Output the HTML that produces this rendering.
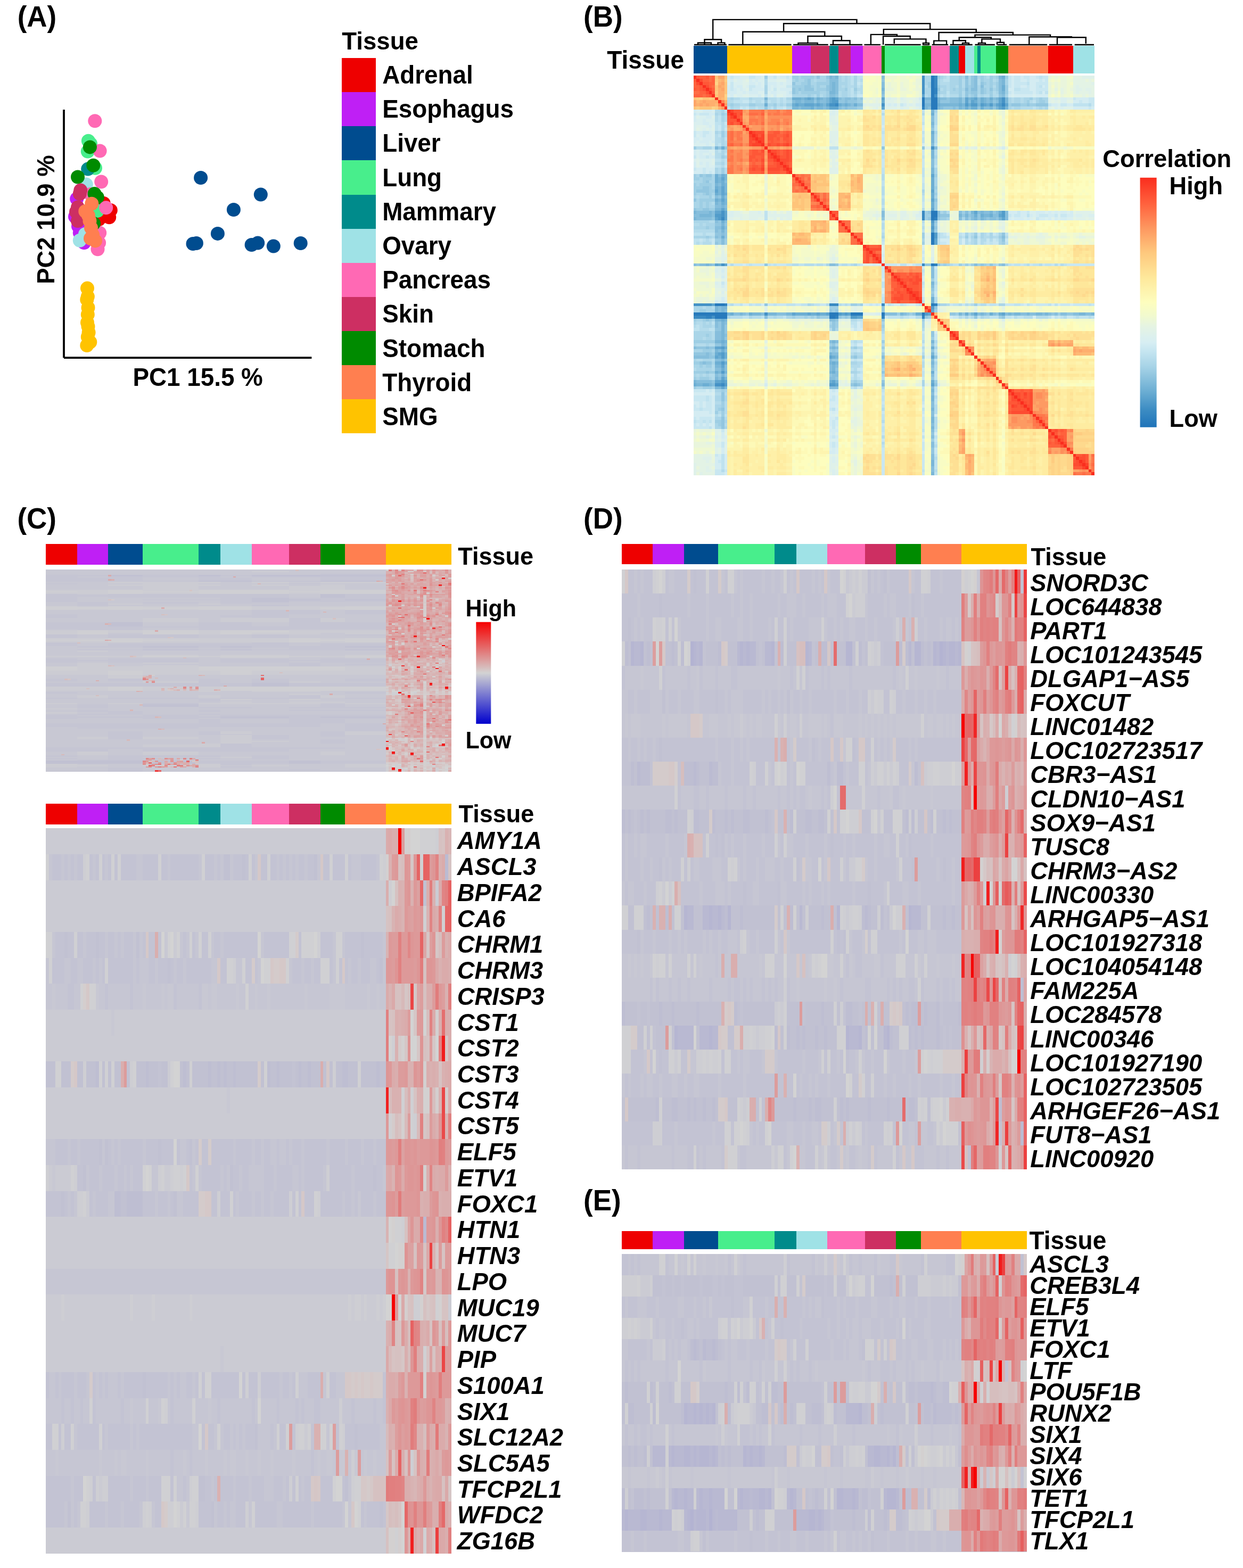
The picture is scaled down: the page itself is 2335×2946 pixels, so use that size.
<!DOCTYPE html>
<html lang="en"><head><meta charset="utf-8"><title>Figure</title>
<style>html,body{margin:0;padding:0;background:#fff}body{width:2335px;height:2946px;overflow:hidden}svg{display:block}text{font-family:'Liberation Sans',sans-serif;font-weight:bold;fill:#000}</style>
</head><body>
<svg width="2335" height="2946" viewBox="0 0 2335 2946">
<rect width="2335" height="2946" fill="#fff"/>
<text transform="translate(32.7 49.8) scale(1 1.03)" font-size="53">(A)</text>
<path d="M120 206V672.2M120 672.2H585.4" fill="none" stroke="#000" stroke-width="3.8"/>
<text transform="translate(371.6 725.0) scale(1 1.03)" font-size="45.8" text-anchor="middle">PC1 15.5 %</text>
<text transform="translate(102,412.6) rotate(-90) scale(1 1.03)" font-size="45.4" text-anchor="middle">PC2 10.9 %</text>
<circle cx="144.2" cy="373.4" r="13.0" fill="#bf1ff5"/>
<circle cx="149.8" cy="437.5" r="13.0" fill="#bf1ff5"/>
<circle cx="158" cy="456" r="13.0" fill="#bf1ff5"/>
<circle cx="141" cy="407" r="13.0" fill="#bf1ff5"/>
<circle cx="147" cy="425" r="13.0" fill="#bf1ff5"/>
<circle cx="161.8" cy="346.4" r="13.0" fill="#9fe2e6"/>
<circle cx="149.8" cy="451.7" r="13.0" fill="#9fe2e6"/>
<circle cx="157" cy="360" r="13.0" fill="#9fe2e6"/>
<circle cx="160" cy="440" r="13.0" fill="#9fe2e6"/>
<circle cx="165.9" cy="264.8" r="13.0" fill="#48ee8c"/>
<circle cx="164.8" cy="284.6" r="13.0" fill="#48ee8c"/>
<circle cx="179" cy="315.7" r="13.0" fill="#48ee8c"/>
<circle cx="170" cy="270" r="13.0" fill="#48ee8c"/>
<circle cx="165.2" cy="317.6" r="13.0" fill="#008b8b"/>
<circle cx="178.3" cy="227.3" r="13.0" fill="#ff69b4"/>
<circle cx="187.6" cy="283.5" r="13.0" fill="#ff69b4"/>
<circle cx="190.2" cy="341.5" r="13.0" fill="#ff69b4"/>
<circle cx="187.2" cy="437.5" r="13.0" fill="#ff69b4"/>
<circle cx="186.1" cy="456.2" r="13.0" fill="#ff69b4"/>
<circle cx="183.5" cy="468.2" r="13.0" fill="#ff69b4"/>
<circle cx="170" cy="365" r="13.0" fill="#ff69b4"/>
<circle cx="194.7" cy="382" r="13.0" fill="#ee0000"/>
<circle cx="207.8" cy="395" r="13.0" fill="#ee0000"/>
<circle cx="205.2" cy="408.2" r="13.0" fill="#ee0000"/>
<circle cx="190" cy="395" r="13.0" fill="#ee0000"/>
<circle cx="186" cy="412" r="13.0" fill="#ee0000"/>
<circle cx="183" cy="396" r="13.0" fill="#48ee8c"/>
<circle cx="168.9" cy="276.4" r="13.0" fill="#008b00"/>
<circle cx="175.3" cy="310.8" r="13.0" fill="#008b00"/>
<circle cx="146" cy="332.5" r="13.0" fill="#008b00"/>
<circle cx="177.5" cy="364" r="13.0" fill="#008b00"/>
<circle cx="182.8" cy="370.8" r="13.0" fill="#008b00"/>
<circle cx="176" cy="420" r="13.0" fill="#008b00"/>
<circle cx="199.2" cy="390.2" r="13.0" fill="#ff69b4"/>
<circle cx="151.3" cy="357.6" r="13.0" fill="#cd2f62"/>
<circle cx="149.8" cy="364" r="13.0" fill="#cd2f62"/>
<circle cx="146" cy="389.5" r="13.0" fill="#cd2f62"/>
<circle cx="143" cy="398" r="13.0" fill="#cd2f62"/>
<circle cx="146" cy="415" r="13.0" fill="#cd2f62"/>
<circle cx="150" cy="405" r="13.0" fill="#cd2f62"/>
<circle cx="172.3" cy="382.7" r="13.0" fill="#ff7f50"/>
<circle cx="160.3" cy="397" r="13.0" fill="#ff7f50"/>
<circle cx="168.5" cy="415" r="13.0" fill="#ff7f50"/>
<circle cx="166" cy="405" r="13.0" fill="#ff7f50"/>
<circle cx="171" cy="428" r="13.0" fill="#ff7f50"/>
<circle cx="174.1" cy="441.2" r="13.0" fill="#ff7f50"/>
<circle cx="179" cy="452.4" r="13.0" fill="#ff7f50"/>
<circle cx="170" cy="448" r="13.0" fill="#ff7f50"/>
<circle cx="377.1" cy="334" r="13.0" fill="#004c8f"/>
<circle cx="489.8" cy="365.5" r="13.0" fill="#004c8f"/>
<circle cx="438.9" cy="394" r="13.0" fill="#004c8f"/>
<circle cx="408.9" cy="438.9" r="13.0" fill="#004c8f"/>
<circle cx="362.5" cy="458" r="13.0" fill="#004c8f"/>
<circle cx="368.9" cy="457" r="13.0" fill="#004c8f"/>
<circle cx="472.6" cy="460" r="13.0" fill="#004c8f"/>
<circle cx="484.2" cy="456.5" r="13.0" fill="#004c8f"/>
<circle cx="513.8" cy="462.5" r="13.0" fill="#004c8f"/>
<circle cx="564.7" cy="457" r="13.0" fill="#004c8f"/>
<circle cx="164" cy="541.6" r="13.0" fill="#ffc300"/>
<circle cx="164.8" cy="557.3" r="13.0" fill="#ffc300"/>
<circle cx="163.3" cy="562.9" r="13.0" fill="#ffc300"/>
<circle cx="165.5" cy="577.9" r="13.0" fill="#ffc300"/>
<circle cx="164.8" cy="591" r="13.0" fill="#ffc300"/>
<circle cx="164" cy="606" r="13.0" fill="#ffc300"/>
<circle cx="165.5" cy="613.5" r="13.0" fill="#ffc300"/>
<circle cx="166.6" cy="624.7" r="13.0" fill="#ffc300"/>
<circle cx="164.8" cy="633" r="13.0" fill="#ffc300"/>
<circle cx="169.3" cy="642.7" r="13.0" fill="#ffc300"/>
<circle cx="163.3" cy="649" r="13.0" fill="#ffc300"/>
<text transform="translate(642.3 93.3) scale(1 1.03)" font-size="45.6">Tissue</text>
<g shape-rendering="crispEdges">
<rect x="641.8" y="109.3" width="64.1" height="64.1" fill="#ee0000"/>
<rect x="641.8" y="173.35" width="64.1" height="64.1" fill="#bf1ff5"/>
<rect x="641.8" y="237.4" width="64.1" height="64.1" fill="#004c8f"/>
<rect x="641.8" y="301.45" width="64.1" height="64.1" fill="#48ee8c"/>
<rect x="641.8" y="365.5" width="64.1" height="64.1" fill="#008b8b"/>
<rect x="641.8" y="429.55" width="64.1" height="64.1" fill="#9fe2e6"/>
<rect x="641.8" y="493.6" width="64.1" height="64.1" fill="#ff69b4"/>
<rect x="641.8" y="557.65" width="64.1" height="64.1" fill="#cd2f62"/>
<rect x="641.8" y="621.7" width="64.1" height="64.1" fill="#008b00"/>
<rect x="641.8" y="685.75" width="64.1" height="64.1" fill="#ff7f50"/>
<rect x="641.8" y="749.8" width="64.1" height="64.1" fill="#ffc300"/>
</g>
<text transform="translate(718.2 157.1) scale(1 1.03)" font-size="45.8">Adrenal</text>
<text transform="translate(718.2 221.3) scale(1 1.03)" font-size="45.8">Esophagus</text>
<text transform="translate(718.2 285.4) scale(1 1.03)" font-size="45.8">Liver</text>
<text transform="translate(718.2 349.6) scale(1 1.03)" font-size="45.8">Lung</text>
<text transform="translate(718.2 413.8) scale(1 1.03)" font-size="45.8">Mammary</text>
<text transform="translate(718.2 478.0) scale(1 1.03)" font-size="45.8">Ovary</text>
<text transform="translate(718.2 542.1) scale(1 1.03)" font-size="45.8">Pancreas</text>
<text transform="translate(718.2 606.3) scale(1 1.03)" font-size="45.8">Skin</text>
<text transform="translate(718.2 670.5) scale(1 1.03)" font-size="45.8">Stomach</text>
<text transform="translate(718.2 734.6) scale(1 1.03)" font-size="45.8">Thyroid</text>
<text transform="translate(718.2 798.8) scale(1 1.03)" font-size="45.8">SMG</text>
<text transform="translate(1096.0 50.2) scale(1 1.03)" font-size="53">(B)</text>
<text transform="translate(1285.0 129.4) scale(1 1.03)" font-size="46" text-anchor="end">Tissue</text>
<g shape-rendering="crispEdges">
<rect x="1302.6" y="86" width="63.77" height="52.3" fill="#004c8f"/>
<rect x="1366.37" y="86" width="121.74" height="52.3" fill="#ffc300"/>
<rect x="1488.1" y="86" width="34.78" height="52.3" fill="#bf1ff5"/>
<rect x="1522.88" y="86" width="34.78" height="52.3" fill="#cd2f62"/>
<rect x="1557.66" y="86" width="17.39" height="52.3" fill="#008b8b"/>
<rect x="1575.06" y="86" width="23.19" height="52.3" fill="#cd2f62"/>
<rect x="1598.24" y="86" width="23.19" height="52.3" fill="#bf1ff5"/>
<rect x="1621.43" y="86" width="34.78" height="52.3" fill="#ff69b4"/>
<rect x="1656.21" y="86" width="5.8" height="52.3" fill="#008b00"/>
<rect x="1662.01" y="86" width="69.56" height="52.3" fill="#48ee8c"/>
<rect x="1731.57" y="86" width="17.39" height="52.3" fill="#008b00"/>
<rect x="1748.96" y="86" width="34.78" height="52.3" fill="#ff69b4"/>
<rect x="1783.74" y="86" width="17.39" height="52.3" fill="#008b8b"/>
<rect x="1801.14" y="86" width="11.59" height="52.3" fill="#ee0000"/>
<rect x="1812.73" y="86" width="17.39" height="52.3" fill="#9fe2e6"/>
<rect x="1830.12" y="86" width="5.8" height="52.3" fill="#48ee8c"/>
<rect x="1835.92" y="86" width="5.8" height="52.3" fill="#008b8b"/>
<rect x="1841.71" y="86" width="28.98" height="52.3" fill="#48ee8c"/>
<rect x="1870.7" y="86" width="23.19" height="52.3" fill="#008b00"/>
<rect x="1893.89" y="86" width="75.36" height="52.3" fill="#ff7f50"/>
<rect x="1969.25" y="86" width="46.38" height="52.3" fill="#ee0000"/>
<rect x="2015.62" y="86" width="40.58" height="52.3" fill="#9fe2e6"/>
</g>
<g shape-rendering="crispEdges">
<rect x="1302.6" y="142.2" width="753.6" height="750.9" fill="#feeca1"/>
<g transform="translate(1302.6 145.0881) scale(5.7969 5.7762)" fill="none" stroke-width="1">
<path stroke="#277abc" d="M77 0h1M77 1h1M77 2h1M77 3h1M77 4h1M77 5h1M77 6h1M74 7h1m2 0h2M74 8h1m2 0h2M74 9h1m2 0h2m-2 1h2M77 44h2m-2 1h2m-2 1h1m-1 5h1m-1 1h1m-1 1h1m-1 1h1m-1 7h1M7 74h3m67 0h1M0 77h11m33 0h3m4 0h4m6 0h1m12 0h1M7 78h4m33 0h2"/>
<path stroke="#3082bf" d="M78 4h1M78 5h1m-5 5h1m3 36h1M78 61h1M10 74h1m67 0h1M4 78h2m40 0h1m14 0h1m12 0h1"/>
<path stroke="#3989c2" d="M78 0h1M78 1h1M78 2h1M78 3h1M46 9h1m53 0h1M74 44h1m-1 1h1M9 46h1m64 0h1M74 61h1M44 74h3m14 0h1M0 78h4m5 22h1"/>
<path stroke="#4592c6" d="M74 0h1M74 1h1M74 2h1M74 3h1M74 4h1M74 5h1m3 1h1m21 1h1m-1 1h1M44 9h2M61 9h1M77 23h1M9 44h1M9 45h1M9 61h1M0 74h6m17 3h1M6 78h1m0 22h2"/>
<path stroke="#529cca" d="M45 7h1M45 8h2M88 9h1m1 0h2m1 0h1m2 0h1m2 0h1m0 1h1m-1 34h1M7 45h2m91 0h1M8 46h1m68 1h1m-1 2h1m0 2h1m-1 1h1M77 75h1M47 77h1m1 0h1m25 0h1M51 78h2M9 88h1M9 90h1M9 91h1M9 93h1M9 96h1M9 99h1m0 1h1m33 0h2"/>
<path stroke="#5fa5cf" d="M74 6h1M37 7h1m6 0h1m1 0h1M61 7h1M88 7h1m2 0h1m7 0h1M44 8h1M88 8h1m1 0h1m8 0h1M33 9h1m2 0h3m1 0h1m2 0h1M94 9h1m3 0h1m2 0h1M44 10h3m14 0h1m37 0h1M77 32h1M9 33h1M9 36h1M7 37h1m1 0h1m67 0h1M9 38h1M9 40h1m67 0h1M9 43h1m67 0h1M7 44h2m1 0h1m80 0h1M10 45h1m88 0h1M7 46h1m2 0h1m89 0h1M77 48h1m-1 2h1m0 3h1m-1 1h1M7 61h1m2 0h1M6 74h1m70 2h1M32 77h1m4 0h1m2 0h1m2 0h1m4 0h1m1 0h1m25 0h1m14 0h1m8 0h1M53 78h2M7 88h2M8 90h1M7 91h1m36 0h1m32 0h1M9 94h1M9 98h1M7 99h2m1 0h1m34 0h1m0 1h1m30 0h1M9 101h1"/>
<path stroke="#6caed3" d="M100 0h1m-1 3h1m-1 1h1M32 7h3m1 0h1m1 0h1m1 0h1M90 7h1m2 0h1m2 0h1M61 8h1M91 8h1m1 0h1M23 9h1m8 0h1m1 0h2m3 0h1m1 0h1m5 0h1m1 0h1m2 0h1M79 9h1m6 0h1m2 0h1m5 0h1M38 10h1m49 0h1m1 0h2m1 0h1M77 12h1m-1 6h1M9 23h1M7 32h1m1 0h1M7 33h1m69 0h1M7 34h1m1 0h1m67 0h1M9 35h1m67 0h1M7 36h1m69 0h1M7 38h1m2 0h1m66 0h1M9 39h1m67 0h1M7 40h1m1 1h1m67 0h1m-1 1h1m21 2h1m-9 1h1m1 0h1m2 0h1M9 47h1M9 49h1M9 52h1M8 61h1M77 72h1m-1 1h1M12 77h1m5 0h1m14 0h4m1 0h2m1 0h2m29 0h2m14 0h1m7 0h1m2 0h1M9 79h1M9 86h1m0 2h1m66 0h1M9 89h1M7 90h1m2 0h1M8 91h1m1 0h1m34 0h1M7 93h2m1 0h1m34 0h1M9 95h1M7 96h1m37 0h1m31 0h1M44 99h1m32 0h1M0 100h1m2 0h2"/>
<path stroke="#79b6d7" d="M44 0h1m1 0h1M99 0h1m0 1h1M45 2h1m54 0h1M45 3h1M45 4h1M61 4h1M44 5h2m54 0h1M23 7h1M35 7h1m5 0h1m1 0h1M75 7h2m2 0h1m6 0h1m2 0h1m4 0h1m3 0h1m2 0h1M33 8h2m1 0h3m1 0h1m2 0h1M79 8h1m6 0h1m7 0h1m1 0h1m4 0h1M42 9h1m5 0h1m1 0h1M75 9h2m3 0h6m1 0h1m4 0h1m4 0h1M32 10h2m1 0h3m2 0h2m1 0h1m31 0h1m3 0h1m6 0h1m9 0h1m1 0h1m2 0h1M77 11h1m-1 4h1m-1 4h1m-1 1h1m-1 1h1M7 23h1m69 1h1m-1 1h1m-1 1h1m-1 4h1m-1 1h1M10 32h1M8 33h1m1 0h1M8 34h1M7 35h1m2 0h1M8 36h1m1 0h1M8 37h1m1 0h1M8 38h1M8 40h1m1 0h1M7 41h1m2 0h1M9 42h1M7 43h2m1 0h1M0 44h1m4 0h1m84 0h1m2 0h1m2 0h1M2 45h4m80 0h1m1 0h1m5 0h2M0 46h1m90 0h1m1 0h1m5 0h1M9 48h1M9 50h1M4 61h1m72 6h1M7 75h1m1 0h2M7 76h1m1 0h1m1 1h1m3 0h1m3 0h3m2 0h3m3 0h2m35 0h1m18 0h1m3 0h1m2 0h1m8 0h1m1 0h2m2 0h1m2 0h2m1 0h1m10 0h2m2 0h1M7 79h2m1 0h1M9 80h1M9 81h1M9 82h1M9 83h1M9 84h1M9 85h1M7 86h2m1 0h1m34 0h1m31 0h1M9 87h1m35 1h1M7 89h1m36 1h1m32 0h1M46 91h1M9 92h1m34 1h1m1 0h1m30 0h1M7 94h2m36 0h1m-1 1h1M8 96h1m1 0h1m33 0h1M9 97h1M7 98h1m2 0h1M0 99h1m45 0h1M1 100h2m2 0h1m1 1h2m1 0h1m66 1h1m-1 2h1m-1 1h1m-1 3h1m-1 3h1m-1 1h1m-1 2h1m-1 11h1m-1 1h1m-1 3h1"/>
<path stroke="#86bedc" d="M45 0h1M61 0h1M88 0h1m2 0h1M44 1h3M91 1h1m7 0h1M44 2h1m1 0h1M61 2h1M91 2h1m7 0h1M44 3h1m1 0h1M61 3h1M91 3h1m1 0h1m5 0h1M44 4h1m1 0h1M88 4h1m1 0h2m7 0h1M46 5h1M61 5h1M99 5h1M44 6h2m54 0h1M39 7h1m2 0h1m4 0h1m1 0h2m1 0h1M80 7h2m1 0h3m6 0h1m2 0h1m1 0h1M32 8h1m2 0h1m5 0h2m6 0h1M75 8h2m6 0h3m3 0h1m2 0h1m2 0h1m2 0h1M51 9h1m1 0h2M34 10h1m4 0h1m2 0h1m4 0h1m1 0h1m26 0h1m3 0h1m3 0h1m2 0h1m1 0h1m4 0h2M77 13h1m-1 1h1m-1 2h1m-1 6h1m0 1h1m-2 4h1m-1 1h1m-1 1h1M8 32h1m1 2h1M8 35h1M7 39h1m2 0h1M8 41h1M7 42h2m1 0h1M1 44h4m1 0h1m54 0h1m17 0h1m6 0h1m1 0h1m3 0h1m1 0h2m2 0h1m2 0h1M0 45h2m4 0h1m54 0h1m17 0h1m10 0h1m6 0h2m2 0h1M1 46h5m80 0h1m1 0h1m1 0h1m3 0h1m1 0h2m3 0h1M7 47h1m2 0h1M7 49h2m1 0h1M7 50h1m1 1h1M7 52h1m92 0h1M9 53h1M9 54h1M0 61h1m1 0h2m1 0h1m38 0h2m45 0h1m8 0h1M77 62h1m-1 1h1m-1 1h1m-1 1h1m-1 3h1M8 75h1M8 76h1m1 0h1m2 1h2m1 0h1m5 0h1m4 0h3m32 0h4m2 0h1m23 0h1m1 0h1m2 0h1m3 0h1m1 0h1m2 0h2m1 0h2m2 0h1m1 0h1m1 0h1m1 0h2m2 0h2m2 0h2M23 78h1m20 1h2M7 80h1m2 0h1M7 81h1M7 83h2M7 84h2m1 0h1M7 85h2m35 1h1m1 0h1M10 87h1M0 88h1m3 0h1m39 0h1m1 0h1M8 89h1m1 0h1M4 90h1m40 0h2M0 91h5m56 0h1M7 92h2m35 0h1m32 0h1M3 93h1m6 1h1m33 0h1m1 0h1m30 0h1M7 95h2m1 0h1m33 0h1m1 1h1M7 97h1m37 0h2m30 0h1M8 98h1m35 0h2M1 99h5m0 1h1m45 0h1m8 0h1m-18 1h3m30 0h1m-1 2h1m-1 3h1m-1 1h1m-1 2h1m-1 1h1m-1 3h1m-1 2h1m-1 2h1m-1 2h1m-1 1h1m-1 3h1m-1 1h1m-1 3h1m-1 1h1"/>
<path stroke="#92c6e0" d="M40 0h1m2 0h1M90 0h1M37 1h1M61 1h1M88 1h1m1 0h1M32 2h1m4 0h1M88 2h1m1 0h1m2 0h1M36 3h2m5 0h1M88 3h1m1 0h1M32 4h1m1 0h1m1 0h3m4 0h1M79 4h1M93 4h1m2 0h1M32 5h1M88 5h1m1 0h2m1 0h1M46 6h1M61 6h1M88 6h1m2 0h1m7 0h1M48 7h1m2 0h1m2 0h1M82 7h1m4 0h1M23 8h1M39 8h1m7 0h2m1 0h3M80 8h3m4 0h1m9 0h1m5 1h3m2 0h1m2 0h4M23 10h1m24 0h1m1 0h3m28 0h3m1 0h1m6 0h1m4 0h1M77 17h1M8 23h1m1 0h1m50 0h1m12 0h1M2 32h1m1 0h2M4 34h1M3 36h2M1 37h4M4 38h1m3 1h1M0 40h1m77 0h1M0 43h1m2 0h2m71 1h1m20 0h1M80 45h3m4 0h1m1 0h1m2 0h1M6 46h1m54 0h1m14 0h1m2 0h1m12 0h1m2 0h1m2 0h1M8 47h1m69 0h1M7 48h2m1 0h1m67 1h1M8 50h1m1 0h1M7 51h2m1 0h1m89 0h1M8 52h1m1 0h1m80 0h1m8 1h1M7 54h1M1 61h1m4 0h1m16 0h1m22 0h1m28 0h2m2 0h1m13 0h1m2 0h1m2 0h1M77 69h1m-1 2h1M23 74h1m37 1h1m16 0h1M44 76h1m1 0h1m14 0h1M17 77h1m51 0h1m1 0h1m11 0h2m2 0h1m1 0h1m5 0h1m2 0h1m17 0h1m4 0h2M40 78h1m6 0h1m1 0h1m25 0h1m15 0h1m8 0h1M4 79h1m41 0h1m14 0h1M8 80h1m36 0h1M8 81h1m1 0h1m34 0h1M7 82h2m1 0h1m34 0h1M10 83h1m66 0h1m-1 1h1M10 85h1M7 87h2m36 0h1m31 0h1M1 88h3m1 0h2m38 1h1m31 0h1M0 90h4m1 0h1M5 91h2m45 0h1m25 0h1M10 92h1m34 0h2M2 93h1m1 0h2m55 0h1M46 95h1m30 0h1M4 96h1m56 0h1M8 97h1m1 0h1m33 0h1m1 1h1m30 0h1M6 99h1m54 0h1m-11 1h1m1 0h1m24 0h1M9 103h1m-1 1h1m-1 1h1m-1 3h1m-1 3h1m-1 1h1m-1 1h1m-1 1h1m67 2h1m-1 5h1m-1 1h1"/>
<path stroke="#9ecee4" d="M23 0h1m8 0h2m1 0h4M79 0h1m6 0h1m6 0h1m2 0h1m1 0h1m2 0h1M33 1h1m2 0h1m6 0h1M86 1h1m6 0h1m2 0h1M35 2h2m3 0h4M76 2h1m9 0h1m7 0h1m1 0h1m1 0h1M32 3h4m2 0h1m1 0h1M76 3h1m2 0h1m6 0h1m2 0h1m6 0h1m1 0h1m2 0h1M33 4h1m1 0h1m4 0h3m6 0h1m2 0h1M84 4h1m1 0h1m2 0h1m4 0h1m3 0h1m2 0h1M33 5h1m1 0h6m2 0h1M79 5h1m6 0h1m2 0h1m4 0h1m1 0h1m4 0h1M37 6h1m2 0h1m2 0h1M86 6h1m3 0h1m5 0h1M53 7h1m55 0h1m2 0h1M53 8h2m53 0h1m3 0h2M12 9h1m5 0h2m6 0h1m3 0h2m70 0h1m3 0h2m1 0h2M53 10h2M9 12h1M9 18h1M9 19h1M0 23h1m8 3h1M9 30h1M9 31h1M0 32h1m2 0h1m74 0h1M0 33h2m1 0h3M3 34h1M0 35h1m1 0h4M0 36h3m2 0h1m72 0h1M0 37h1m4 0h2M0 38h1m2 0h1m1 0h1m72 0h1M5 39h1M2 40h5M2 41h1m1 0h1m73 0h1M2 42h1m1 0h1m73 0h1M1 43h2m2 0h2m71 0h1m-4 1h1m5 0h1m5 0h1m1 0h1M75 45h2m-2 1h1m4 0h2m7 0h1M78 48h1M4 49h1m73 1h1m-5 1h1m16 0h1M4 52h1m69 0h1m13 0h1m10 0h1M7 53h2m1 0h1M8 54h1m1 0h1m63 0h1m25 0h1M81 61h1m4 0h1m1 0h1m1 0h1m1 0h1m1 0h1M77 66h1m-1 4h1M51 74h2m1 0h1m24 0h1m11 0h1M44 75h3M2 76h2m41 0h1m32 0h1M66 77h1m3 0h1m14 0h1m32 0h1M32 78h1m3 0h1m1 0h1m2 0h3m4 0h1m1 0h1m25 0h1m22 0h1M0 79h1m2 0h1m1 0h1m68 0h1M46 80h1m-3 1h1m1 0h1m14 0h1M4 84h1m72 1h1M0 86h7m54 0h1M44 87h1m7 1h1m8 0h1M3 89h3m38 0h1m1 0h1M6 90h1m54 0h1M51 91h1m22 0h1M61 92h1M0 93h2m0 1h1m1 0h2m55 0h1M0 96h4m1 0h2M0 98h1m1 0h3m47 1h1m25 0h1m-25 1h1M0 101h1m2 0h3m3 1h1m-1 4h1m-1 1h1m-2 1h1m-2 1h1m1 0h1m-1 1h1m-3 2h2m-1 1h1m68 5h1"/>
<path stroke="#aad5e8" d="M34 0h1m4 0h1m1 0h2m4 0h1m1 0h1m2 0h1M75 0h2m3 0h1m2 0h3m1 0h1m1 0h1m2 0h1m1 0h1m2 0h1M32 1h1m1 0h2m2 0h1m1 0h3m4 0h1m1 0h1m2 0h1M75 1h2m2 0h1m3 0h3m3 0h1m4 0h2m2 0h1m2 0h1M33 2h2m3 0h2m7 0h3m2 0h1M75 2h1m3 0h1m3 0h3m3 0h1m5 0h1m1 0h1m3 0h1M23 3h1M39 3h1m1 0h2m4 0h1m1 0h1m2 0h1M80 3h2m1 0h2m7 0h1m1 0h2M23 4h1M39 4h1m7 0h2M75 4h2m4 0h1m1 0h1m1 0h1m1 0h1m4 0h1m2 0h1m1 0h1M23 5h1M34 5h1m6 0h2m5 0h2m2 0h1M75 5h2m3 0h2m1 0h3m6 0h1m2 0h1m2 0h1M32 6h5m1 0h1m3 0h1m5 0h2M76 6h1m2 0h1m9 0h1m3 0h1m7 0h1M12 7h1m5 0h1M30 7h2m70 0h1m1 0h2m1 0h2m2 0h1m1 0h2M102 8h1m1 0h2m1 0h1m3 0h1m2 0h1M11 9h1m1 0h2m5 0h3m1 0h2m2 0h1M12 10h1m13 0h1m75 0h1m1 0h2m6 0h1m1 0h1M9 11h1m68 0h1M7 12h1m2 0h1M9 13h1M9 14h1M7 18h1m70 0h1M9 20h1M9 21h1M9 22h1M3 23h3m3 1h1M9 25h1m0 1h1m67 0h1M9 28h1M7 30h1m70 0h1M7 31h1m70 0h1M1 32h1m4 0h1M2 33h1m3 0h1m71 0h1M0 34h3m2 0h2m71 0h1M1 35h1m4 0h1m71 0h1M6 36h1m67 1h1m3 0h1M1 38h2m3 0h1M0 39h1m1 0h3m73 0h1M1 40h1M0 41h2m1 0h1m1 0h1M0 42h2m1 0h1m1 0h2m54 1h1m18 1h1m1 2h1m4 0h1M0 47h5M2 48h1m1 0h3M0 49h4m1 0h2m81 2h1m4 0h1m2 0h1m2 0h1M0 52h4m1 0h1m55 0h1m28 0h1m2 0h1m2 0h1M74 53h1m16 0h1m7 0h1m-9 1h1m7 0h1M43 61h1m8 0h1m27 0h1m1 0h1m12 0h1m1 0h1m3 0h1M37 74h1m15 0h1m26 0h2m17 0h2M0 75h3m1 0h2M0 76h2m2 0h3m4 2h1m6 0h1m7 0h1m3 0h2m1 0h3m1 0h1m1 0h1m48 0h1m4 0h1M1 79h2m3 0h1M0 80h1m2 0h1m1 0h1m38 0h1m16 0h1m12 0h1M3 81h3m68 0h1M46 82h1m14 0h1M0 83h6M0 84h4m1 0h1M0 85h3m1 0h2M0 87h1m3 0h1m41 0h1m4 1h1m26 0h1M0 89h3m3 0h1m45 1h1m0 1h2M0 92h1m2 0h3m0 1h1m44 0h2m25 0h1M0 94h2m1 0h1M1 95h5m55 0h1M51 96h2M0 97h1m1 0h1m1 0h1m56 0h1M1 98h1m3 0h1m45 1h1m1 0h2m19 0h1m-1 1h1M1 101h2m3 0h1m54 0h1M7 102h2m1 0h1m-4 2h2m1 0h1m-4 1h2m1 0h1m-4 2h2m-2 1h1m-1 3h2m1 1h1m-4 1h1m-1 1h2m1 0h1"/>
<path stroke="#b4dbeb" d="M48 0h1m1 0h1M81 0h1M95 0h1M23 1h1M39 1h1m8 0h1m1 0h1m3 0h1M80 1h1m6 0h1m4 0h1m4 0h1M23 2h1M50 2h1M80 2h3m4 0h1m4 0h1M48 3h1m1 0h2m2 0h1M75 3h1m6 0h1m2 0h1m1 0h1m9 0h1M50 4h1m2 0h2M80 4h1m1 0h1M47 5h1m2 0h1m3 0h1M87 5h1m9 0h1M39 6h1m1 0h1m5 0h1m2 0h1m1 0h1M75 6h1m5 0h1m1 0h3m1 0h1m4 0h1m1 0h2m1 0h2M11 7h1m1 0h2m4 0h4m1 0h3m1 0h1m74 0h1m2 0h1m3 0h1M11 8h2m5 0h1m1 0h2m3 0h2m1 0h1m1 0h2m71 0h1m2 0h1m2 0h1M15 9h3m9 0h1m1 0h1m98 0h1M13 10h2m3 0h2m1 0h2m1 0h1m5 0h2m71 0h1m2 0h4m1 0h1m1 0h1M7 11h2M8 12h1m52 0h1m12 0h1m3 0h1M7 13h1m2 0h1m67 0h1M7 14h1m2 0h1m67 0h1M9 15h1m68 0h1M9 16h1M9 17h1M8 18h1m1 0h1M7 19h1m2 0h1m67 0h1M7 20h2m69 0h1M7 21h2m1 0h1m67 0h1M7 22h1m2 0h1M1 23h2m4 1h1m2 0h1m67 0h1M7 25h2m69 0h1M7 26h2m0 1h1m68 0h1M7 28h2m69 0h1M9 29h1M8 30h1m1 0h1M8 31h1m1 0h1m50 1h1m-1 1h1m-1 3h1m-1 1h1m-1 1h1m12 0h1M1 39h1m4 0h1m54 1h1M6 41h1m54 0h1m12 2h1m7 1h1M5 47h2m67 0h1M0 48h2m1 0h1m57 0h1m-1 1h1m12 0h1M0 50h7M3 51h1m57 0h1m17 0h1m10 0h1m3 0h1M6 52h1m72 0h1m6 0h1m7 0h2m1 0h2m2 0h1M4 53h1m83 0h1m1 0h1m2 0h2m1 0h1M1 54h1m1 0h3m82 0h1m1 0h1m2 0h1M12 61h1m19 0h2m2 0h3m1 0h2m6 0h2m1 0h1m31 0h1m3 0h1m1 0h1m8 0h1m9 0h1m3 0h1m4 0h1m1 0h1M78 67h1m-1 5h1m-1 1h1M12 74h1m25 0h1m4 0h1m3 0h1m1 0h1m32 0h1m3 0h1m1 0h1m1 0h1m2 0h2M3 75h1m2 0h1m5 3h4m3 0h3m2 0h2m1 0h2m38 0h1m4 0h2m12 0h1m3 0h1m3 0h2m8 0h1m2 0h3m1 0h4m5 0h1m3 0h1m3 0h1M51 79h2M1 80h2m1 0h1M0 81h1m1 0h1m3 0h1M2 82h3m39 0h1m29 0h1M6 83h1m54 0h1M6 84h1M3 85h1m2 0h1m45 1h1m21 0h1m3 0h1M1 87h3m1 0h2m54 0h1m-9 1h2m19 0h1M61 89h1M51 90h1m1 0h2m19 0h1m3 0h1M1 92h2m3 0h1m46 1h2m19 0h1M6 94h1m44 0h3m20 0h1m3 0h1M0 95h1m5 0h1m45 0h1m25 0h1M53 96h1M1 97h1m1 0h1m1 0h2m45 0h1M6 98h1m45 0h1m8 0h1m-10 3h1M7 103h2m1 0h1m67 1h1M7 106h2m1 0h1m-1 1h1m67 0h1m-69 1h1m50 0h1m16 0h1M8 109h1m1 0h1m67 0h1M7 110h1m2 1h1m67 0h1m-18 1h1m16 0h1m-69 1h1m67 0h1m-1 1h1m-18 3h1m-1 2h1m16 1h1m-1 4h1M9 128h1m68 0h1"/>
<path stroke="#bfe2ef" d="M51 0h1m1 0h2M82 0h1m29 0h1M51 1h1m1 0h1M81 1h2M51 2h1m2 0h1m53 0h1M53 3h1m58 0h1M51 4h1m52 0h2M51 5h1m1 0h1M82 5h1m29 0h1m1 0h1M23 6h1M51 6h1M80 6h1m1 0h1M15 7h3m9 0h1m1 0h1M13 8h3m3 0h1m2 0h1m1 0h1m2 0h1m1 0h1m80 0h1m12 1h5M11 10h1m4 0h1m3 0h1m4 0h1m1 0h2m81 0h1M10 11h1m63 0h1M8 13h1M8 14h1M7 15h2m65 0h1M7 16h1m2 0h1m67 0h1M7 17h1m70 0h1M61 18h1m12 0h1M8 19h1m1 1h1m63 0h1m-1 1h1M8 22h1m69 0h1M6 23h1m37 0h3M8 24h1m52 0h1M10 25h1m50 1h1m12 0h1M7 27h2m1 0h1m-1 1h1M7 29h2m69 0h1M61 30h1m12 0h1M61 31h1m12 0h1m-1 1h1M61 34h1m-1 1h1m12 0h1m-1 1h1M61 39h1m12 0h1m-1 1h1M61 42h1M23 44h1m-1 1h1m84 0h1M23 46h1m37 1h1m12 1h1M61 50h1m12 0h1M0 51h3m1 0h3m73 0h1m5 0h1m2 0h1m5 0h1m2 0h1m2 0h1M80 52h2m5 0h1m1 0h1m2 0h1M0 53h2m1 0h1m1 0h1m55 0h1m17 0h1m6 0h1m11 0h1M0 54h1m1 0h1m76 0h1m6 0h1m2 0h1m4 0h1m1 0h1m4 0h1M18 61h1m5 0h1m1 0h1m3 0h2m2 0h2m3 0h1m2 0h1m4 0h1m2 0h1m2 0h1m13 0h2m3 0h2m10 0h2m16 0h1m1 0h2m1 0h1m2 0h2m2 0h2m4 0h1M74 63h1m3 0h1m-1 1h1m-1 1h1m-1 1h1M61 67h1m12 0h1M61 68h1m16 0h1m-1 1h1M61 72h1m-1 1h1m12 0h1M11 74h1m3 0h1m2 0h1m1 0h2m4 0h1m3 0h3m2 0h2m2 0h2m7 0h1m1 0h1m12 0h1m3 0h1m5 0h1m10 0h2m3 0h1m2 0h1m3 0h2m6 0h2m2 0h1m6 0h1m1 0h1m10 0h1M16 78h2m4 0h1m6 0h1m33 0h4m1 0h2m17 0h1m1 0h1m2 0h1m3 0h3m2 0h2m2 0h2m8 0h1m1 0h1m1 0h1m3 0h1m1 0h3m1 0h1M53 79h2M6 80h1m44 0h2M1 81h1m50 0h1M0 82h2m3 0h2m54 2h1m12 0h1M61 85h1m12 0h1M51 86h1m1 0h2m-3 1h1m25 0h1M51 89h2m1 0h1m19 0h1m3 0h1M52 92h1m21 0h1m3 0h1M54 94h1m-4 1h1m2 1h1m19 0h1m3 0h1m-5 1h1m3 0h1M51 98h1m1 0h1m24 0h1m-28 3h1m2 0h1m23 0h1m-18 1h1m16 0h1M4 104h1m56 0h1m12 0h1M4 105h1m56 0h1m12 0h1m3 0h1m-1 1h1m-18 1h1M2 108h1m42 0h1m28 0h1M8 110h1m1 0h1m50 0h1m-1 1h1M0 112h1m2 0h1m1 0h1m-1 2h1m55 0h1m-1 1h1m12 0h1m3 0h1m-5 2h1m3 0h1m-1 2h1m-18 1h1M9 123h1m68 0h1M9 124h1m-1 1h1m68 0h1M9 126h1m68 0h1M9 127h1m68 0h1m-5 1h1m3 1h1"/>
<path stroke="#c9e7f1" d="M12 0h1m5 0h2m6 0h1m3 0h1m71 0h1m1 0h2m1 0h2m2 0h1m1 0h2M102 1h1m1 0h2m2 0h1m3 0h1m1 0h1M12 2h1M53 2h1m48 0h1m1 0h4m3 0h4M12 3h1m5 0h2M30 3h2m70 0h1m1 0h2m2 0h1m2 0h1m2 0h1M12 4h1m5 0h1m7 0h1m79 0h3m2 0h4M31 5h1m70 0h1m1 0h6m1 0h1M53 6h2m68 1h1m4 0h2M16 8h2M125 8h1m2 0h2M67 9h1m47 0h1m3 0h2m8 0h1M15 10h1m1 0h1m11 0h1m98 0h1M61 11h1M0 12h1m1 0h3m56 1h1m12 0h1M61 14h1m12 0h1M10 15h1m50 0h1M8 16h1M8 17h1m1 0h1m50 0h1M0 18h1m2 0h2M0 19h1m2 0h1m57 0h1m12 0h1M61 20h1m-1 1h1m-1 1h1m12 2h1M61 25h1m12 0h1M0 26h1m3 0h1m56 1h1m12 0h1M61 28h1m12 0h1M10 29h1m50 0h1m12 0h1M0 30h1m2 0h1M3 31h1m1 0h1m68 2h1m-1 1h1m-1 7h1m-1 1h1m30 2h1m2 0h1m-7 1h1m1 0h2m6 0h3m2 0h1m1 0h2m-10 1h1M81 51h1m5 0h1m4 0h1m4 0h1M82 52h1M2 53h1m3 0h1m82 0h1m2 0h1m2 0h1m1 0h1m3 0h1M6 54h1m54 0h1m18 0h2m10 0h1m2 0h1m1 0h2M74 57h1m-1 2h1M11 61h1m1 0h3m1 0h1m1 0h4m2 0h1m1 0h3m24 0h1m7 0h4m5 0h1m31 0h1m2 0h1m2 0h1m3 0h1m2 0h1m1 0h1m2 0h9M61 62h1m16 0h1M61 63h1m-1 1h1m12 0h1M61 65h1M9 67h1m64 1h1m3 2h1M61 71h1m16 0h1m-5 1h1M13 74h2m4 0h1m4 0h2m1 0h3m3 0h2m6 0h2m14 0h1m1 0h1m4 0h1m3 0h1m3 0h1m10 0h1m3 0h1m7 0h1m2 0h1m2 0h3m2 0h1m2 0h1m1 0h4m4 0h3m1 0h5m1 0h1M62 78h1m7 0h2m12 0h2m17 0h1m14 0h1m2 0h2M54 80h1m-4 1h1m2 0h1m-3 1h1m21 1h1m3 1h1m-1 1h1M51 87h1m22 0h1M53 89h1m-3 3h1m1 0h2m-2 3h2m19 0h1M51 97h1m1 0h2m-1 1h1m19 0h1m-22 3h1m20 0h1M0 102h4m1 0h1m39 0h1m28 0h1m-14 1h1m12 0h1m3 0h1M0 104h4m1 0h1m39 0h1M0 105h4m1 0h1m38 0h2M2 106h1m1 0h2m55 0h1m12 0h1M0 107h1m1 0h1m1 0h2m-6 1h2m1 0h3m38 0h1M5 109h1m55 0h1m12 0h1M0 111h1m1 0h4m40 0h1m27 0h1M1 112h2m1 0h1m40 0h1m28 0h1M0 113h1m1 0h1m1 0h1m40 0h1m15 0h1m12 0h1M0 114h5m40 0h1m28 0h1M9 115h1m51 1h1m-17 1h1m15 1h1m16 0h1M9 119h1m35 0h1m28 0h1M9 120h1m35 0h1m28 0h1m-14 1h1m12 0h1m3 0h1m-18 1h1m16 0h1M7 123h1m53 0h1m12 0h1m-14 1h1m12 0h1M8 125h1m52 0h1m12 0h1m-14 1h1m12 0h1m-14 1h1m12 0h1M7 128h2m1 0h1m50 0h1M7 129h3m51 0h1m12 0h1"/>
<path stroke="#d4ecf2" d="M11 0h1m1 0h2m5 0h2m2 0h2m2 0h2m1 0h1m71 0h1m2 0h1m2 0h2M12 1h1m5 0h1m1 0h1m9 0h2m71 0h1m2 0h2m1 0h3m1 0h1M18 2h2m1 0h1m2 0h3m1 0h1m1 0h2m71 0h1m5 0h2M11 3h1m2 0h2m4 0h2m2 0h1m1 0h1m76 0h1m2 0h2m1 0h2m2 0h1M11 4h1m1 0h1m1 0h1m3 0h4m1 0h1m3 0h4m70 0h2m5 0h2M11 5h3m2 0h1m1 0h3m4 0h2m3 0h1m72 0h1m6 0h1m2 0h1M12 6h1m8 0h1m4 0h1m3 0h2m70 0h1m1 0h6m1 0h4M73 7h1m50 0h4m-5 1h2m1 0h2M63 9h1m1 0h1m2 0h1m3 0h2m42 0h2m3 0h2m0 1h5m1 0h1M0 11h1m2 0h3M1 12h1m3 0h2M0 13h1m3 0h2M0 14h1m2 0h1M3 15h2m0 1h1m55 0h1m12 0h1m-1 1h1M1 18h2m2 0h1M2 19h1m1 0h2M0 20h2m1 0h3M0 21h1m1 0h3m1 0h1M4 22h1m69 0h1m25 1h1M0 24h1m1 0h3M0 25h1m1 0h1m2 0h1M2 26h2m1 0h2M0 28h1m1 0h1m1 0h1M0 29h1m3 0h1M1 30h2m1 0h3M0 31h3m1 0h1m1 0h1m95 13h3m1 0h2m3 0h3m1 0h1m1 0h1m1 0h2m1 0h1m-20 1h1m2 0h2m1 0h1m1 0h1m3 0h2m4 0h2m-21 1h1m1 0h3m1 0h1m3 0h2m1 0h1m1 0h1m1 0h2M80 53h3m4 0h1m-6 1h1m4 0h1M74 56h1M61 58h1m12 0h1m-1 2h1M16 61h1m41 0h1m7 0h1m2 0h1m4 1h1M9 63h1M9 65h1m64 0h1M61 66h1m12 0h1M9 68h1m51 1h1m12 0h1M9 72h1M7 73h1m1 0h1m6 1h2m4 0h1m33 0h1m1 0h1m1 0h1m1 0h1m2 0h2m2 0h1m37 0h1m2 0h1m5 0h1m1 0h1m3 0h1M83 78h1m26 0h1m5 0h1M53 80h1m-1 1h1m-1 1h2m23 1h1M53 87h2M23 100h1M4 102h1m1 0h1m37 0h1m1 0h1M0 103h6m38 0h2M6 104h1m37 0h1m1 0h1M6 105h1m39 0h1M0 106h2m1 0h1m2 0h1m37 0h3M1 107h1m1 0h1m2 0h1m37 0h2m28 0h1M6 108h1m39 0h1M0 109h5m1 0h1m38 0h1M0 110h6m68 0h1m3 0h1M1 111h1m4 0h1m37 0h2M6 112h1m37 0h1m1 0h1M1 113h1m1 0h1m1 0h2m37 0h1m1 0h1M6 114h1m37 1h3M9 116h1m35 0h1m28 0h1m3 0h1M9 117h1m34 0h1m1 0h1m27 1h1m-31 1h1m1 0h1m-3 1h1m1 0h1M9 121h1m35 0h1M9 122h1m34 0h2m28 0h1M8 123h1m1 0h1m-4 1h2m1 0h1m-4 1h1m2 0h1m-4 1h2m1 0h1m-4 1h2m1 0h1m-1 2h1"/>
<path stroke="#daefef" d="M15 0h3m4 0h1m4 0h1M11 1h1m2 0h2m3 0h1m1 0h2m1 0h3M11 2h1m1 0h3m4 0h1m1 0h1m4 0h1m1 0h1M13 3h1m3 0h1m4 0h1m2 0h1m1 0h3M14 4h1m1 0h1m8 0h1m1 0h1M14 5h2m1 0h1m3 0h2m1 0h1m2 0h3M11 6h1m2 0h2m2 0h3m3 0h1m4 0h1m73 0h1m6 0h1M63 7h1m3 0h1m49 0h1m1 0h2M73 8h1m45 0h2M62 9h1m1 0h1m5 0h1m47 0h1M67 10h1m5 0h1m43 0h1m1 0h1M1 11h2m3 0h1m38 0h1m-2 1h2M2 13h2M1 14h2m1 0h3M0 15h3m2 0h2M0 16h1m3 0h1M0 17h1m2 0h1m1 0h1m0 1h1M1 19h1m4 0h1M2 20h1m3 0h1M1 21h1m3 0h1m38 0h1M0 22h4m1 0h1m73 1h1M1 24h1m3 0h2M1 25h1m1 0h2M1 26h1M0 27h1m1 0h4M3 28h1m1 0h1M2 29h2m1 0h2m5 15h1m8 0h1m51 0h1m35 0h2m3 0h1m1 0h1m1 0h1m2 0h1M11 45h2m59 0h2m36 0h1m7 0h1m5 0h2m2 0h2m-27 1h1m3 0h1m1 0h1m4 0h1m3 0h1m2 0h2M82 51h1m-9 4h1M61 57h1m-1 2h1m15 0h1M61 60h1m15 0h1M57 61h1m1 0h2m9 0h1M9 62h1M7 63h1m1 1h1M7 67h1m2 0h1M9 70h1m51 0h1m12 0h1m-1 1h1M45 72h1M8 73h1m1 0h1m33 0h2m9 1h1m14 0h2m7 2h1M59 77h2M23 79h1m52 0h1m23 0h1M51 82h1m27 18h1M6 103h1m39 0h1m-1 4h1m-3 2h1m1 0h1M6 110h1m37 0h2m-2 4h1m1 0h1m-3 2h1M7 117h1m2 0h1m-2 1h1m34 0h3M7 119h2m1 0h1m-4 1h2m35 1h1m1 0h1m-1 1h1m-2 2h1m-1 1h1m-1 3h1m-1 1h1"/>
<path stroke="#dff1ea" d="M126 0h4M13 1h1m2 0h1M27 1h3M16 2h2M129 2h1M16 3h1M124 3h1M17 4h1M124 4h2m1 0h2m-5 1h1m3 0h1M13 6h1m2 0h2m4 0h1m2 0h1m1 0h2M62 7h1m1 0h2m2 0h1m3 0h1m42 0h2m1 0h1m2 0h2M62 8h3m2 0h2m3 0h1m42 0h1m1 0h1M55 9h1m1 0h4m5 0h1m2 0h1m1 0h1M59 10h1m2 0h4m2 0h2m2 0h1m42 0h1m2 0h1m1 0h3M44 11h1m1 0h1m-1 1h1M1 13h1m4 0h1m37 0h2m-2 1h2m-1 1h2M1 16h3m2 0h1M2 17h1m1 0h1m1 0h1m37 1h3m-3 1h3m-3 1h3m-2 1h1M6 22h1m38 0h1m29 1h2m11 0h1m2 0h1m7 0h1M44 24h2M6 25h1m38 0h1m-2 1h3M1 27h1m4 0h1m38 0h1M1 28h1m4 0h1m38 0h2M1 29h1m43 0h1m-2 1h3m-3 1h3M11 44h1m1 0h2m3 0h3m3 0h1m1 0h1m3 0h2m35 0h2m55 0h5M13 45h3m2 0h5m1 0h8m27 0h1m3 0h3m1 0h2m54 0h1m2 0h2M11 46h2m2 0h1m2 0h3m5 0h1m1 0h1m1 0h2m35 0h1m4 0h2m36 0h1m5 0h1m7 0h3m1 0h2M79 47h1m-1 2h1m20 0h1M75 52h2M9 55h1m51 0h1m15 0h1M61 56h1m15 0h1M9 57h1m67 0h1M9 58h1m67 0h1M9 59h2m34 0h1M9 60h1m45 1h2M7 62h2m1 0h1M8 63h1m1 0h1m34 0h1M7 64h2m1 0h1m34 0h1M7 65h1m2 0h1m34 0h1M9 66h1M8 67h1m35 0h3M7 68h2m1 0h1m33 0h2M9 69h2M9 71h1M7 72h2m1 0h1m35 0h1m-1 1h1M23 75h1m28 0h1m26 0h1M23 76h1m28 0h1m38 0h1M55 77h4M47 79h1m1 0h1m25 0h1M23 88h1m-1 3h1m52 0h1M23 99h1m25 1h1m-4 10h1M7 115h2m1 0h1m-4 1h1m38 0h1M8 117h1m-2 1h1m2 0h1m-1 2h1m-4 1h1m2 0h1m-4 1h1m2 0h1m34 1h1M3 124h3m38 0h1m1 0h1M4 125h1m39 0h1m1 0h1M0 126h1m43 0h3M0 127h1m3 0h1m39 0h2M0 128h1m3 0h2m38 0h1m1 0h1M0 129h1m1 0h1m43 0h1"/>
<path stroke="#e3f3e5" d="M123 0h3M17 1h1M123 1h4m1 0h1m-6 1h6m-6 1h1m1 0h5M117 4h1m1 0h1m3 0h1m2 0h1m2 0h1M119 5h1m3 0h1m1 0h3m1 0h1m-4 1h1m1 0h2M55 7h1m1 0h1m1 0h2m8 0h3M59 8h1m5 0h1m3 0h1m1 0h1m44 0h1m1 0h1m2 0h2M56 9h1m1 1h1m7 0h1m4 0h1m44 0h1M46 13h1m-1 1h1m-3 1h1m0 1h2M1 17h1m43 0h2m-1 4h1m-3 1h1m1 0h1m33 1h2m4 0h1m3 0h1m2 0h1M46 24h1m-3 1h1m1 0h1m53 1h1M44 28h1m1 1h1m32 4h1m-1 5h1m-1 2h1m-1 1h1M15 44h1m6 0h1m2 0h1m2 0h1m30 0h1m2 0h4m5 0h2m50 0h1m5 0h1M16 45h2m40 0h1m1 0h1m1 0h1m6 0h1m1 0h1M13 46h2m1 0h2m3 0h2m1 0h2m3 0h1m29 0h1m2 0h4m2 0h2m53 0h1m3 0h1M99 47h2M79 48h1m20 0h1M91 49h1m7 0h1M79 50h1m20 0h1M75 51h2m35 0h1m-11 1h3m3 0h1m2 0h3m11 0h2M75 53h2m-2 1h2M7 55h1m1 1h1M7 57h1m2 1h1m34 0h1M7 59h2m35 0h1m1 0h1M7 60h1m37 0h1m-2 2h3m-3 1h1m1 0h1m-3 1h1m1 0h1M8 65h1m35 0h1m1 0h1M10 66h1m89 1h1M46 68h1M7 69h2m36 0h2M7 70h1M7 71h2m1 0h1m33 0h2m-2 1h1m55 0h1m-1 1h1M51 75h1m1 0h2m36 0h1m8 0h1M51 76h1m1 0h2m25 0h1M33 79h1m4 0h1m1 0h2m6 0h1m1 0h1m40 0h1M23 80h1m52 0h1M23 81h1m-1 5h1m-1 4h1m25 1h1m25 0h1m3 0h1M23 93h1m23 6h1m1 0h1m-24 1h1m20 0h2m1 0h1m16 0h1m4 0h2m1 0h1m-24 2h1m-1 1h1m-1 1h1m-1 4h1m-1 3h1m-2 1h2m-1 1h1M8 116h1m1 0h1m-7 1h1m3 1h1m-5 1h2m2 2h1m-1 1h1m-9 1h6m38 0h1m1 0h1M0 124h3m-3 1h4m1 0h1m46 0h1M1 126h6m45 0h1M2 127h2m1 0h1m40 0h1M1 128h3m2 0h1m-4 1h4m37 0h1"/>
<path stroke="#e9f5dc" d="M115 0h1m1 0h1m1 0h2M72 1h2m45 0h2m6 0h1m1 0h1M63 2h1m3 0h1m4 0h2m41 0h1m1 0h1m1 0h2M63 3h1m3 0h1m4 0h1m42 0h1m1 0h1m1 0h2M62 4h3m2 0h2m3 0h2m41 0h1m4 0h1m1 0h1M73 5h1m41 0h1m1 0h1m2 0h1M73 6h1m45 0h1m3 0h3m1 0h1M56 7h1m1 0h1m7 0h1M56 8h1m1 0h1m1 0h1m5 0h1m3 0h1M55 10h1m1 0h1m2 0h1m9 0h1m29 1h1m-1 1h1m-1 1h1m-1 2h1M44 16h1m-1 1h1m55 1h1m-1 1h1m-1 2h1m-1 1h1M32 23h2m1 0h4m13 0h1m29 0h1m6 0h1m4 0h1m1 0h1m1 0h1m2 0h1m-2 2h1M44 27h1m1 0h1m-3 2h1m55 0h1m-1 1h1M79 31h1m20 0h1M23 32h1m55 0h1M23 33h1m55 1h1M23 35h1m55 0h1M23 36h1m55 0h2M23 37h1m55 0h1M23 38h1m76 0h1M79 39h1M59 40h1m16 0h1m23 0h1M79 42h1m-4 1h1m2 0h1m20 0h1M16 44h2m9 0h1m1 0h1m26 0h3m1 0h1m5 0h1m2 0h2m13 0h2M55 45h3m8 0h1m3 0h1m12 0h3M27 46h1m29 0h1m8 0h1m3 0h2m12 0h2M76 47h1m3 0h2m9 0h1m1 0h1M81 48h1m9 0h1m7 0h1M76 49h1m3 0h2m6 0h1m1 0h1m2 0h1M80 50h2m9 0h1m10 1h1m1 0h2m1 0h2m2 0h1m1 0h2m10 0h1M23 52h1m81 0h3m1 0h2m3 0h2m1 0h1m1 0h2m3 0h1m2 0h3m-26 1h1m2 0h2m2 0h3m-9 1h1m1 0h2m3 0h2M10 55h1m34 0h1M7 56h2m35 0h2M10 57h1m33 0h3M7 58h2m35 0h1m-5 1h1m59 0h1M8 60h1m1 0h1m33 0h1M4 62h1M2 63h3m95 0h1M4 64h1m95 0h1m-1 1h1M7 66h2m35 0h3M2 67h3M4 68h1m85 0h1m9 0h1M44 69h1M8 70h1m1 0h1m33 0h3m-1 1h1M1 72h4M1 73h2m1 0h3m81 0h1m1 0h1m8 0h1M80 75h2m6 0h1M40 76h1m2 0h1m3 0h1m1 0h1m31 0h1m6 0h1m1 0h1m2 0h1m6 0h1M31 79h2m1 0h4m1 0h1m2 0h2m44 0h1m1 0h1m8 0h1m12 0h1M36 80h1m10 0h1m1 0h2m24 0h1m24 0h1M47 81h4m24 0h2m14 0h1m8 0h1M23 82h1m21 1h1m-2 1h3m-3 1h3m2 3h1m23 0h1m1 0h2m2 0h1M23 89h1m25 1h1m18 0h1m4 0h1m2 0h1m2 0h1M47 91h2m1 0h1m30 0h1M47 93h1m1 0h1m26 0h1M23 94h1m-1 2h1m-1 2h1m24 1h1m24 0h1m5 0h1m-69 1h3m1 0h1m2 0h2m1 0h2m2 0h1m3 0h3m6 0h1m1 0h1m2 0h1m15 0h1m3 0h3m2 0h1m7 0h1m3 0h2m-59 1h1m27 1h1m-1 2h1m1 0h1m-3 1h2m1 0h1m-3 1h1m-2 1h4m-4 1h1m1 0h2m-3 1h1m-1 1h1m-2 1h1m1 0h1m-1 1h2m24 0h1m-29 1h1m1 0h2m-4 1h2M0 115h1m1 0h4m46 0h1M0 117h1m1 0h2m1 0h1m46 0h1M0 119h4m2 0h1m45 0h1M0 120h6m46 0h1M4 122h1m1 1h1m-1 1h1m45 0h1M6 125h1m44 0h1M1 127h1m4 0h1m45 0h1m-1 1h1M1 129h1m50 0h1"/>
<path stroke="#eef8d3" d="M62 0h4m1 0h2m1 0h1m1 0h2m42 0h1m1 0h1m2 0h1M64 1h1m2 0h3m45 0h1m1 0h1m3 0h2M62 2h1m1 0h2m2 0h2m1 0h1m44 0h1m1 0h1m2 0h1M62 3h1m1 0h2m2 0h2m3 0h1m44 0h1m2 0h2M59 4h1m5 0h1m3 0h1m1 0h1m44 0h1m1 0h1m2 0h1M59 5h1m2 0h4m1 0h4m1 0h1m43 0h1m4 0h2M63 6h1m3 0h2m3 0h1m42 0h1m1 0h1m2 0h2M55 8h1m1 0h1m-2 2h1m18 1h1m3 0h1m19 0h1M76 12h1m2 0h2m10 0h1m7 0h1M79 13h1m-1 1h1m20 0h1M79 15h1m20 1h1m-1 1h1M79 18h1m19 0h1M79 19h1m19 0h1m-1 1h2M79 21h1m19 0h1M75 22h1M34 23h1m5 0h1m2 0h1m3 0h1m3 0h1m1 0h2m32 0h1m7 0h1m1 0h1m17 0h1m4 0h1M79 24h1m20 0h1M76 25h1m2 0h1m-1 1h1m19 0h1m0 1h1m-1 1h1M79 29h1m-5 1h2m2 0h1m19 0h1M76 31h1m22 0h1M59 32h1m15 0h2m3 0h2m9 0h1m8 0h1M44 33h1m14 0h1m20 0h2m9 0h1m8 0h1M23 34h1m56 0h1m-6 1h1m15 0h1M59 36h1m15 0h2m4 0h1m18 0h1M45 37h1m9 0h1m3 0h1m15 0h2m3 0h2m9 0h1m8 0h1M76 38h1m3 0h2m18 1h1M23 40h1m21 0h1m29 0h1m5 0h1m9 0h1m7 0h1M59 41h1m20 0h2m18 0h1M45 42h1m54 0h1M23 43h1m21 0h1m11 0h3m15 0h1m4 0h2m17 0h1M33 44h1m21 0h1m27 0h1M37 45h1m2 0h1m1 0h2m11 1h2m1 0h1m1 0h1m22 0h1M23 47h1m58 0h1m3 0h1m1 0h1m1 0h1m3 0h1m1 0h1M80 48h1m1 0h1m5 0h1m1 0h1m2 0h2m1 0h1m4 0h1M75 49h1m6 0h1m3 0h1m9 0h1m1 0h1M76 50h1m5 0h1m5 0h1m1 0h1m5 0h1m2 0h1M23 51h1m79 0h1m2 0h1m2 0h2m6 0h1m1 0h2m2 0h2m1 0h4m-12 1h1m2 0h1m1 0h1M23 53h1m78 0h2m1 0h2m2 0h2m3 0h1m2 0h1m7 0h4M23 54h1m78 0h3m1 0h1m2 0h3m2 0h2m3 0h2m3 0h1m1 0h1m1 0h2M8 55h1m28 0h1m6 0h1m1 0h1M10 56h1m35 0h1M8 57h1m34 0h1m-1 1h1m2 0h1M4 59h2m26 0h2m2 0h2m3 0h1m1 0h1m47 0h1M46 60h1m53 0h1M0 62h1m1 0h2m1 0h1m84 0h1m9 0h1M0 63h1m4 0h2m81 0h1m1 0h1m8 0h1M0 64h4m1 0h1M0 65h1m1 0h4M0 67h2m3 0h2m72 0h1m8 0h1m1 0h1m8 0h1M0 68h4m1 0h2m92 0h1M1 69h5m82 0h1m1 0h1m9 0h1M0 70h1m4 0h1M2 71h1m1 0h1m95 0h1M0 72h1m4 0h2m72 0h1m8 0h1m1 0h1m8 0h1M0 73h1m2 0h1m7 2h1m10 0h1m7 0h1m1 0h1m2 0h3m2 0h1m2 0h1m5 0h1m32 0h5m3 0h1m2 0h1m2 0h1m2 0h1m12 0h1M12 76h1m12 0h1m4 0h3m3 0h3m11 0h1m31 0h1m3 0h2m1 0h1m4 0h1m1 0h1m2 0h1M11 79h5m2 0h2m1 0h1m2 0h3m2 0h2m36 0h1m4 0h1m13 0h1m6 0h1m2 0h1m5 0h1m1 0h2m2 0h1m5 0h1m14 0h1M12 80h1m19 0h3m2 0h2m2 0h1m1 0h1m4 0h1m39 0h1m2 0h1m7 0h1M32 81h2m2 0h3m1 0h2m1 0h1m55 0h1M47 82h4m24 0h2m23 0h1M44 83h1m1 0h1m28 0h1m-1 1h1m-1 1h1M47 86h1m1 0h1m25 0h2m2 0h1M23 87h1m52 0h1M47 88h2m1 0h1m12 0h1m3 0h1m1 0h1m2 0h1m7 0h1m-5 1h1M47 90h2m1 0h1m11 0h2m3 0h1m1 0h1m2 0h1m2 0h1M12 91h1m19 0h2m1 0h1m1 0h1m2 0h1m18 0h1m20 0h1M48 93h1m26 0h1m3 0h1M47 94h2m27 0h1M23 95h1m23 1h4m24 0h2m2 0h1M23 97h1m25 1h1M11 99h2m5 0h4m4 0h1m3 0h2m8 0h1m2 0h1m6 0h1m12 0h1m3 0h2m3 0h1m2 0h2m3 0h2m-68 1h1m1 0h2m2 0h1m3 0h1m2 0h2m3 0h2m2 0h2m1 0h1m1 0h2m17 0h1m1 0h1m6 0h1m1 0h1m10 0h1m-35 1h1m4 1h2m24 0h1m-29 1h1m1 0h2m-1 1h1m24 0h1m-27 1h1m25 0h1m-29 1h1m1 0h2m24 2h1m-29 1h1m1 0h2m-4 1h1m1 0h2m-1 1h1m20 1h1m-23 2h2m24 0h1M1 115h1m4 0h1m16 0h1m30 0h1M0 116h1m1 0h1m1 0h2m-5 1h1m4 0h1m44 0h1m1 0h1M0 118h1m1 0h3m47 0h1m-2 1h1m2 0h1M6 120h1m16 0h1m27 0h1m2 0h1M0 121h7m45 0h1M1 122h1m1 0h1m1 0h1m45 1h2m-2 1h1m2 0h1m-2 1h1m-3 1h1m1 0h2m-4 1h1m1 0h1m-3 1h1m1 0h2m-4 1h1m2 0h1m24 0h1"/>
<path stroke="#f4faca" d="M59 0h1m6 0h1m2 0h1m1 0h1m50 0h1M59 1h1m2 0h2m1 0h2m4 0h1m44 0h1m1 0h1M58 2h2m6 0h1m3 0h1m51 0h1M57 3h3m6 0h1m3 0h2m44 0h1M57 4h2m7 0h1m3 0h1M58 5h1m7 0h1m4 0h1m46 0h1M58 6h2m2 0h1m1 0h2m5 0h1m46 0h1m3 0h1M76 11h1m14 0h1M52 12h1m22 0h1m5 0h1m4 0h1m1 0h1m1 0h1m5 0h1m-6 1h1M76 14h1m14 0h1m7 0h1m-9 1h1m7 0h1M79 16h1m-1 1h1m-5 1h2m3 0h1m9 0h2m6 0h1M75 19h2m4 0h1m9 0h1M75 20h2m2 0h2m10 0h1M75 21h2m11 0h1m2 0h1M76 22h1m2 0h1m8 0h1m2 0h1m7 0h1M41 23h2m5 0h3m41 0h1m24 0h3m1 0h2M76 24h1m4 0h1m6 0h1m1 0h2m7 0h1m-9 1h1m7 0h1M75 26h2m3 0h1m5 0h1m3 0h2M79 27h1m11 0h1M75 28h2m2 0h1m19 0h1M76 29h1m14 0h1m7 0h1M88 30h1m2 0h1M75 31h1m4 0h1m7 0h1m1 0h2m1 0h1M44 32h2m9 0h4m1 0h1m12 0h1m8 0h1M45 33h1m12 0h1m1 0h1m14 0h2m5 0h1m5 0h1m1 0h1m8 0h1M59 34h1m15 0h2m4 0h1m9 0h1m8 0h1M56 35h4m16 0h1m3 0h3m5 0h1m10 0h2M44 36h2m10 0h3m1 0h1m11 0h1m9 0h1m5 0h1m2 0h1M44 37h1m1 0h1m9 0h3m1 0h1m11 0h2m8 0h1m3 0h1m1 0h1m4 0h1m5 0h1M44 38h2m11 0h3m2 0h1m12 0h1m6 0h1m8 0h1m1 0h1m5 0h1M59 39h1m16 0h1m3 0h3M44 40h1m1 0h1m8 0h1m1 0h2m1 0h1m6 0h1m4 0h2m6 0h1m1 0h1m10 0h1M23 41h1m20 0h2m12 0h1m1 0h1m12 0h1m1 0h2m14 0h1m7 0h1M23 42h1m20 0h1m1 0h1m11 0h2m15 0h2m3 0h3m16 0h1M44 43h1m1 0h1m8 0h1m4 0h1m1 0h1m1 0h1m2 0h2m4 0h1m8 0h1m8 0h1m1 0h1M32 44h1m3 0h3m1 0h4m5 0h1M32 45h2m2 0h1m1 0h1m2 0h1m7 0h1M37 46h1m2 0h1m1 0h2m3 0h1m-2 1h1m28 0h1m11 0h1m1 0h1m8 0h1m2 0h1M23 48h1m51 0h2m9 0h2m7 0h1m2 0h1M23 49h1m20 0h2m43 0h1m2 0h1m1 0h2m1 0h1m3 0h1M23 50h1m51 0h1m10 0h1m2 0h1m3 0h1m7 0h1m13 1h2m1 0h1m2 0h2M12 52h1m46 0h1m56 0h1m5 0h1m-8 1h1m3 0h3m1 0h2m4 0h1m-13 1h2m4 0h1m1 0h1m1 0h1M32 55h1m7 0h1m2 0h1m56 0h1M32 56h1m2 0h3m62 0h1M3 57h2m27 0h1m2 0h4m1 0h1m59 0h1M2 58h5m25 0h2m1 0h4m1 0h3m35 0h1m12 0h1m8 0h1M0 59h4m2 0h1m27 0h2m2 0h2m2 0h1m9 0h1m23 0h1m1 0h1m9 0h1m10 0h1M32 60h2m2 0h2m2 0h2m1 0h1m47 0h1M1 62h1m4 0h1m31 0h1m4 0h1m44 0h1m10 0h1M1 63h1m74 0h1m2 0h1m9 0h1M6 64h1m36 0h1m35 0h1m8 0h1m1 0h1m8 0h1M1 65h1m4 0h1m72 0h1m8 0h1m1 0h1m8 0h1M0 66h6m82 0h1m11 0h1M40 67h1m2 0h1m45 0h1M43 68h1m32 0h1m2 0h1m8 0h1M0 69h1m78 0h1m19 0h1M2 70h3m83 0h1m11 0h1M0 71h2m1 0h1m1 0h2m81 0h1m1 0h1M36 72h2m2 0h1m34 0h2m3 0h1m8 0h1M32 73h1m4 0h1m2 0h2m1 0h1m32 0h1m2 0h1m9 0h1M12 75h1m5 0h4m4 0h1m1 0h1m2 0h1m1 0h2m3 0h1m2 0h2m4 0h2m1 0h1m21 0h1m14 0h1m1 0h1m2 0h1m1 0h2m8 0h1m2 0h2m2 0h1m5 0h1m1 0h3m3 0h1m2 0h1M11 76h1m2 0h1m3 0h5m1 0h1m1 0h1m1 0h2m3 0h3m3 0h1m1 0h2m5 0h1m10 0h1m3 0h1m4 0h1m3 0h2m9 0h3m6 0h1m4 0h1m6 0h2m1 0h2m2 0h3m3 0h1m1 0h2m5 0h3M58 78h2M16 79h2m2 0h1m1 0h1m4 0h2m34 0h3m2 0h2m3 0h1m10 0h1m4 0h1m2 0h1m1 0h1m3 0h1m2 0h1m1 0h1m3 0h1m1 0h1m1 0h1m1 0h1m3 0h1m1 0h2m2 0h6M18 80h1m1 0h1m5 0h1m4 0h1m3 0h1m3 0h2m1 0h1m29 0h1m13 0h1m3 0h1m5 0h1m7 0h2M12 81h1m6 0h1m4 0h1m9 0h2m3 0h1m2 0h1m43 0h1m1 0h1m1 0h1m2 0h1m18 0h1M32 82h2m1 0h6m1 0h2m47 0h1m1 0h1M76 83h1m-1 1h1m2 0h1m-4 1h1M12 86h1m13 0h1m10 0h1m10 0h1m1 0h1m29 0h2M47 87h2m26 0h1M12 88h1m8 0h2m1 0h1m5 0h2m1 0h1m1 0h3m21 0h1m2 0h1m1 0h3m1 0h1m1 0h2m9 0h1M47 89h1m1 0h2m12 0h1m3 0h1m4 0h2m1 0h1m3 0h1M12 90h1m5 0h1m5 0h1m1 0h1m4 0h1m1 0h1m30 0h2m5 0h1m8 0h2M11 91h1m1 0h3m2 0h5m1 0h4m1 0h3m2 0h1m1 0h1m1 0h1m2 0h1m1 0h1m14 0h1m1 0h1m21 0h1M23 92h1m25 0h1m25 0h2m2 0h1M31 93h1m5 0h2m1 0h1m2 0h1m6 0h1m30 0h2M49 94h1m25 0h1m3 0h1M48 95h2m25 0h1M12 96h1m67 0h1M49 97h1m26 0h1M18 98h1m28 0h2m30 0h1M14 99h2m6 0h1m1 0h2m2 0h2m3 0h1m1 0h1m1 0h2m2 0h2m16 0h1m2 0h1m1 0h2m3 0h1m-36 1h2m19 0h4m7 0h1m3 0h1m46 0h1m1 0h1m-73 1h1m1 0h2m28 0h1m-1 2h1m-5 1h2m3 0h1m-5 1h1m3 0h1m-6 2h2m2 0h1m-5 1h2m2 1h1m-5 2h2m2 0h1m-4 1h1m4 0h1m-6 1h1m2 0h1m-29 2h1m1 0h1M1 116h1m1 0h1m47 0h2m-30 1h1m30 0h1m20 0h2m2 0h1m20 0h1M1 118h1m3 0h2m16 0h1m27 0h1m2 0h1m-32 1h1m29 0h1m21 0h2m2 0h1m20 0h1m-48 1h1m21 0h2m2 0h1m-57 1h1m27 0h1m1 0h1m21 0h1M0 122h1m1 0h1m3 0h1m16 0h1m27 0h2m0 1h2m24 0h1m-27 1h1m25 0h1m-26 1h1m20 0h1m3 0h1m-4 1h1m2 0h1m-26 1h1m21 0h1m2 0h1m-5 1h2m2 0h1m-27 1h1"/>
<path stroke="#f8fcc4" d="M55 0h4m1 0h1M55 1h1m1 0h2m1 0h1m9 0h1M55 2h3m2 0h1M55 3h2m3 0h1M55 4h2m3 0h1M55 5h3m2 0h1M57 6h1m8 0h1m2 0h2m45 0h1M52 11h1m27 0h1m5 0h1m1 0h1m1 0h1m5 0h1M33 12h1m1 0h3m15 0h2m27 0h1m10 0h1m4 0h1m2 0h1m17 0h1M75 13h2m3 0h2m8 0h1m8 0h1M37 14h1m37 0h1m4 0h2m6 0h1m1 0h1M75 15h2m3 0h2m6 0h1m1 0h1M75 16h2m14 0h1m7 0h1m-9 1h1m7 0h1M52 18h1m28 0h2m3 0h1m1 0h2m3 0h1m2 0h1m4 0h1M80 19h1m1 0h1m3 0h1m1 0h1m1 0h1m2 0h1M81 20h2m3 0h1m1 0h1m4 0h1M52 21h1m27 0h3m3 0h1m3 0h1m2 0h1m2 0h1M81 22h1m8 0h1M39 23h1m19 0h1m7 0h2m4 0h1m38 0h1m3 0h1m7 0h6M75 24h1m4 0h1m-6 1h1m5 0h1m6 0h1m1 0h1m7 0h1M32 26h2m3 0h1m43 0h2m5 0h1m4 0h1m7 0h1M75 27h2m3 0h2m6 0h1m1 0h1m8 0h1M80 28h2m6 0h1m1 0h2M75 29h1m4 0h3m5 0h1m1 0h1M80 30h3m3 0h1m3 0h1m2 0h1m7 0h1M35 31h1m1 0h1m43 0h2m3 0h1m9 0h1m4 0h1M26 32h1m19 0h1m16 0h2m2 0h1m4 0h1m13 0h1m1 0h1m1 0h1m2 0h1m2 0h1m2 0h1m19 0h1m5 0h1m1 0h3M12 33h1m13 0h1m19 0h1m8 0h3m9 0h1m4 0h2m12 0h1m6 0h1m2 0h1M44 34h3m8 0h4m1 0h1m12 0h1m8 0h1m5 0h1m1 0h1m2 0h1m5 0h1m28 0h1M12 35h1m18 0h1m12 0h3m8 0h1m4 0h1m6 0h1m4 0h1m17 0h1m2 0h1m2 0h1m20 0h1M12 36h1m33 0h1m8 0h1m7 0h3m1 0h2m4 0h1m12 0h1m3 0h1m2 0h1m2 0h1m2 0h1m17 0h1m10 0h1M12 37h1m1 0h1m11 0h1m4 0h1m30 0h3m2 0h2m21 0h1m3 0h1m1 0h1m22 0h1m6 0h1M46 38h1m8 0h2m3 0h1m2 0h3m1 0h2m3 0h2m22 0h1m28 0h1m1 0h1M23 39h1m21 0h2m10 0h2m1 0h1m6 0h1m5 0h1m1 0h1m15 0h1m7 0h1M56 40h1m5 0h4m2 0h2m1 0h1m16 0h1m3 0h1m3 0h1m22 0h2m4 0h2M46 41h1m8 0h3m5 0h2m3 0h1m3 0h1m9 0h1m10 0h1m2 0h1M55 42h3m2 0h1m2 0h2m2 0h1m5 0h1m17 0h1m1 0h1m2 0h1M56 43h1m6 0h1m1 0h1m3 0h1m1 0h2m13 0h1m1 0h1m1 0h1m3 0h1m1 0h1m1 0h1m2 0h1m15 0h1m1 0h2m2 0h1m2 0h4M34 44h2m11 0h1M34 45h2m3 0h1m7 0h2m1 0h1m1 0h1M32 46h5m1 0h2m1 0h1m10 0h1m-9 1h2m9 0h1m2 0h2m32 0h1m2 0h1m1 0h1m19 0h1m2 0h1M45 48h1m13 0h1m13 0h1m15 0h1m2 0h1m4 0h1m19 0h1m1 0h1M55 49h1m1 0h4m26 0h1m29 0h1m1 0h2m4 0h1m2 0h1M45 50h1m13 0h1m32 0h1m1 0h2m1 0h2M59 51h1M11 52h1m6 0h1m2 0h1m23 0h2m8 0h1m4 0h1m12 0h1M12 53h1m46 0h1m56 0h1m1 0h1m3 0h1M12 54h1m103 0h1m4 0h2M0 55h6m27 0h4m1 0h1m2 0h2m4 0h1m1 0h1m2 0h1m25 0h1m9 0h1m2 0h1m7 0h1M0 56h1m1 0h4m27 0h2m3 0h1m1 0h4m34 0h1m7 0h1m1 0h1m2 0h1M0 57h3m2 0h2m26 0h2m4 0h1m1 0h2m6 0h1m28 0h1m9 0h1m2 0h1m7 0h1M0 58h2m32 0h1m4 0h1m7 0h1m1 0h1m25 0h1m12 0h1m7 0h1m2 0h1M23 59h1m23 0h5m1 0h1m21 0h1m10 0h1m3 0h1m2 0h1m2 0h1M0 60h6m28 0h2m2 0h2m2 0h1m6 0h1m2 0h1m23 0h1m1 0h1m9 0h1m1 0h1m8 0h1M37 62h1m2 0h1m34 0h2m2 0h1m9 0h1M32 63h1m3 0h3m1 0h4m31 0h1M32 64h1m3 0h3m1 0h3m32 0h2m12 0h1M36 65h1m1 0h1m1 0h1m2 0h1m32 0h1m3 0h1M6 66h1m83 0h1m8 0h1M23 67h1m8 0h2m1 0h5m2 0h1m32 0h2m3 0h2m19 0h1M23 68h1m12 0h3m1 0h2m33 0h1m4 0h2m7 0h1m11 0h1M6 69h1m33 0h1m2 0h1m32 0h1M1 70h1m4 0h1m83 0h1m8 0h1M40 71h1m2 0h1m32 0h1m2 0h1m19 0h1M32 72h2m1 0h1m2 0h1m2 0h1m1 0h1m37 0h2m15 0h1m2 0h1M23 73h1m9 0h2m1 0h1m1 0h2m2 0h1m5 0h1m3 0h1m22 0h1m4 0h3m15 0h1m2 0h1M13 75h4m7 0h2m1 0h1m1 0h1m9 0h1m18 0h2m2 0h3m2 0h2m4 0h1m23 0h2m2 0h3m1 0h2m3 0h1m2 0h4m5 0h1m1 0h1m1 0h2m1 0h1M13 76h1m1 0h2m10 0h1m32 0h1m1 0h1m1 0h2m1 0h1m1 0h1m1 0h1m23 0h1m2 0h1m2 0h3m2 0h1m2 0h1m4 0h3m1 0h1m2 0h5m3 0h1M55 78h3m2 0h1m1 1h1m8 0h1m11 0h1m1 0h1m1 0h1m7 0h1m1 0h1m8 0h1m3 0h1m4 0h2m4 0h2M11 80h1m1 0h3m3 0h1m1 0h1m2 0h1m2 0h4m34 0h1m1 0h2m4 0h1m15 0h1m3 0h1m1 0h1m5 0h1m4 0h1m1 0h1m2 0h4m2 0h1m1 0h2m3 0h6M13 81h3m2 0h1m1 0h3m2 0h7m35 0h2m3 0h2m20 0h1m1 0h1m1 0h1m3 0h1m1 0h2m2 0h1m2 0h1m1 0h2m2 0h1m2 0h1m4 0h2m1 0h1M12 82h1m5 0h4m4 0h1m2 0h3m2 0h1m6 0h1m30 0h2m14 0h1m1 0h1m5 0h1m2 0h1m12 0h1m13 0h1M79 83h1m-1 2h1M11 86h1m6 0h4m8 0h4m2 0h1m6 0h1m12 0h1m2 0h1M49 87h1m29 0h1M11 88h1m2 0h2m2 0h3m4 0h5m2 0h1m1 0h1m5 0h1m2 0h1m11 0h4m1 0h1m21 0h1M18 89h1m29 0h1m13 0h1m1 0h1m3 0h1m11 0h1M11 90h1m1 0h3m3 0h1m1 0h2m2 0h1m1 0h4m1 0h1m1 0h4m5 0h1m15 0h2m5 0h1m3 0h1m11 0h1M16 91h2m10 0h1m10 0h1m2 0h1m12 0h3M40 92h1m6 0h2m1 0h1M12 93h1m5 0h4m4 0h1m3 0h1m1 0h5m4 0h2m16 0h1m20 0h1M37 94h1m5 0h1m6 0h1m30 0h1M47 95h1m2 0h1m25 0h1m2 0h2M11 96h1m6 0h1m2 0h1m9 0h3m1 0h4m1 0h4m14 0h2m21 0h2M47 97h2m1 0h1m24 0h1m3 0h1M12 98h1m12 0h1m17 0h1m6 0h1m21 0h2m1 0h2m4 0h1M13 99h1m2 0h2m9 0h1m4 0h1m1 0h1m1 0h1m2 0h1m15 0h1m1 0h2m1 0h1m5 0h1m3 0h2m10 0h1m25 1h1m3 0h1m2 0h2m3 0h2m2 0h5M12 101h1m5 0h1m7 0h1m3 0h2m11 0h1m23 0h2m3 0h2m1 0h2m3 0h1m-6 1h2m4 0h1m-7 1h2m4 1h1m-7 1h1m5 0h1m-7 1h2m2 0h2m-1 2h2m18 0h1m-25 1h1m-2 1h1m3 0h1m0 1h2m-59 1h1m56 0h1m1 0h1m17 0h1m-26 1h1m4 0h2m-7 1h2m3 0h2m-7 1h2m2 0h1m20 0h1M6 116h1m16 0h1m29 0h2m20 0h2m2 0h1m20 0h1m-66 1h2m6 0h1m3 0h3m30 0h2m-29 1h1m22 0h1m-65 1h1m19 0h1m4 0h1m2 0h1m2 0h1m4 0h2m30 0h1m-41 1h1m2 0h1m3 0h1m1 0h1m30 0h2m18 0h1m-47 1h1m21 0h1m2 0h1m20 0h1m-48 1h2m20 0h2m2 0h1m-37 1h1m32 0h1m-54 1h1m51 0h2m3 0h1m19 0h1m-78 1h1m8 0h1m5 0h1m1 0h1m8 0h1m26 0h1m3 0h2m18 0h1m-78 1h1m13 0h1m2 0h1m2 0h1m31 0h1m4 0h3m17 0h1m-78 1h1m8 0h1m5 0h1m4 0h1m31 0h1m4 0h1m19 0h1m-78 1h1m8 0h1m1 0h1m1 0h1m6 0h1m5 0h1m30 0h2m18 0h1m-78 1h1m8 0h1m10 0h1m31 0h2m3 0h1"/>
<path stroke="#fdfdbe" d="M56 1h1M55 6h2m3 0h1M32 11h1m2 0h3m13 0h1m29 0h2m10 0h1m4 0h1m2 0h1M32 12h1m1 0h1m3 0h1m1 0h1m1 0h2m4 0h1m2 0h1m35 0h1m1 0h1m2 0h1m1 0h2m19 0h1m1 0h1M37 13h1m14 0h1m29 0h1m3 0h1m1 0h1m4 0h1m2 0h1m1 0h1M52 14h1m29 0h1m3 0h1m2 0h1m4 0h1m1 0h1m1 0h1m2 0h1M32 15h1m10 0h1m10 0h1m27 0h1m3 0h1m2 0h1m3 0h2m1 0h1m1 0h1M80 16h2m6 0h1m1 0h1m2 0h1M75 17h2m3 0h3m5 0h1m1 0h1M32 18h7m4 0h1m7 0h1m1 0h1m33 0h1m6 0h2m21 0h1M32 19h3m1 0h2m13 0h2m36 0h1m5 0h2m1 0h1m2 0h1M33 20h1m2 0h2m14 0h1m36 0h2m3 0h1m1 0h1m1 0h1m2 0h1M32 21h2m1 0h3m2 0h1m48 0h1m4 0h1m3 0h1m2 0h1M32 22h1m3 0h1m15 0h1m27 0h1m1 0h1m3 0h1m6 0h1m2 0h1m1 0h1m2 0h1M55 23h1m2 0h1m3 0h1m6 0h1m2 0h1m29 0h5m1 0h2m1 0h1m1 0h2m8 0h1M37 24h1m13 0h2m29 0h1m3 0h1m6 0h1m2 0h1m1 0h1m2 0h1M32 25h1m3 0h2m13 0h2m27 0h1m1 0h1m3 0h1m2 0h1m3 0h2m1 0h1m4 0h1M34 26h1m1 0h1m14 0h2m36 0h1m4 0h1m1 0h1m1 0h1m20 0h1M82 27h1M52 28h2m28 0h1m3 0h1m2 0h1m3 0h2m3 0h1m2 0h1M52 29h1m33 0h1m6 0h1m2 0h1M32 30h4m1 0h1m2 0h1m10 0h2m1 0h1m34 0h1m4 0h3m1 0h1M33 31h2m1 0h1m4 0h1m1 0h1m5 0h1m1 0h3m40 0h2m2 0h1M11 32h2m2 0h1m2 0h2m1 0h2m2 0h1m4 0h1m31 0h1m2 0h1m2 0h2m1 0h1m17 0h1m4 0h1m7 0h1m11 0h2m1 0h1m2 0h2m2 0h1m1 0h1M18 33h4m8 0h2m30 0h4m2 0h1m23 0h1m1 0h1m3 0h1m18 0h1m1 0h2m2 0h1m1 0h5M12 34h1m5 0h2m6 0h1m3 0h2m31 0h1m1 0h1m1 0h2m3 0h1m13 0h1m7 0h3m22 0h2m5 0h1M11 35h1m6 0h1m2 0h1m8 0h1m31 0h4m2 0h1m4 0h1m12 0h1m5 0h1m1 0h1m20 0h1m3 0h3m1 0h1m1 0h2m1 0h2M11 36h1m6 0h5m2 0h2m4 0h1m30 0h1m6 0h1m1 0h1m17 0h1m2 0h1m1 0h2m5 0h1m10 0h1m2 0h1m3 0h2m2 0h5m1 0h1M11 37h1m1 0h1m4 0h4m2 0h2m4 0h1m34 0h1m3 0h1m1 0h1m15 0h1m1 0h1m2 0h1m2 0h1m2 0h1m2 0h1m3 0h1m5 0h3m1 0h1m1 0h1m2 0h3m1 0h2m1 0h3M12 38h1m5 0h1m47 0h1m2 0h1m16 0h1m1 0h1m3 0h1m1 0h2m1 0h2m2 0h1m11 0h1m1 0h1m1 0h1m1 0h2m2 0h2m1 0h1m1 0h2M44 39h1m10 0h2m5 0h4m2 0h1m3 0h1m20 0h2m1 0h1m1 0h1m30 0h1M12 40h1m8 0h1m8 0h1m35 0h1m3 0h1m15 0h1m3 0h1m3 0h2m2 0h1m2 0h1m9 0h1m3 0h1m1 0h1m5 0h2m2 0h3M31 41h1m33 0h1m1 0h1m3 0h1m18 0h1m28 0h2m3 0h3m1 0h1M12 42h1m49 0h1m2 0h1m2 0h2m2 0h1m13 0h1m1 0h1m1 0h1m3 0h1m6 0h1m17 0h2m3 0h3m1 0h2M12 43h1m2 0h1m2 0h1m12 0h1m34 0h1m3 0h1m18 0h1m2 0h1m2 0h1m1 0h1m13 0h1m3 0h1m8 0h2M39 44h1m8 0h1m1 0h3m-2 1h1m1 0h1m-6 1h4m4 1h2m2 0h1m2 0h2m2 0h2m3 0h2m28 0h1m1 0h1m3 0h1m2 0h5m3 0h1m5 0h2m1 0h1M12 48h1m31 0h1m1 0h1m8 0h4m1 0h1m6 0h2m39 0h1m2 0h2m1 0h2m9 0h2m1 0h1M31 49h1m14 0h1m16 0h3m1 0h1m1 0h1m2 0h2m28 0h4m1 0h2m2 0h4m1 0h1m1 0h1m3 0h1m1 0h1m1 0h2m1 0h1M44 50h1m1 0h1m8 0h1m1 0h2m1 0h1m12 0h1m13 0h1m24 0h1m6 0h2M11 51h2m5 0h2m4 0h3m3 0h2m12 0h3m8 0h1m1 0h2m1 0h1m6 0h2m3 0h2M13 52h2m4 0h2m1 0h1m1 0h3m1 0h4m12 0h1m11 0h3m4 0h3m1 0h3m1 0h2M18 53h1m9 0h1m2 0h1m13 0h1m12 0h1m14 0h1M15 54h1m14 0h1m26 0h1m1 0h1m7 0h1m5 0h1M6 55h1m16 0h1m15 0h1m8 0h1m1 0h2m23 0h1m10 0h1m3 0h1m2 0h1M1 56h1m4 0h1m32 0h1m7 0h2m3 0h1m22 0h1m14 0h1m2 0h1m2 0h1m2 0h1M47 57h2m1 0h3m1 0h1m20 0h2m9 0h1m2 0h2m2 0h2m1 0h1M23 58h1m24 0h1m1 0h4m22 0h1m9 0h1m2 0h2m2 0h1M54 59h1m32 0h1m1 0h1m2 0h1m1 0h1m3 0h1m2 0h1M6 60h1m40 0h2m1 0h2m23 0h1m10 0h1m2 0h1m3 0h1m2 0h1M23 62h1m8 0h2m1 0h2m2 0h1m2 0h1m37 0h2m16 0h1m2 0h1M33 63h3m3 0h1m7 0h1m1 0h1m2 0h1m27 0h3m15 0h1m2 0h1M33 64h1m1 0h1m3 0h1m7 0h1m1 0h1m2 0h1m27 0h3m15 0h1m2 0h1M32 65h4m1 0h1m1 0h1m1 0h2m6 0h1m2 0h1m22 0h1m5 0h1m7 0h1m8 0h1m2 0h1M38 66h1m1 0h1m2 0h1m32 0h1m2 0h1m9 0h1M34 67h1m6 0h1m5 0h3m1 0h2m1 0h1m27 0h1m15 0h1M32 68h4m3 0h1m2 0h1m4 0h2m2 0h2m29 0h1m15 0h1M23 69h1m8 0h1m3 0h3m3 0h1m6 0h1m2 0h1m22 0h1m4 0h2m7 0h1m8 0h1M40 70h1m2 0h1m31 0h1m3 0h1M32 71h1m3 0h2m3 0h1m10 0h1m22 0h1m4 0h1m8 0h1M23 72h1m10 0h1m4 0h1m2 0h1m4 0h1m1 0h1m1 0h2M35 73h1m11 0h1m1 0h3m1 0h2m31 0h1M17 75h1m37 0h3m2 0h1m4 0h1m3 0h3m37 0h1m8 0h1m4 0h1M17 76h1m39 0h2m7 0h1m43 0h1M66 79h1m3 0h1m47 0h1M16 80h2m4 0h1m2 0h1m36 0h3m4 0h1m1 0h1m15 0h1m4 0h1m1 0h1m2 0h2m3 0h2m3 0h1m1 0h2m4 0h1m5 0h1m1 0h1M11 81h1m4 0h2m44 0h4m3 0h1m15 0h1m1 0h1m1 0h1m2 0h1m2 0h1m1 0h1m3 0h1m1 0h1m2 0h2m1 0h2m4 0h1m3 0h1m3 0h2m2 0h1m1 0h1M11 82h1m1 0h3m1 0h1m4 0h1m1 0h2m1 0h2m34 0h2m2 0h2m17 0h1m2 0h1m2 0h1m1 0h1m3 0h1m3 0h8m1 0h1m1 0h2m2 0h1m2 0h1m2 0h3m1 0h3M81 85h1M13 86h3m6 0h1m1 0h2m2 0h2m4 0h2m2 0h1m1 0h1m1 0h1m12 0h1m1 0h2m1 0h1m12 0h1m8 0h1m17 0h1M12 87h1m5 0h1m18 0h1m12 0h1m8 0h1m20 0h2M13 88h1m2 0h2m20 0h1m3 0h1m57 0h1m3 0h1m3 0h1m2 0h2M12 89h1m1 0h2m3 0h3m3 0h2m1 0h1m1 0h1m1 0h1m3 0h2m5 0h1m13 0h4m4 0h2m2 0h1m1 0h1m9 0h2M16 90h2m2 0h1m19 0h3m12 0h4m41 0h1m-2 1h2m18 0h2M12 92h1m20 0h1m1 0h4m4 0h1m15 0h1m20 0h3M11 93h1m1 0h1m1 0h2m5 0h1m1 0h2m2 0h2m9 0h1m15 0h4m1 0h1M12 94h1m1 0h2m2 0h1m1 0h2m3 0h2m1 0h1m1 0h7m1 0h3m1 0h1m14 0h1m1 0h1m20 0h1m1 0h1M12 95h1m5 0h2m10 0h2m2 0h1m1 0h3m1 0h1m2 0h1m37 0h1M13 96h3m3 0h2m1 0h1m1 0h3m2 0h2m3 0h1m4 0h1m16 0h2m2 0h1M38 97h1m4 0h1m36 0h2M11 98h1m1 0h3m3 0h4m1 0h1m1 0h1m1 0h1m1 0h2m1 0h1m3 0h4m18 0h1m2 0h4m1 0h3m10 0h1m1 0h1M56 99h1m34 0h1m25 0h1m1 0h2m4 0h1m3 0h1m-44 1h1m1 0h1m1 0h2m10 0h1m1 0h2m3 0h1m4 0h1m3 0h1m3 0h2m5 0h1M11 101h1m2 0h1m4 0h4m1 0h2m2 0h1m7 0h3m1 0h1m1 0h1m16 0h1m2 0h4m15 0h1m-59 1h1m8 0h1m14 0h1m1 0h1m30 0h1m1 0h1m17 0h1m-78 1h1m25 0h1m30 0h3m-60 1h1m23 0h1m1 0h1m32 0h1m5 0h1m11 0h1m-78 1h1m13 0h1m11 0h1m32 0h1m17 0h1m-78 1h1m57 0h2m-34 1h1m30 0h3m-60 1h1m23 0h3m32 0h1m5 0h1m-66 1h1m51 0h1m4 0h3m17 0h1m-25 1h1m3 0h2m-59 1h1m13 0h1m2 0h1m2 0h1m3 0h3m32 0h1m5 0h1m-53 1h2m9 0h4m37 0h1m-66 1h1m13 0h2m8 0h1m1 0h1m32 0h1m-60 1h1m8 0h1m14 0h3m32 0h1m17 0h1m-89 1h1m19 0h1m2 0h4m1 0h1m2 0h1m3 0h2m31 0h2m-33 1h1m-38 1h1m5 0h1m13 0h2m3 0h2m1 0h1m41 0h1m16 0h1m-51 1h1m25 0h1m3 0h1m20 0h1m-75 1h1m6 0h4m1 0h1m2 0h2m4 0h1m2 0h1m30 0h1m9 0h1m7 0h1m-68 1h7m2 0h2m7 0h1m31 0h1m8 0h1m7 0h1m-68 1h1m2 0h1m1 0h1m42 0h1m-44 1h1m11 0h1m50 0h1m-78 1h1m9 0h1m1 0h2m1 0h1m1 0h1m34 0h1m4 0h3m17 0h1m-69 1h1m3 0h3m1 0h4m5 0h1m31 0h2m-50 1h1m1 0h3m3 0h3m3 0h2m33 0h1m16 0h1m-68 1h5m1 0h1m2 0h2m4 0h3m-17 1h1m2 0h2m2 0h1m8 0h1m31 0h2m-50 1h1m1 0h1m1 0h2m1 0h3m4 0h2m33 0h1m-50 1h1m1 0h6m1 0h1m6 0h1m31 0h2m16 0h2"/>
<path stroke="#fdf9b7" d="M33 11h2m5 0h1m2 0h1m5 0h1m3 0h2m32 0h1m1 0h1m4 0h2m1 0h1m19 0h1m1 0h2M39 12h1m7 0h1m1 0h2m46 0h1m22 0h1M32 13h5m1 0h1m1 0h1m2 0h1m7 0h1m2 0h1m34 0h1m4 0h2m5 0h1M32 14h2m1 0h2m3 0h1m2 0h1m7 0h1m40 0h2m23 0h1m1 0h1M33 15h6m12 0h3m33 0h1m7 0h1m5 0h1m17 0h2M35 16h3m5 0h1m8 0h1m29 0h1m3 0h1m11 0h1m2 0h1M37 17h1m14 0h1m33 0h1m6 0h1m2 0h1m1 0h1m2 0h1M40 18h2m5 0h1m1 0h2m3 0h1m37 0h1m4 0h1m21 0h2M35 19h1m2 0h3m1 0h2m3 0h1m1 0h1m3 0h2m32 0h1m4 0h1m1 0h1m2 0h1m17 0h1m3 0h2M32 20h1m1 0h2m4 0h1m2 0h1m7 0h1m1 0h2m37 0h1m2 0h1m21 0h1M34 21h1m3 0h1m2 0h1m1 0h1m7 0h1m1 0h2m32 0h1m4 0h1m2 0h1m1 0h1m17 0h1m3 0h1M33 22h1m1 0h1m1 0h1m2 0h1m2 0h1m3 0h1m3 0h1m2 0h1m32 0h1m1 0h1m4 0h1m24 0h1M56 23h2m2 0h1m2 0h3m41 0h1m2 0h1M32 24h5m1 0h1m1 0h1m2 0h1m9 0h2m32 0h1m1 0h1m4 0h2m21 0h1m2 0h1M33 25h3m2 0h1m1 0h2m1 0h1m5 0h1m4 0h1m32 0h1m7 0h1m21 0h1m1 0h2M35 26h1m2 0h1m1 0h1m2 0h1m3 0h4m2 0h2m32 0h1m4 0h1m2 0h1m1 0h1m17 0h1m1 0h1m2 0h1M32 27h1m3 0h2m13 0h2m33 0h1m2 0h1m3 0h1m1 0h2m1 0h1m2 0h1M32 28h6m2 0h1m2 0h1m3 0h1m3 0h1m43 0h2M32 29h7m1 0h1m2 0h1m7 0h1m1 0h1m33 0h1m1 0h1m8 0h1m2 0h1m17 0h2M36 30h1m1 0h1m2 0h3m5 0h1m3 0h1m33 0h1m9 0h1m20 0h2M32 31h1m5 0h3m1 0h1m4 0h1m6 0h1m32 0h1m1 0h1m2 0h1m4 0h1m17 0h1m3 0h1M13 32h2m5 0h1m3 0h1m2 0h3m1 0h1m34 0h1m3 0h1m16 0h1m4 0h1m2 0h1m1 0h2m2 0h1m2 0h2m2 0h1m2 0h3m2 0h1m1 0h1m3 0h2M11 33h1m1 0h3m6 0h1m1 0h2m2 0h2m36 0h1m2 0h1m1 0h1m15 0h1m1 0h1m5 0h1m1 0h1m3 0h1m2 0h2m1 0h2m3 0h2m1 0h1m5 0h1m2 0h1M11 34h1m1 0h1m1 0h1m4 0h2m2 0h2m2 0h2m32 0h1m1 0h1m4 0h1m1 0h1m15 0h1m1 0h1m2 0h1m5 0h1m6 0h1m2 0h1m2 0h2m2 0h1m1 0h2m4 0h3m1 0h1m1 0h1M13 35h4m2 0h2m1 0h1m1 0h3m1 0h2m36 0h1m2 0h3m15 0h1m1 0h1m5 0h1m1 0h2m2 0h1m2 0h2m1 0h2m2 0h2m1 0h1m1 0h1m5 0h1m1 0h1m2 0h1M13 36h4m7 0h1m2 0h4m39 0h1m16 0h1m9 0h2m5 0h2m1 0h2m2 0h1m1 0h1m2 0h1m1 0h1m2 0h2M15 37h3m4 0h1m4 0h3m36 0h1m3 0h1m26 0h1m4 0h3m1 0h3m1 0h1m3 0h1m1 0h1m1 0h1m4 0h1M13 38h1m1 0h1m3 0h1m1 0h1m2 0h3m2 0h3m38 0h2m17 0h2m13 0h1m7 0h1m1 0h1m3 0h1m2 0h2M12 39h1m6 0h1m11 0h1m37 0h1m1 0h1m14 0h1m1 0h1m12 0h1m17 0h1m3 0h6M11 40h1m1 0h2m3 0h3m1 0h1m1 0h3m1 0h2m1 0h1m65 0h1m6 0h2m2 0h2m2 0h3m1 0h1m1 0h1m2 0h2M18 41h1m2 0h1m3 0h1m4 0h1m31 0h1m3 0h1m2 0h2m15 0h1m1 0h1m5 0h2m2 0h1m2 0h1m2 0h1m2 0h2m3 0h1m1 0h2m1 0h2m4 0h1m3 0h1m1 0h1M19 42h1m10 0h2m34 0h1m3 0h2m23 0h1m1 0h2m16 0h1m1 0h2m2 0h1m1 0h1m3 0h1M11 43h1m1 0h2m1 0h1m2 0h4m1 0h3m1 0h3m21 0h1m34 0h1m14 0h4m1 0h3m2 0h2m2 0h1m1 0h1m2 0h1M53 44h2m-1 1h1m-1 1h1M12 47h1m5 0h2m2 0h1m3 0h1m1 0h1m2 0h1m30 0h1m2 0h1m39 0h3m8 0h1m4 0h4m2 0h1m1 0h1M26 48h1m35 0h4m6 0h1m29 0h1m1 0h2m1 0h1m1 0h1m3 0h1m2 0h1m1 0h1m1 0h2m1 0h2m2 0h1m1 0h1M11 49h2m5 0h2m5 0h2m3 0h1m25 0h1m5 0h1m5 0h1m2 0h1m34 0h1m3 0h1m4 0h1m5 0h1m1 0h1M12 50h1m5 0h1m7 0h1m29 0h1m5 0h1m2 0h1m1 0h2m3 0h1m29 0h1m1 0h1m2 0h2m2 0h1m1 0h5m3 0h2m1 0h2m1 0h2M13 51h3m4 0h3m4 0h3m26 0h1m5 0h4M15 52h3m9 0h1m15 0h1m18 0h1m7 0h1m12 0h3M11 53h1m3 0h1m3 0h3m2 0h1m1 0h1m2 0h2m13 0h1m10 0h3m2 0h1m2 0h2m2 0h1m3 0h2M11 54h1m1 0h1m4 0h5m1 0h3m4 0h1m12 0h3m8 0h1m2 0h1m1 0h1m1 0h2m8 0h1M53 55h2m21 0h1m12 0h1m2 0h1m1 0h3m1 0h1m2 0h1m17 0h1M23 56h1m25 0h3m1 0h1m22 0h1m12 0h1m4 0h1M23 57h1m29 0h1m33 0h1m9 0h2m2 0h1M54 58h1m39 0h2m1 0h2m2 0h1m15 0h1M95 59h1m1 0h1m6 0h1m2 0h1m4 0h1m1 0h2m1 0h1m1 0h1M23 60h1m29 0h2m37 0h1m1 0h1m3 0h1m2 0h1M34 62h1m6 0h1m5 0h6m1 0h1m27 0h1M23 63h1m24 0h1m2 0h1m1 0h2m31 0h1M23 64h1m10 0h1m13 0h1m2 0h1m1 0h1m32 0h1M23 65h1m23 0h2m1 0h2m30 0h1m3 0h1M32 66h2m1 0h1m1 0h1m3 0h2m32 0h1m4 0h2m16 0h1M50 67h1m2 0h1m32 0h1M49 68h2m35 0h1M33 69h3m3 0h1m1 0h1m40 0h1m18 0h1M32 70h1m2 0h4m2 0h2m9 0h1m23 0h1m3 0h2m7 0h1m11 0h1M33 71h3m2 0h2m2 0h1m6 0h1m3 0h1m27 0h2m15 0h1m2 0h1M48 72h1m1 0h1m2 0h2m53 1h1M66 75h1M55 76h2m13 0h1m11 2h1M66 80h1m3 0h1m12 0h3m30 0h1m1 0h1m3 0h1M66 81h1m3 0h2m11 0h2m31 0h1m1 0h1m2 0h2M16 82h1m45 0h1m2 0h1m3 0h1m1 0h1m6 0h1m6 0h1m1 0h1m7 0h1m1 0h1m3 0h1m8 0h1m4 0h1m2 0h2m1 0h2M52 83h1m27 0h2M52 84h1m27 0h2M52 85h1m27 0h1m1 0h1M16 86h2m9 0h1m11 0h1m1 0h1m21 0h3m1 0h2m22 0h1M11 87h1m3 0h1m3 0h1m1 0h2m1 0h3m2 0h8m6 0h1m13 0h1m24 0h1M39 88h1m1 0h1m57 0h1m5 0h3m2 0h1m2 0h2M11 89h1m1 0h1m8 0h1m1 0h1m2 0h1m1 0h1m1 0h1m1 0h3m2 0h1m16 0h2m13 0h1m29 0h1M38 90h1m52 0h1m7 0h1m2 0h1m1 0h2m1 0h2m2 0h2m1 0h1M86 91h1m3 0h1m20 0h2m2 0h1m1 0h2m3 0h1m1 0h1m1 0h4M14 92h1m3 0h4m4 0h1m4 0h2m1 0h1m20 0h1m4 0h1M14 93h1m2 0h1m9 0h1m72 0h1m18 0h1M11 94h1m1 0h1m5 0h1m2 0h1m1 0h1m16 0h1m13 0h2m1 0h1m1 0h1M11 95h1m1 0h1m1 0h1m4 0h2m2 0h5m3 0h2m1 0h1m5 0h2m12 0h1m2 0h2m22 0h1M17 96h1m9 0h2m26 0h1M11 97h2m5 0h2m1 0h1m4 0h1m3 0h4m1 0h3m2 0h1m1 0h1m14 0h3m22 0h1M16 98h2m9 0h1m1 0h1m2 0h1m1 0h3m4 0h2m12 0h1m1 0h2m1 0h1m5 0h1m4 0h1m16 1h1m1 0h1m13 0h1m3 0h1m2 0h1m1 0h1m1 0h1m2 0h1m2 0h4m1 0h3m-40 1h1m3 0h1m9 0h1m2 0h2m3 0h1m1 0h1M13 101h1m1 0h3m9 0h1m1 0h1m2 0h2m1 0h1m3 0h1m1 0h1m13 0h1m1 0h2m1 0h1m8 0h3m10 0h1m-46 1h1m5 0h1m4 0h1m1 0h1m39 0h1m-54 1h1m5 0h1m56 0h1m-69 1h2m1 0h4m1 0h2m1 0h1m4 0h1m1 0h1m8 0h1m30 0h1m8 0h1m-68 1h5m3 0h1m2 0h1m3 0h2m39 0h1m1 0h1m-54 1h1m9 0h1m1 0h1m38 0h1m11 0h1m-78 1h1m9 0h1m1 0h3m3 0h1m1 0h1m3 0h2m1 0h1m8 0h1m28 0h1m1 0h1m9 0h1m-69 1h6m2 0h2m1 0h1m6 0h1m22 0h1m16 0h1m8 0h1m-60 1h1m2 0h1m4 0h1m-26 1h1m13 0h1m11 0h1m32 0h1m5 0h1m-57 1h1m1 0h3m13 0h1m39 0h2m7 0h2m-69 1h4m2 0h1m1 0h2m1 0h1m15 0h1m30 0h2m-60 1h2m2 0h1m3 0h1m2 0h1m4 0h1m1 0h1m37 0h1m10 0h2m-66 1h1m1 0h2m1 0h2m8 0h1m8 0h1m28 0h1m1 0h1m-72 1h1m1 0h1m4 0h1m4 0h1m1 0h2m6 0h2m6 0h2m8 0h1m22 0h1m8 0h1m7 0h1m-68 1h1m2 0h3m2 0h1m2 0h1m3 0h2m1 0h1m29 0h2m-71 1h1m2 0h1m5 0h1m3 0h3m7 0h1m6 0h2m7 0h1m7 0h2m31 0h1m-62 1h1m1 0h1m1 0h1m1 0h3m1 0h4m4 0h1m31 0h3m8 0h1m7 0h1m-89 1h1m2 0h2m2 0h2m1 0h2m2 0h1m3 0h3m7 0h1m15 0h1m3 0h1m22 0h1m10 0h1m-83 1h2m2 0h1m2 0h2m4 0h3m2 0h1m18 0h1m-16 1h1m2 0h1m1 0h1m1 0h1m1 0h2m3 0h4m30 0h2m16 0h1m-68 1h1m2 0h2m1 0h1m1 0h1m6 0h1m2 0h1m29 0h3m8 0h1m7 0h1m-68 1h1m1 0h1m2 0h1m1 0h1m1 0h2m4 0h3m49 0h1m-67 1h3m3 0h1m7 0h2m1 0h1m40 0h1m7 0h1m-66 1h1m4 0h1m10 0h1m-12 1h1m51 0h1m7 0h1m-66 1h2m3 0h1m1 0h2m4 0h2m1 0h1m40 0h1m7 0h1m-61 1h1m10 0h1m40 0h1m7 0h1m-66 1h1m6 0h1m5 0h2m42 0h1"/>
<path stroke="#fdf4af" d="M38 11h2m1 0h1m5 0h1m2 0h1m41 0h1m22 0h1m2 0h1m2 0h1M41 12h1m17 0h1m7 0h1m5 0h1m30 0h1m7 0h1m3 0h1m1 0h1m2 0h2m1 0h6M41 13h2m4 0h4m2 0h1m33 0h1m4 0h1m4 0h1m18 0h2m1 0h3M34 14h1m3 0h2m1 0h2m4 0h3m3 0h2m32 0h1m7 0h1m1 0h1m17 0h1m4 0h2m6 0h1M39 15h4m4 0h4m41 0h1m4 0h1m17 0h1m1 0h2m2 0h1m6 0h1M32 16h3m5 0h1m6 0h3m1 0h1m1 0h2m32 0h1m1 0h1m4 0h1m1 0h2m19 0h1m1 0h1M32 17h5m1 0h1m1 0h1m10 0h1m2 0h1m34 0h1m4 0h2m23 0h1M39 18h1m2 0h1m5 0h1m24 0h1m38 0h1m2 0h2m1 0h1m2 0h2m3 0h1m2 0h1M41 19h1m6 0h1m1 0h1m66 0h2m2 0h1M38 20h2m1 0h2m4 0h3m37 0h1m9 0h1m17 0h1m2 0h3m4 0h1M39 21h1m2 0h1m4 0h4m66 0h2m1 0h3M34 22h1m3 0h2m1 0h2m5 0h1m4 0h1m38 0h1m2 0h1m1 0h1m17 0h1m1 0h1m2 0h1M66 23h1m3 0h2m12 0h1M39 24h1m1 0h2m4 0h4m41 0h1m4 0h1m17 0h1m3 0h1m1 0h1M39 25h1m2 0h1m4 0h2m4 0h1m38 0h1m4 0h1m17 0h1M39 26h1m1 0h2m73 0h1m1 0h1m2 0h1m6 0h2M33 27h1m1 0h1m2 0h4m1 0h1m9 0h2m32 0h1m4 0h1m1 0h1m2 0h1m17 0h1m3 0h1M38 28h2m1 0h2m6 0h2m3 0h1m32 0h1m4 0h1m4 0h1m19 0h1m1 0h3M39 29h1m1 0h2m4 0h3m4 0h1m37 0h1m1 0h2m1 0h1m17 0h1m1 0h1M39 30h1m7 0h2m43 0h1m22 0h1m1 0h1m2 0h3m3 0h1m1 0h1M48 31h1m1 0h1m66 0h2m1 0h2m1 0h1m2 0h1m1 0h1M16 32h2m85 0h1m2 0h2m1 0h2M16 33h2m9 0h1m42 0h1m31 0h2m2 0h1m3 0h2m2 0h1m1 0h1m1 0h1m3 0h1M14 34h1m1 0h2m4 0h1m43 0h1m3 0h1m26 0h1m3 0h4m2 0h1m5 0h2m1 0h1m4 0h2M17 35h1m9 0h1m74 0h1m3 0h1m2 0h2m2 0h1m4 0h1M17 36h1m48 0h1m35 0h2m2 0h1m2 0h2m3 0h1m-6 1h1M11 38h1m2 0h1m2 0h1m2 0h1m1 0h1m4 0h2m23 0h1m34 0h1m14 0h2m1 0h7m4 0h1M11 39h1m2 0h2m2 0h1m1 0h3m1 0h7m35 0h1m3 0h1m18 0h2m1 0h1m2 0h1m1 0h1m6 0h2m1 0h2m2 0h2m1 0h2m1 0h2m1 0h1M15 40h3m9 0h1m24 0h1m34 0h1m1 0h1m12 0h2m2 0h2M11 41h5m3 0h2m1 0h1m1 0h1m1 0h4m22 0h1m34 0h1m1 0h1m2 0h1m4 0h1m4 0h1m3 0h1m4 0h1m1 0h1m2 0h1m4 0h2M13 42h3m2 0h1m1 0h3m1 0h3m1 0h2m59 0h1m2 0h1m11 0h1m3 0h1m2 0h3m2 0h1m5 0h1M27 43h1m23 0h1m2 0h1m51 0h1m3 0h1m3 0h1m7 0h1M53 46h1M11 47h1m1 0h4m3 0h2m2 0h2m3 0h2m35 0h1m2 0h3m31 0h1m5 0h2m7 0h1M13 48h4m1 0h5m1 0h2m3 0h3m37 0h3m12 0h1m18 0h1m2 0h1m3 0h1m11 0h1M13 49h4m3 0h2m2 0h1m3 0h2m36 0h1m3 0h1m13 0h1m24 0h1M11 50h1m1 0h1m1 0h1m3 0h1m1 0h1m2 0h1m3 0h1m2 0h1m31 0h2m4 0h1m1 0h1m31 0h1m1 0h2m2 0h2m7 0h1m4 0h1m2 0h1m2 0h1M16 51h2m25 0h1m22 0h1m2 0h3m11 0h3M38 52h1m1 0h2m24 0h1M13 53h2m1 0h1m5 0h1m2 0h1m1 0h1m18 0h1m15 0h1m2 0h2m1 0h2m15 0h1M14 54h1m1 0h2m9 0h3m13 0h1m12 0h1m7 0h2m2 0h2m1 0h1m11 0h3m1 1h1m9 0h1m6 0h2m6 0h1m4 0h1M54 56h1m32 0h1m4 0h1m2 0h1m1 0h2m2 0h1m12 0h1m2 0h1m2 0h1M92 57h1m2 0h1m8 0h2m2 0h1m3 0h2m3 0h1m1 0h2M83 58h1m3 0h1m4 0h1m11 0h5m3 0h3m4 0h1m1 0h1M12 59h1m70 0h3m16 0h2m1 0h2m1 0h4m1 0h1m4 0h1m1 0h1m1 0h1M87 60h1m7 0h1m1 0h1m6 0h1m2 0h2m8 0h1m1 0h1M53 62h1m32 0h1m33 0h1M50 63h1m57 0h1m10 0h1M50 64h1m3 0h1m49 0h1m6 0h1m5 0h1m1 0h1M53 65h2m62 0h1M23 66h1m10 0h1m1 0h1m2 0h1m7 0h1m1 0h1m1 0h3m28 0h1m18 0h1M12 67h1m74 0h1m14 0h1m1 0h1m2 0h2m2 0h2m1 0h2m1 0h1m1 0h1M53 68h2m32 0h1m16 0h1m7 0h1m2 0h1m1 0h1m1 0h2M47 69h2m1 0h2m1 0h2m31 0h1m32 0h1M23 70h1m9 0h2m4 0h1m7 0h3m1 0h1m30 0h1m15 0h1M23 71h1m23 0h2m1 0h2m2 0h1m31 0h1m-4 1h1m2 0h1m17 0h1m3 0h1m2 0h4m2 0h1m1 0h1M12 73h1m5 0h1m68 0h1m16 0h1m2 0h1m3 0h3m1 0h1m1 0h1m1 0h2M76 74h1m-3 2h1m7 1h1m-2 1h1m-4 3h1M66 82h1m3 0h1m6 0h1m5 0h2m31 0h1M51 83h1m2 0h1m3 0h2m12 0h1m9 0h1m17 0h1M23 84h1m24 0h2m1 0h1m2 0h1m4 0h1m22 0h1m17 0h1M51 85h1m1 0h2m4 0h1m2 1h1m6 0h1m1 0h2m29 0h1m1 0h1m6 0h2m1 0h1M13 87h2m1 0h1m3 0h1m6 0h2m9 0h1m1 0h2m13 0h2m1 0h1m1 0h1m6 0h2m4 0h1m17 1h1m1 0h1m8 0h2m5 0h1m5 0h1m1 0h1m1 0h2M16 89h2m21 0h4m48 0h1m16 0h1m2 0h3M39 90h1m53 0h1m2 0h1m6 0h1m2 0h1m2 0h2m2 0h1m3 0h1M88 91h2m13 0h3m2 0h3m2 0h2m1 0h1m4 0h1m1 0h1m1 0h1M11 92h1m1 0h1m1 0h1m6 0h1m1 0h2m1 0h4m8 0h1m1 0h2m13 0h3m41 0h1M88 93h1m1 0h1m24 0h1m1 0h1m2 0h1m3 0h2m2 0h2M16 94h2m9 0h1m1 0h1m70 0h1m18 0h2M14 95h1m2 0h1m4 0h1m6 0h1m9 0h1m16 0h2m2 0h1M16 96h1m73 0h1m9 0h1m14 0h1m1 0h1m1 0h2m7 0h1M13 97h4m3 0h1m1 0h1m1 0h2m1 0h3m4 0h1m4 0h1m1 0h1m13 0h2m3 0h1m-5 1h1m13 0h1m44 0h1m1 0h1m1 0h2m5 0h1m-25 1h2m1 0h3m4 0h1m1 0h1m1 0h1m-34 1h2m7 0h1m1 0h1m1 0h1m13 0h1m-77 1h1m21 0h1m9 0h1m48 0h1m3 0h2m7 0h1m-96 1h4m1 0h1m1 0h2m17 0h1m7 0h1m18 0h1m1 0h1m10 0h1m-68 1h3m1 0h1m1 0h1m1 0h1m6 0h2m1 0h1m8 0h1m28 0h1m1 0h2m7 0h1m-88 1h1m21 0h1m4 0h1m2 0h1m12 0h1m1 0h2m1 0h1m3 0h1m2 0h2m3 0h2m12 0h1m4 0h1m-54 1h2m10 0h1m4 0h1m1 0h3m31 0h1m7 0h1m-68 1h2m1 0h2m1 0h1m1 0h2m1 0h1m4 0h1m1 0h1m7 0h2m30 0h1m8 0h1m-68 1h1m1 0h1m3 0h3m17 0h1m1 0h1m6 0h1m5 0h1m25 0h1m-62 1h2m2 0h1m14 0h4m2 0h1m3 0h1m4 0h1m16 0h1m1 0h1m27 0h1m-88 1h1m2 0h4m8 0h1m1 0h2m8 0h1m28 0h1m1 0h2m-60 1h2m1 0h2m1 0h1m4 0h1m3 0h2m1 0h1m8 0h1m30 0h2m8 0h1m-68 1h1m4 0h2m1 0h2m16 0h1m4 0h1m2 0h1m4 0h2m12 0h1m2 0h1m-78 1h1m5 0h1m20 0h1m2 0h1m12 0h1m1 0h2m8 0h2m3 0h2m12 0h1m2 0h1m9 0h1m-66 1h2m5 0h2m14 0h3m12 0h2m15 0h3m-59 1h2m1 0h1m2 0h1m3 0h1m12 0h1m1 0h1m8 0h1m4 0h1m13 0h1m4 0h1m7 0h1m-89 1h1m2 0h2m2 0h1m1 0h1m1 0h1m1 0h2m1 0h1m1 0h2m8 0h1m27 0h2m4 0h1m14 0h1m4 0h1m2 0h1m1 0h1m2 0h1m-90 1h2m4 0h1m7 0h1m6 0h2m3 0h1m2 0h2m39 0h1m8 0h1m7 0h1m-87 1h1m1 0h2m2 0h1m1 0h2m5 0h4m7 0h1m15 0h3m2 0h1m3 0h2m1 0h2m3 0h2m14 0h1m1 0h1m2 0h1m2 0h1m1 0h1m-88 1h2m2 0h1m2 0h4m4 0h1m4 0h1m1 0h1m1 0h1m3 0h1m7 0h1m2 0h1m8 0h1m-47 1h1m2 0h2m2 0h1m3 0h1m2 0h2m28 0h2m1 0h1m2 0h2m2 0h3m2 0h2m14 0h1m5 0h1m1 0h1m1 0h1m2 0h1m6 0h1m-96 1h2m5 0h3m5 0h1m1 0h2m7 0h1m16 0h2m1 0h1m2 0h1m5 0h1m4 0h1m14 0h1m4 0h2m1 0h1m1 0h1m2 0h1m-91 1h5m2 0h2m1 0h1m2 0h1m1 0h1m1 0h1m1 0h2m2 0h1m6 0h1m16 0h1m32 0h1m-80 1h1m5 0h1m2 0h1m8 0h1m2 0h2m6 0h3m4 0h1m10 0h1m-29 1h1m18 0h1m40 0h1m-80 1h1m80 0h1m-82 1h1m7 0h1m70 0h1m1 0h1m-82 1h1m5 0h1m11 0h2m18 0h1m47 0h1m-87 1h1m-1 1h1m1 0h2m10 0h1m3 0h2m61 0h1m2 0h1m4 0h1m-90 1h1m5 0h1m7 0h1m23 0h1m42 0h1"/>
<path stroke="#fef0a8" d="M42 11h1m5 0h1m10 0h1m13 0h1m34 0h1m7 0h1m7 0h6M58 12h1m1 0h1m1 0h3m3 0h1m3 0h1m29 0h1m2 0h1m1 0h2m2 0h1m1 0h2m8 0h1M39 13h1m33 0h1m41 0h1m2 0h1m5 0h2m1 0h1M50 14h1m21 0h2m38 0h1m3 0h1m1 0h1m3 0h1m1 0h4m1 0h1m-26 1h1m6 0h2m3 0h1m5 0h1m1 0h3m2 0h1M38 16h2m1 0h2m7 0h1m41 0h1m2 0h1m19 0h1m4 0h1M41 17h3m3 0h3m3 0h1m33 0h1m4 0h1m4 0h1m17 0h1m1 0h1m2 0h1M57 18h1m1 0h1m12 0h1m29 0h1m1 0h2m1 0h3m3 0h2m8 0h3m1 0h2M59 19h1m7 0h2m3 0h2m28 0h1m1 0h2m2 0h2m1 0h4m1 0h1m5 0h8M50 20h1m12 0h1m9 0h1m37 0h2m3 0h1m4 0h2m1 0h1m1 0h4M73 21h1m34 0h1m3 0h1m3 0h1m6 0h4m1 0h2M49 22h2m22 0h1m30 0h1m11 0h1m1 0h1m3 0h5m2 0h1M83 23h1m1 0h1M67 24h1m5 0h1m31 0h1m10 0h1m1 0h1m3 0h1m1 0h1m1 0h1m1 0h2M50 25h1m57 0h1m3 0h1m1 0h1m1 0h1m1 0h1m2 0h6m1 0h2M59 26h1m4 0h1m2 0h1m4 0h2m30 0h2m1 0h2m3 0h3m7 0h6M34 27h1m7 0h1m4 0h3m67 0h1m2 0h1m5 0h1m1 0h1M48 28h1m10 0h1m44 0h1m3 0h1m3 0h1m2 0h2m1 0h1m3 0h1m2 0h1m2 0h1M50 29h1m53 0h1m16 0h2m3 0h1m1 0h1M50 30h1m8 0h1m7 0h1m4 0h2m30 0h1m2 0h2m3 0h2m2 0h1m6 0h3m1 0h1m1 0h1M58 31h2m3 0h1m3 0h2m3 0h2m30 0h1m2 0h2m2 0h3m2 0h1m5 0h1m1 0h2m1 0h1m1 0h1M84 32h2m23 1h1M27 34h1m78 0h1m2 0h2m-8 1h1M83 37h1M16 38h1m-4 1h1m2 0h1m34 0h2m34 0h1m14 0h1m6 0h2m2 0h1m2 0h1m4 0h2M51 40h1m1 0h2m55 0h1M16 41h2m33 0h1m2 0h1m48 0h1m1 0h1m3 0h2M11 42h1m4 0h2m9 0h1m59 0h1m14 0h2m1 0h3m1 0h2m3 0h1M17 43h1m35 0h1M17 47h1m9 0h1m55 0h3M11 48h1m5 0h1m9 0h2m37 0h1m16 0h1m1 0h1M17 49h1m4 0h1m4 0h1m55 0h1m1 0h1M14 50h1m1 0h1m3 0h1m1 0h1m2 0h1m3 0h2m35 0h1m3 0h1m12 0h1M39 51h3m-3 1h1M17 53h1m22 0h1m2 0h1m26 0h1m12 0h2M40 54h2m24 0h1m3 0h1m12 1h3m16 0h1m3 0h6m1 0h3m2 0h1m1 0h3M83 56h1m1 0h1m16 0h1m1 0h1m1 0h3m2 0h2m2 0h1m3 0h1m1 0h1M18 57h1m65 0h2m16 0h2m2 0h2m1 0h3m2 0h3m5 0h1M12 58h1m18 0h1m52 0h2m16 0h1m6 0h3m3 0h1m2 0h1m1 0h1m1 0h1M11 59h1m6 0h2m6 0h1m1 0h1m1 0h2m41 0h1m42 0h1m4 0h1m6 0h1M12 60h1m70 0h3m16 0h2m1 0h2m4 0h6m1 0h1m1 0h2M12 62h1m89 0h1m1 0h2m1 0h2m2 0h4m4 0h1M12 63h1m7 0h1m10 0h1m51 0h1m1 0h1m1 0h1m16 0h2m1 0h1m2 0h4m1 0h1m1 0h1m2 0h1m1 0h1M12 64h1m13 0h1m57 0h1m2 0h1m14 0h1m2 0h1m2 0h1m3 0h4m4 0h2m-20 1h1m1 0h2m2 0h1m2 0h3m5 0h2M48 66h1m1 0h1m3 0h1m31 0h1M19 67h1m4 0h1m1 0h1m3 0h2m51 0h3m19 0h2m2 0h1m3 0h1m2 0h1m3 0h2M12 68h1m6 0h1m11 0h1m51 0h3m16 0h2m1 0h4m1 0h2m1 0h1m8 0h1M87 69h1m20 0h1m2 0h3m3 0h1m2 0h1M50 70h1m2 0h2m31 0h1m17 1h1m14 0h1M12 72h1m1 0h1m3 0h2m6 0h1m3 0h2m52 0h2m1 0h1m17 0h3m1 0h1m5 0h1m2 0h1m1 0h3M11 73h1m1 0h2m4 0h4m1 0h1m1 0h1m3 0h2m27 0h1m23 0h3m16 0h2m1 0h2m2 0h1m4 0h1m1 0h1m1 0h1m2 0h2M75 74h1m-2 1h1m4 2h3m-2 1h1m-4 1h1m-1 1h2m-2 1h1M23 83h1m13 0h1m9 0h4m2 0h1m1 0h2m3 0h1m2 0h1m3 0h2m4 0h1M32 84h1m14 0h1m5 0h1m1 0h1m1 0h2m1 0h1m3 0h1m2 0h2m3 0h2M23 85h1m8 0h1m14 0h3m5 0h4m1 0h1m2 0h1m3 0h2m3 0h2m26 0h1M66 86h1m3 0h1m22 0h1m2 0h1m2 0h1m3 0h1m1 0h5m3 0h1m9 0h1m2 0h1m2 0h1M17 87h1m21 0h1m2 0h1m20 0h2m4 0h1m2 0h1m18 0h1m7 0h2m7 0h1m2 0h2M96 88h1m21 0h1M99 89h1m2 0h1m1 0h4m1 0h1m4 0h1M94 90h1m20 0h1m2 0h4M87 91h1m10 0h1m2 0h2m3 0h2M16 92h2m81 0h1m15 0h1m3 0h2M86 93h1m12 0h1m2 0h1m1 0h2m1 0h2m2 0h3m2 0h1m1 0h1m2 0h3m2 0h1M90 94h1m8 0h1m12 0h1m2 0h1m1 0h2m5 0h6M16 95h1m102 0h2M86 96h1m1 0h1m10 0h1m4 0h1m6 0h4m1 0h1m1 0h1m2 0h7m1 0h1M17 97h1m73 1h1m16 0h1m2 0h2m3 0h1m1 0h1m2 0h1m1 0h3m1 0h3M86 99h2m1 0h1m2 0h3m1 0h1m12 0h2m-26 1h1m1 0h1m3 1h1m20 0h1m4 0h2m2 0h2m1 0h2m1 0h1m1 0h1M12 102h1m5 0h2m19 0h1m2 0h1m12 0h4m1 0h1m1 0h1m1 0h2m2 0h1m4 0h1m15 0h1m1 0h1m1 0h1m31 0h1m-91 1h1m5 0h2m14 0h1m2 0h1m7 0h1m4 0h1m12 0h1m-72 1h1m2 0h2m2 0h1m3 0h1m1 0h4m24 0h1m5 0h2m1 0h1m5 0h1m17 0h1m3 0h1m2 0h1m18 0h1m4 0h1m7 0h1M12 105h1m5 0h2m4 0h1m1 0h1m14 0h2m17 0h1m1 0h4m1 0h2m3 0h2m12 0h1m2 0h1m3 0h1m-60 1h1m7 0h1m12 0h3m2 0h1m6 0h2m3 0h2m12 0h1m2 0h1m1 0h1m-80 1h1m5 0h1m7 0h1m3 0h2m10 0h1m12 0h3m4 0h2m4 0h1m3 0h1m13 0h1m2 0h1m1 0h1m1 0h1m23 0h1M11 108h2m5 0h2m1 0h1m3 0h2m1 0h1m1 0h2m23 0h2m5 0h1m1 0h2m2 0h2m16 0h2m5 0h1m4 0h1m18 0h1m2 0h1m3 0h3M18 109h2m13 0h2m4 0h1m1 0h2m12 0h1m1 0h2m8 0h1m4 0h2m12 0h1m2 0h1m9 0h1m-66 1h1m4 0h4m12 0h1m1 0h2m4 0h1m4 0h1m30 0h1m-88 1h1m2 0h1m3 0h2m10 0h1m23 0h4m1 0h1m1 0h2m1 0h1m2 0h2m17 0h1m5 0h1m2 0h1m1 0h1m18 0h1m1 0h1m5 0h1m2 0h1M14 112h2m3 0h3m3 0h2m1 0h1m1 0h2m24 0h1m3 0h1m1 0h4m3 0h1m17 0h1m5 0h2m1 0h1m1 0h1m2 0h1m15 0h1m1 0h1m4 0h3m1 0h2M12 113h1m5 0h2m6 0h1m3 0h2m7 0h1m15 0h1m4 0h1m1 0h4m1 0h3m16 0h1m6 0h1m2 0h1m22 0h1M12 114h1m5 0h2m5 0h2m15 0h1m12 0h1m1 0h1m2 0h1m1 0h1m1 0h1m8 0h1m15 0h1m6 0h1m18 0h1M13 115h1m2 0h2m10 0h1m26 0h4m1 0h1m2 0h2m7 0h1m17 0h1m1 0h1m1 0h1m9 0h1m9 0h1M11 116h1m2 0h2m3 0h4m1 0h2m2 0h1m1 0h2m7 0h1m17 0h1m1 0h2m6 0h1m5 0h1m19 0h1m2 0h1m1 0h1m-82 1h1m9 0h1m35 0h1m5 0h1m24 0h1m6 0h1m5 0h2m2 0h2M13 118h2m7 0h1m1 0h2m2 0h1m26 0h1m2 0h1m1 0h1m11 0h2m14 0h1m1 0h1m2 0h2m1 0h1m1 0h1m2 0h1m-46 1h1m5 0h1m2 0h1m5 0h1m18 0h1m1 0h1m2 0h1m15 0h3m-98 1h2m9 0h1m27 0h1m2 0h1m1 0h1m2 0h3m1 0h1m1 0h1m2 0h1m17 0h1m1 0h1m2 0h1m8 0h1m3 0h1m-89 1h1m4 0h1m3 0h1m9 0h1m15 0h2m2 0h2m3 0h1m2 0h1m4 0h2m16 0h1m2 0h1m2 0h1m1 0h1m2 0h1m-88 1h2m3 0h2m1 0h1m1 0h3m1 0h2m1 0h1m7 0h1m15 0h1m1 0h2m4 0h1m4 0h1m3 0h2m19 0h1m2 0h1m4 0h1m-90 1h1m5 0h2m1 0h2m2 0h2m3 0h1m55 0h1m6 0h1m2 0h1m1 0h1m-88 1h1m1 0h3m2 0h5m1 0h3m3 0h2m62 0h1m1 0h1m1 0h1m2 0h1m6 0h1m3 0h1M11 125h1m1 0h3m2 0h2m1 0h2m2 0h2m1 0h1m1 0h2m62 0h1m1 0h1m1 0h1m2 0h2m5 0h1m2 0h2M11 126h1m2 0h2m3 0h4m1 0h4m1 0h1m56 0h1m6 0h2m1 0h1m11 0h1m3 0h1M11 127h1m1 0h2m3 0h3m5 0h1m3 0h2m62 0h1m1 0h1m1 0h1m2 0h1m-91 1h1m6 0h4m2 0h2m1 0h3m29 0h1m34 0h1m3 0h1m5 0h1m6 0h2M11 129h1m2 0h2m3 0h4m1 0h2m4 0h2m54 0h1m7 0h1m1 0h1m1 0h1m2 0h1m10 0h1"/>
<path stroke="#fee79a" d="M55 11h2m1 0h1m1 0h1m3 0h1m5 0h2m31 0h1m5 0h2M66 12h1m3 0h1m14 0h1M56 13h2m2 0h1m1 0h4m1 0h2m1 0h3m30 0h1m2 0h1m3 0h1M57 14h2m1 0h1m1 0h2m1 0h1m2 0h2m1 0h1m31 0h1m2 0h1m2 0h2M55 15h4m1 0h1m2 0h1m6 0h2m31 0h1m2 0h2m1 0h2M57 16h1m1 0h1m4 0h1m3 0h1m3 0h1m29 0h1m2 0h1m1 0h1m5 0h1m10 0h2M58 17h2m7 0h1m4 0h2m28 0h1m1 0h1m2 0h2m2 0h4m8 0h4m1 0h1M62 18h1m3 0h1m3 0h2m12 0h2M55 19h2m5 0h1m3 0h1m2 0h3m31 0h1M55 20h2m1 0h1m1 0h1m1 0h1m1 0h2m3 0h1m1 0h1m31 0h1m2 0h2m2 0h1M55 21h2m3 0h1m1 0h1m1 0h1m1 0h1m2 0h3M55 22h2m1 0h1m3 0h2m1 0h2m35 0h2m1 0h2m2 0h2m2 0h1M55 24h1m1 0h1m2 0h1m1 0h1m1 0h3m3 0h1m32 0h1m2 0h2m1 0h2m2 0h1M55 25h4m1 0h1m1 0h1m3 0h1m2 0h1m32 0h2m2 0h1m2 0h2m2 0h1M55 26h3m4 0h1m2 0h2m2 0h3M55 27h1m1 0h1m2 0h1m3 0h2m1 0h2m3 0h2m28 0h2m1 0h3m1 0h1m1 0h1m13 0h1M55 28h1m1 0h1m2 0h1m1 0h1m1 0h2m3 0h1m33 0h1m2 0h1m2 0h2M58 29h1m1 0h1m2 0h4m36 0h1m3 0h1m1 0h2M55 30h1m8 0h1m4 0h3m31 0h1M55 31h1m10 0h1m2 0h2m12 0h1m19 0h1m2 0h1M50 32h1m-4 2h4m32 0h1m1 0h1M47 35h3m35 0h1M48 36h1m1 0h1m2 3h1M34 47h2m-2 1h3m-3 1h2m-4 1h1m1 0h1m1 0h1m2 3h1M11 55h1m3 0h1m3 0h4m1 0h5m1 0h2m35 0h1m4 0h2m52 0h1M11 56h1m1 0h1m1 0h1m3 0h4m2 0h2m36 0h1m4 0h1m4 0h1m42 0h1M13 57h4m7 0h5m33 0h4m1 0h2m3 0h1m53 0h3M11 58h1m2 0h2m1 0h1m2 0h1m1 0h1m2 0h1m3 0h1m32 0h1m1 0h2m1 0h2m3 0h1m52 0h2m1 0h1M16 59h2m44 0h1m2 0h1m2 0h1m10 0h1m43 0h1m1 0h1m1 0h1m1 0h1M11 60h1m1 0h3m4 0h2m2 0h2m1 0h3m35 0h1m1 0h2m3 0h2m51 0h2m1 0h1M13 62h2m3 0h5m1 0h3m1 0h1m28 0h3m58 0h1m3 0h1m2 0h2M13 63h3m6 0h1m6 0h1m26 0h2m33 0h1m24 0h1m8 0h5M11 64h1m1 0h1m2 0h1m3 0h2m2 0h1m2 0h4m26 0h2m32 0h2m31 0h1m1 0h4M13 65h2m5 0h1m1 0h1m1 0h1m1 0h4m27 0h4m23 0h1m21 0h1m3 0h1m5 0h1m1 0h1m4 0h1m1 0h2m1 0h2M12 66h1m5 0h2m1 0h2m1 0h3m2 0h1m1 0h1m51 0h3m20 0h2m2 0h1m3 0h2m1 0h2m2 0h2M13 67h1m3 0h1m9 0h1m27 0h1m1 0h2m1 0h1m31 0h1m30 0h5m1 0h1M13 68h2m1 0h1m10 0h1m28 0h5m30 0h2m30 0h7M14 69h1m4 0h3m3 0h2m1 0h1m1 0h2m51 0h2m25 0h1m10 0h2M11 70h3m1 0h1m2 0h2m1 0h1m2 0h1m1 0h1m3 0h2m51 0h3m1 0h1m14 0h2m1 0h3m1 0h2m5 0h1m4 0h1M11 71h1m1 0h3m2 0h4m4 0h1m3 0h1m52 0h3m5 0h1m11 0h1m5 0h2m5 0h1m1 0h1m3 0h1m5 0h1M13 72h1m2 0h2m9 0h1m27 0h1m1 0h2m1 0h1m31 0h1m30 0h5m1 0h1M17 73h1m9 0h1m27 0h2m3 0h1m30 0h2m30 0h2m2 0h1m1 0h1M59 79h1M31 83h1m2 0h1m31 0h1m2 0h3m14 0h1m3 0h2m23 0h1m1 0h1m2 0h2m4 0h1m1 0h1M18 84h1m46 0h2m2 0h3m18 0h2m26 0h3m1 0h1M12 85h1m5 0h1m15 0h2m30 0h1m3 0h2m16 0h1m1 0h2m9 0h1m13 0h1m3 0h3m7 0h1M83 86h1m6 0h1m6 0h1M70 87h1m22 0h2m1 0h1m6 0h1m2 0h1m2 0h2m2 0h2m8 0h1m1 0h5M85 88h1m8 1h2m25 0h2M83 90h4m10 0h1M63 91h2m3 0h1m2 0h1m1 0h1m9 0h3M64 92h1m2 0h2m3 0h2m28 0h2m1 0h1m1 0h1m1 0h1m3 0h1m2 0h1m1 0h1M87 93h1m10 0h1M87 94h1m1 0h1m16 0h1m2 0h1M89 95h1m9 0h1m2 0h1m1 0h1m2 0h1m6 0h1m1 0h1m1 0h1m4 0h1M87 96h1m13 0h1m8 0h1M86 97h1m3 0h1m8 0h1m3 0h3m1 0h2m1 0h1m1 0h1m1 0h1m1 0h1m1 0h1m2 0h4m1 0h1m2 0h1M93 98h1m9 0h1m2 0h1m3 0h1M95 99h1m1 0h1m2 0h1m-2 1h1m-15 1h1m10 0h1m6 0h1m2 0h1m2 0h2m3 0h1m-99 1h2m4 0h1m2 0h1m1 0h1m42 0h1m21 0h1m2 0h1m20 0h1m1 0h1m2 0h2m4 0h1M11 103h1m1 0h3m3 0h2m1 0h1m1 0h2m1 0h5m38 0h2m15 0h1m4 0h1m4 0h2m2 0h1m19 0h1m2 0h4m1 0h1M17 104h1m77 0h1m1 0h1m18 0h1m4 0h2M16 105h1m5 0h1m4 0h1m42 0h1m21 0h1m4 0h1m18 0h1m1 0h1m2 0h1M13 106h3m4 0h1m1 0h1m1 0h2m1 0h2m2 0h1m33 0h2m3 0h1m16 0h1m6 0h1m3 0h1m2 0h1m13 0h1m2 0h1m2 0h5m1 0h1M15 107h3m2 0h1m3 0h1m2 0h1m1 0h1m36 0h1m3 0h1m21 0h1m2 0h1m1 0h1m18 0h1m1 0h1m2 0h2m1 0h1m2 0h1M17 108h1m79 0h1m18 0h1m1 0h1m2 0h1M11 109h1m2 0h2m6 0h1m1 0h2m1 0h3m40 0h2m15 0h1m4 0h1m1 0h1m6 0h1m13 0h3m3 0h1m1 0h1m1 0h1m1 0h1M11 110h1m1 0h3m4 0h1m1 0h1m1 0h2m2 0h2m35 0h2m2 0h3m15 0h1m8 0h3m2 0h1m13 0h1m4 0h1m2 0h4m1 0h2M17 111h1m9 0h1m88 0h1m1 0h1m3 0h1M17 112h1m79 0h1m18 0h1M16 113h2m4 0h1m1 0h2m61 0h1m4 0h1m23 0h1m1 0h1m2 0h2M17 114h1m48 0h1m20 0h1m7 0h1m1 0h1m3 0h1m16 0h1m3 0h1m-57 1h1m16 0h1m1 0h1m20 0h1m2 0h2m-55 1h1m6 0h1m1 0h1m4 0h2m20 0h1m2 0h1m1 0h1m4 0h1m1 0h2m1 0h3m1 0h3m-48 1h1m16 0h1m25 0h1m-48 1h1m2 0h2m4 0h1m12 0h1m7 0h1m2 0h1m1 0h1m4 0h1m2 0h4m2 0h1m1 0h2m-31 1h2m-3 1h3m24 0h1m-45 1h1m2 0h2m12 0h1m1 0h1m3 0h1m7 0h1m4 0h8m3 0h1m-52 1h1m3 0h1m2 0h1m1 0h1m12 0h1m4 0h1m7 0h1m4 0h1m1 0h1m1 0h2m3 0h1m1 0h2m-98 1h1m41 0h1m5 0h1m1 0h2m3 0h2m13 0h1m7 0h1m1 0h1m8 0h1m2 0h2m-95 1h2m46 0h1m2 0h2m3 0h2m23 0h1m5 0h1m2 0h2m2 0h1m-95 1h2m9 0h1m30 0h3m1 0h2m1 0h1m1 0h2m3 0h1m14 0h1m15 0h1m2 0h1m2 0h2m-94 1h1m37 0h1m1 0h2m1 0h1m1 0h4m1 0h2m3 0h1m10 0h1m3 0h1m9 0h1m5 0h1m6 0h1m-54 1h1m1 0h1m3 0h2m2 0h2m3 0h2m13 0h1m14 0h2m2 0h2m1 0h1m-93 1h1m39 0h2m1 0h1m2 0h3m2 0h1m2 0h1m11 0h1m3 0h1m22 0h1m-52 1h1m3 0h3m1 0h2m3 0h2m11 0h1m1 0h1m9 0h1m5 0h1m6 0h1"/>
<path stroke="#fee094" d="M66 11h1m16 0h3m-3 1h2M55 13h1m2 0h1m7 0h1m2 0h1m14 0h1M55 14h2m9 0h1m3 0h1m13 0h1M66 15h1m2 0h1m13 0h3M55 16h1m2 0h1m1 0h1m1 0h2m1 0h1m3 0h1m33 0h1m2 0h1m2 0h2m3 0h1M55 17h3m2 0h1m1 0h5m1 0h1m34 0h1m1 0h2m2 0h2M83 18h1m-1 1h3M66 20h1m3 0h1m12 0h3m-3 1h3M69 22h3M56 24h1m12 0h1m1 0h1m11 0h3M70 25h2m12 0h1m-2 1h3M58 27h1m3 0h1m6 0h1m1 0h1m38 0h1M56 28h1m9 0h1m3 0h2m11 0h1m1 0h1M55 29h3m4 0h1m6 0h3m-6 1h1m16 0h3m-2 1h2M50 35h1m33 5h1m-1 3h2M51 47h3m-3 1h2m-1 1h2M35 50h1m16 0h1m-6 1h2m-2 1h4m-4 1h1m1 0h1M13 55h2m1 0h2m11 0h1m32 0h4m2 0h1m2 0h1m51 0h1m1 0h1m1 0h3M14 56h1m2 0h1m6 0h1m3 0h2m32 0h1m2 0h1m1 0h1m4 0h1m51 0h1m1 0h1m1 0h2M17 57h1m11 0h1m36 0h1m2 0h1m1 0h1m7 0h1m43 0h3m3 0h1M13 58h1m2 0h1m10 0h1m35 0h1m2 0h1m2 0h1m9 0h1m43 0h2m2 0h1m1 0h1M66 59h1m2 0h2M16 60h2m44 0h3m4 0h1m1 0h1m51 0h2m2 0h1m1 0h1M16 62h2m9 0h1m1 0h1m25 0h2m3 0h1m30 0h2m30 0h2m2 0h3M16 63h2m37 0h1m2 0h1m1 0h1m31 0h1m30 0h2M17 64h1m37 0h1m4 0h1m62 0h1m1 0h1M16 65h2m37 0h2m34 0h2m31 0h1m2 0h1M11 66h1m1 0h3m1 0h1m2 0h1m7 0h1m1 0h1m26 0h3m31 0h2m10 0h1m5 0h1m6 0h1m8 0h4M56 67h1M17 68h1m37 0h1M13 69h1m1 0h2m5 0h1m1 0h1m2 0h1m1 0h1m27 0h4m30 0h2m13 0h1m16 0h7M14 70h1m5 0h1m1 0h1m2 0h1m2 0h2m29 0h1m58 0h1m3 0h2m1 0h2m1 0h1M22 71h1m1 0h2m1 0h3m25 0h1m1 0h1m2 0h1m45 0h1m16 0h3m1 0h1m1 0h1M56 72h1m34 0h1m1 1h1M57 79h2M11 83h2m2 0h1m2 0h4m2 0h1m1 0h1m1 0h1m1 0h1m57 0h1m4 0h1m4 0h1m2 0h1m3 0h1m6 0h1m1 0h1m1 0h1m1 0h1m3 0h4m1 0h1m1 0h1M11 84h5m3 0h3m2 0h3m3 0h2m8 0h1m2 0h1m42 0h1m1 0h1m9 0h1m2 0h1m2 0h1m3 0h1m3 0h1m2 0h2m4 0h1m2 0h6M11 85h1m3 0h1m3 0h3m2 0h1m1 0h1m1 0h1m1 0h2m11 0h1m42 0h1m6 0h1m2 0h1m1 0h1m9 0h1m7 0h1m1 0h1m3 0h2m1 0h4M84 86h2m3 0h1m-2 1h1m1 0h1m1 0h1m2 0h1m2 0h1m2 0h1m22 0h1M83 88h2m2 0h1m-2 1h1m5 0h1m4 0h2m2 0h1m14 0h1m1 0h1M87 90h1M62 91h1m2 0h2m2 0h1m2 0h1m20 0h1m2 0h1M62 92h2m1 0h2m2 0h1m17 0h1m1 0h1m8 0h1m2 0h1m4 0h1m3 0h1M73 93h1m9 0h1m1 0h1m5 0h1m9 0h1m-4 1h1m2 0h1m8 0h1M87 95h1m13 0h1m1 0h1m2 0h1m2 0h2m2 0h1m8 0h1M85 96h1m5 0h1m6 0h1M89 97h1m8 0h1m3 0h1m3 0h1m2 0h1m3 0h1M83 98h3m1 0h1m1 0h1m2 0h1m1 0h1m1 0h2m2 0h2m-1 1h1m-4 1h1m-16 1h2m2 0h1m1 0h1m2 0h4m2 0h2m-3 1h1m-82 1h2m48 0h1m28 0h1m19 0h2m1 0h1m3 0h1m-39 1h1m-68 1h1m65 0h1m38 0h1M16 106h2m51 0h1m1 0h1m20 0h1m2 0h1m1 0h1m18 0h1m-33 2h2m-70 1h2m48 0h1m28 0h1m1 0h1m20 0h1m3 0h1M16 110h2m9 0h1m64 0h1m1 0h2m22 0h1m2 0h2m4 0h1m-45 2h2m10 1h1m1 0h1m-82 1h1m66 0h1m0 1h1m18 0h1m-38 1h1m16 0h3m3 0h1m13 0h1m2 0h1m-37 2h1m12 0h1m1 0h1m3 0h1m13 0h1m5 0h2m17 1h1m-2 1h2m-45 1h1m25 0h1m-41 1h1m12 0h1m1 0h1m9 0h1m7 0h1m1 0h1m3 0h2m-56 1h1m1 0h2m1 0h1m1 0h3m4 0h3m11 0h1m1 0h1m-30 1h3m1 0h1m1 0h2m1 0h1m3 0h1m1 0h1m11 0h2m2 0h1m-33 1h1m1 0h1m6 0h1m1 0h1m2 0h3m11 0h3m-30 1h1m9 0h1m2 0h2m13 0h2m-31 1h1m2 0h1m1 0h1m1 0h1m2 0h2m2 0h1m1 0h1m11 0h3m24 0h1m9 0h1m-66 1h2m5 0h1m3 0h1m2 0h2m13 0h2m33 0h2m-66 1h4m1 0h1m1 0h1m6 0h1m1 0h1m11 0h2"/>
<path stroke="#fed98d" d="M83 13h1m1 0h1m-3 1h1m1 0h1M56 16h1m9 0h1m3 0h2m12 0h2M69 17h3m11 5h3m-3 3h1m1 0h1M56 27h1m9 0h1m3 0h1m13 0h2m-2 1h1m-2 1h3m-3 9h3m-3 2h1m1 0h1m-3 1h3m-3 1h1m1 0h1m-3 1h1M54 47h1m-1 1h1m-4 1h1m2 0h1m-4 1h1m1 0h1m-5 1h2m-1 2h1m-4 1h3m16 1h1m2 0h2m8 0h1m44 0h1M16 56h1m10 0h1m36 0h1m4 0h1m1 0h1m7 0h1m43 0h1m1 0h1m1 0h1M70 57h1m-1 1h2m8 1h2M66 60h1m3 0h1m8 0h1M56 64h1M16 66h1m10 0h1m27 0h1m4 0h1m62 0h2m4 0h1M93 67h1M17 69h1m37 0h2M16 70h2m9 0h1m27 0h1m1 0h2m1 0h1m30 0h2m31 0h1m2 0h1m1 0h1M16 71h2m38 0h1m1 0h1m33 0h1m33 0h1M96 73h1M55 79h2m3 0h1m-2 1h1m-1 1h1M13 83h2m7 0h1m2 0h1m3 0h1m8 0h1m1 0h4m43 0h1m1 0h1m4 0h1m1 0h1m5 0h1m1 0h1m2 0h2m2 0h1m1 0h1M16 84h1m5 0h1m4 0h3m8 0h1m2 0h1m45 0h1m1 0h1m3 0h1m2 0h1m5 0h2m1 0h1m1 0h1m3 0h1m1 0h2m8 0h1M13 85h2m1 0h1m5 0h1m2 0h1m1 0h1m1 0h1m8 0h1m1 0h3m44 0h1m1 0h1m4 0h1m7 0h1m1 0h3m4 0h4m9 0h1M83 87h3m11 0h1M83 89h3M70 91h1m21 0h1m1 0h1M70 92h2m19 0h1M67 93h1m16 0h1m-2 1h1m1 0h1m5 0h1m6 1h1M73 96h1m9 0h2m2 1h1m13 0h1m-7 1h1m1 3h1m-15 1h3m-2 1h1m-2 1h1m1 0h1m-2 1h2m-1 1h1m-3 1h2m-2 1h1m32 2h1m-34 1h3m-1 1h1m-3 1h3m-2 1h2m38 1h3m1 0h2m-20 1h1m13 1h6m-7 2h5m1 0h1m-7 1h4m2 0h1m-2 1h2m-74 2h1m9 0h1m17 0h1m34 0h2m-66 1h1m10 0h1m3 0h1m14 0h1m29 0h1m1 0h1m1 0h2m-65 1h1m58 0h1m1 0h1m1 0h2m-50 1h1m43 0h1m1 0h1m1 0h2m-65 1h1m13 0h1m46 0h1m1 0h1m-5 1h1m1 0h1m3 0h1m-56 1h1m3 0h1m44 0h1m1 0h1m1 0h3"/>
<path stroke="#fed387" d="M7 2h1m2 4h1M2 7h1m3 3h1m76 6h1m-1 1h3M83 27h1M43 33h1m-1 3h1m-1 1h1m39 2h3m-2 3h1M33 43h1m2 0h2m15 5h1m0 2h1m-7 3h1m1 1h1m15 2h1m3 0h1m9 1h2m-2 1h2m0 1h1m-3 1h1m13 2h1m-2 1h2m1 0h1m-4 1h1m2 0h1M56 66h1m37 1h1m-2 1h2m1 0h1M56 70h1m39 1h1m-4 1h1m2 0h1m-3 1h1M57 80h2m1 0h1m21 0h1M57 81h2m0 1h1m20 0h1M16 83h2m9 0h1m11 0h1m52 0h1m2 0h1m7 0h1m2 0h1m2 0h1M17 84h1m21 0h1m2 0h1m49 0h1m1 0h2m10 0h1m2 0h2M17 85h1m21 0h1m52 0h1m2 0h1m7 0h1m3 0h1m1 0h2M89 87h1m-3 2h1m7 2h1m1 0h1M83 92h3M63 93h2m3 0h1m3 0h1M62 94h2m3 0h2m4 0h1m10 0h1m-2 1h3m5 0h1M63 96h2m3 0h1m2 0h2m18 1h1m-9 6h1m1 0h1m-3 3h2m0 1h1m-3 2h3m-2 1h2m37 5h1m3 0h1m-2 1h4m-7 1h1m-1 1h7m-7 3h5m-4 1h6m-15 1h1m1 0h2m2 0h1m-4 1h1m2 0h2m-5 1h1m2 0h2m-7 1h1m1 0h1m2 0h2m-8 1h2m1 0h1m2 0h2m-7 1h1m1 0h1m3 0h1m-7 1h1m1 0h1m3 0h1"/>
<path stroke="#fecc81" d="M7 1h1m2 0h1M7 5h1M1 7h1M5 7h1m4 0h1M1 10h1m5 0h1M38 32h1m1 0h1m2 0h1m8 0h1M38 33h1m1 1h2m1 0h1m-4 2h3m-5 1h1m1 0h3m9 0h1M32 38h2m3 0h1m-6 2h1m1 0h1m1 0h2m11 0h1M34 41h1m1 0h2m-2 1h2m-6 1h1m1 0h1m12 0h1m-5 4h1m-4 2h1m-9 3h1m4 0h1m42 3h3m-3 1h2m0 1h1m-1 1h1m-2 2h2m10 2h1m2 0h1m-2 1h1m-2 1h1m-2 1h2m1 0h1m-1 1h1m-2 1h2m-4 2h1m2 0h1m-4 1h1m-1 1h2m-1 1h2m-1 1h1m1 0h1M81 79h2M55 80h2m-2 1h2m3 0h1m18 0h1M55 82h1m1 0h2m1 0h1m18 0h1m17 1h1m12 0h1M97 84h1m-1 1h1M62 93h1m2 0h1m3 0h3m-8 1h2m5 0h2M63 95h1m3 0h1m4 0h2M62 96h1m2 0h3m1 0h1m3 1h1m9 0h3m13 1h1m-2 1h1M83 110h1m39 6h3m-3 6h1m-8 1h1m5 0h1m-7 1h1m-1 1h1"/>
<path stroke="#fec47a" d="M7 0h1m2 0h1M10 2h1M7 3h1m2 0h1M7 4h1m2 0h1M10 5h1M7 6h1M0 7h1M3 7h2M6 7h1M0 10h1m1 0h4M39 32h1m1 0h2m-4 1h4m8 0h2M38 34h1m3 0h1m9 0h1M38 35h6m8 0h1M38 36h2m11 0h2M39 37h1m11 0h1m1 0h1M34 38h3m12 0h1M32 39h2m1 0h3m-5 1h1m1 0h1m12 0h1M32 41h2m1 0h1m13 0h1M32 42h4m-1 1h1m12 0h3M40 48h1m2 0h1m-6 1h1m2 0h1m1 0h1m-1 1h1M33 51h1m2 0h2m-5 1h4m0 1h1m44 3h1m12 6h1m1 1h1m-3 1h1m1 0h1m-1 1h1m-5 1h2m2 1h1m-3 1h1m1 0h1m-4 1h2m1 0h1m-2 1h1m0 2h1M81 80h1m-2 1h1m1 0h1M56 82h1m24 0h1m35 4h1m1 0h1m5 2h1m2 0h2m-1 2h1M66 93h1m-1 1h1m2 0h1m-8 1h1m1 0h1m3 0h2m0 1h1m-8 1h3m1 0h3m2 0h1m13 20h1m-1 2h1m1 6h1m-1 3h1m-1 1h1m1 0h1"/>
<path stroke="#feb974" d="M8 1h1M9 7h1M1 8h1M7 9h1M51 32h1m1 0h2m-1 1h1M39 34h1m11 0h1m2 0h1m-4 1h1m1 0h2m-2 1h2m-1 1h1m-8 1h2m1 0h1M34 39h1m12 0h2m-2 1h1m2 0h1m-4 1h2m-1 1h2M38 47h4m-4 1h2m1 0h2m-1 1h1m-5 1h1m1 0h1m-9 1h1m1 0h2m-4 2h1m2 0h2m-5 1h6m59 8h1m-3 3h1m1 1h1m-4 4h2m1 1h1M78 77h1m-2 1h1m2 1h1m-2 1h1m40 6h2m2 2h1m1 0h2m-4 2h5M93 92h1m-2 1h1M70 94h1m-6 1h1m4 0h1m-9 2h1m3 0h1m4 0h1m14 23h1m-1 1h1m1 3h1m1 0h1m-1 1h1m-3 1h1m1 0h1m-3 1h1m1 0h1m-1 1h1"/>
<path stroke="#feaf6e" d="M9 1h1M8 2h1M9 3h1M8 4h1M8 5h2M8 6h2M8 7h1M2 8h1M4 8h4m2 0h1M1 9h1M3 9h1M5 9h2m1 1h1m7 3h2m5 0h1m-7 1h1m-5 2h1m9 0h1M13 17h2m8 0h1m4 0h1M13 23h1m2 0h2m10 0h1M17 28h1m5 0h1m29 5h1m-1 1h1m-5 5h2m-1 2h1m-4 1h1m2 0h1m-9 5h1m-4 2h1m-1 1h1m1 0h2M33 53h2M95 66h1m1 4h1m-3 1h1m19 15h2m1 0h1m3 0h1m-6 1h1m1 0h2m2 1h1m0 1h1m1 0h4m-7 1h1M94 92h1m1 0h1m-5 2h1M66 95h1m4 0h1m20 1h1M70 97h1m43 5h1m-1 3h1m-13 9h1m2 0h1m-20 1h1m-1 1h1m0 1h1m-2 1h1m0 1h1m-1 1h1m-2 2h1m1 1h1m1 0h1m-2 1h1m-1 2h1m-1 1h1m-1 1h1m-1 1h1"/>
<path stroke="#fda568" d="M8 0h2M9 2h1M8 3h1M9 4h1M0 8h1M3 8h1M0 9h1M2 9h1M4 9h1m12 2h1m-2 1h1m6 0h1m-8 2h1m6 0h1m-7 1h1m5 0h1M12 16h1m1 0h1m3 0h1m9 0h1m2 0h1M11 17h1m3 0h1m0 1h1m6 0h1M12 23h1m1 0h2m2 0h1m7 0h1m2 0h1m1 0h1m-9 3h1m-8 2h1m6 1h1m-8 2h1m6 0h1M65 63h1m-3 2h1m51 22h1m5 0h2m0 2h1m1 0h1M95 92h1m1 0h1m-1 2h1m-6 1h1m-1 2h1m1 0h1m15 5h3m1 2h1m-4 2h1m-2 1h1m-1 1h2m2 0h1m-13 2h1m4 0h2m-7 1h1m3 0h1m1 0h1m-7 1h1m1 2h1m3 0h1m-22 1h1m33 1h2m-2 1h1m-1 1h2m-36 3h1m28 0h3m-32 1h1m28 0h1m1 0h1m-30 1h1m38 0h1m-1 1h1m-40 1h1m33 3h2"/>
<path stroke="#fd9a62" d="M10 9h1M9 10h1m6 1h1m6 0h1m-7 1h1m10 2h1M16 15h1m-6 1h1m3 0h1m3 0h3m2 0h3m2 0h2M12 17h1m6 0h3m2 0h1m1 0h1m2 0h1m1 0h1M16 19h2m5 0h1m-8 1h2m5 0h1m-8 1h2m5 0h1M11 23h1m7 0h3m2 0h2m1 0h1m2 0h1M16 24h2m5 0h1m-8 1h1m6 0h1m-8 1h2m5 1h1M14 28h1m1 1h2m-2 1h1m6 0h1m-7 1h1M64 62h6m1 0h1m-4 1h2m-8 1h1m-1 1h1m-1 1h1m-1 1h1m-1 1h2m-2 1h2m-2 2h1m53 16h1m1 0h1M95 93h2m-1 1h1m-4 1h1m-1 1h2m18 6h1m-4 1h1m2 0h2m-5 1h1m2 0h1m-4 1h4m-4 1h1m1 0h3m-4 1h4m-2 1h1m-1 1h2m-12 1h4m-2 1h1m1 0h1m-3 1h3m-6 1h8m-7 1h1m2 0h2m1 0h1m-23 2h1m34 1h1m-36 1h1m34 2h1m-6 2h1m2 0h1m7 3h1m-1 2h1m-4 1h1m1 0h1"/>
<path stroke="#fd8f5b" d="M28 11h1m-9 2h1m3 0h8m-8 1h1m6 0h1m-4 1h1m2 0h1M22 16h1m4 0h1M18 17h1m6 0h1m1 0h1m2 0h1M17 18h1m-5 2h1m2 2h1m-4 2h2m-2 1h1m3 0h1m-5 1h1m-1 1h1m2 0h2m-7 1h1m1 0h1m1 0h1m-3 1h1m-1 1h1m3 0h1m-5 1h3M70 62h1m1 0h2M64 63h1m1 0h2m3 0h3M63 64h1m-1 2h1m-1 1h1m-2 3h1m0 1h1m-2 1h2m-2 1h2M90 88h1m-1 1h1m-3 1h2m4 3h1m2 0h1m-5 1h1m3 1h1m-5 2h1m1 0h1m5 3h1m-2 1h1m10 2h2m-2 1h2m-1 4h1m-2 1h2m-10 2h2m4 0h1m-7 1h2m3 0h2m11 3h1m-1 4h2m-2 1h1m-7 1h1m3 0h2m-2 1h1m8 4h1m-3 2h1"/>
<path stroke="#fe8453" d="M9 8h1M8 9h1m15 2h3m2 0h1m-5 1h1m2 0h1M18 13h2m1 0h1m-1 1h1m3 0h3m1 0h2M19 15h1m1 0h1m2 0h3m2 0h1M17 16h1m-2 1h1m5 0h1M13 18h1m-1 1h1m1 0h1m-3 2h3m1 1h1m5 0h1m-2 1h1M11 24h1m3 0h1m-5 1h2m1 0h2m-5 1h1m2 0h2m-2 1h1m-3 1h1m-2 1h1m2 0h2m-2 1h1m21 3h1m-4 3h1m7 2h1m1 0h1m-3 1h1m1 0h1m-6 2h2m3 0h1m-6 2h2m1 0h1M70 63h1m-8 7h1M89 88h1m-2 1h1m6 5h1m-2 1h1m1 0h1m-2 1h1m1 0h1m-2 1h1m13 12h1m-2 1h1m4 0h1m-1 2h1m-5 2h1m1 0h1m9 1h1m-8 7h1"/>
<path stroke="#fe784c" d="M18 11h4m5 0h1m2 0h2M21 12h1m2 0h1m1 0h2m1 0h3M22 13h1m-5 1h3m1 0h1m-5 1h1m1 0h1m6 0h1m2 0h1M11 18h1m2 0h2m-5 1h1m2 0h1m-4 1h1m2 0h2m-5 1h2m0 1h2m-3 2h1m-1 2h1m-2 1h2m2 0h1m-4 2h1m-2 1h2m2 0h1m-5 1h2m21 1h1m1 0h2m-6 2h1m3 0h2m-6 2h1m1 0h1m2 0h1m-6 1h1m1 0h1m1 0h1m4 3h1m1 0h1m-4 1h1m-1 2h1m71 67h2m-1 1h2m-5 1h1m-1 1h2m-1 1h1m10 7h1m-2 1h1m7 2h1m-1 1h1m-1 2h1m-1 1h1m-6 1h2m1 0h2"/>
<path stroke="#fe6d45" d="M5 0h1M5 1h1M6 3h1M0 5h2M3 6h1m18 5h1m-5 1h3m1 3h1M12 18h1m15 0h1M12 19h1m-1 1h1m15 0h1m-1 1h1M11 22h1m3 0h1m2 6h1m1 0h2m11 4h1m1 0h1m-4 1h1m2 0h1m1 0h1m-6 2h2m2 0h2m-3 1h1m-3 1h1m1 0h1m4 1h1m1 0h1m-1 1h1m-5 1h1m3 1h1m-5 1h2m1 0h1m7 5h2m-2 1h2m-4 1h2m-2 1h2m3 1h3m-4 1h1m1 0h2m-4 1h2m-2 1h2m6 3h2m-4 2h1m-1 1h1m5 2h1m-2 1h1m6 1h1m-6 5h1m11 6h1m-2 1h1M87 86h1m-2 1h1m24 23h1m-2 1h1m3 2h1m-2 1h1m4 2h1m-3 2h1m12 5h1m-1 3h1m-7 3h1m2 0h1"/>
<path stroke="#ff613d" d="M2 0h2M6 0h1M3 1h2M6 1h1M0 2h1M5 2h2M0 3h2M5 3h1M1 4h1M6 4h1M2 5h2M0 6h3M4 6h1m17 6h1m-8 1h1m-3 2h1m10 3h2m3 0h1m1 0h1m-5 1h2m2 0h1m-6 1h1m4 0h1m-8 1h1m1 0h2m1 0h1m1 0h1M12 22h1m5 2h1m2 0h1m6 0h1M18 25h1m9 0h1m-9 1h2m-3 1h1m1 0h1m-3 1h1m4 0h2m5 0h1M18 29h1m2 0h1m9 0h1M18 31h4m6 0h2m9 7h1m-2 1h1m3 1h1m-3 2h1m2 0h1m-2 1h1m3 2h1m-2 1h1m2 1h1m-2 1h1m2 1h1m-2 1h1m7 5h3m-5 2h1m-1 1h1m-1 1h1m11 5h2m2 0h1m1 0h1m-7 1h2m1 0h1m2 0h1M64 67h2m3 0h1m3 0h1M64 68h2m7 0h1m-7 1h1m5 0h1m-9 1h1m-2 1h1m-1 2h2m1 0h3M85 83h1m-3 2h1m20 17h2m1 0h2m-7 2h1m-1 1h1m-1 2h1m-1 1h1m9 3h1m-2 1h1m1 0h1m-2 1h1m5 2h1m1 0h1m-2 1h2m-1 1h1m-6 1h1m4 0h1m-5 1h1m-2 1h4"/>
<path stroke="#fe5737" d="M1 0h1M4 0h1M0 1h1M3 2h2M2 3h1M0 4h1M2 4h1M6 5h1M5 6h1m7 5h3m-2 1h1m-4 1h1m2 0h1m-4 1h3m1 0h1m-5 1h1m2 0h1m11 3h2m2 0h1M21 19h1m2 0h3m2 0h1m-6 1h2m1 0h1m1 0h2M19 21h1m5 0h1m4 0h1m-6 1h2m1 0h1m2 0h1M19 24h2m6 0h1m1 0h1m1 0h1M19 25h4m4 0h1m1 0h1m1 0h1M18 26h2m2 0h1m5 0h2m1 0h1M18 27h1m1 0h1m3 0h2m5 0h1M22 28h1m3 0h1m3 0h1M19 29h2m3 0h3m-9 1h1m1 0h2m6 0h1m-7 1h1m1 0h4m6 2h1m-2 1h1m1 0h1m-2 1h1m5 4h1m-2 1h1m5 4h2m-3 1h1m-1 1h1m9 7h1m-2 1h1m6 1h1m-3 2h1m-2 1h1m2 0h1m-6 2h1m2 0h1m6 4h2m3 0h1m1 0h1m-9 1h1m4 0h1m1 0h1m-8 1h1m3 0h2m1 0h1m-2 1h1m-5 1h1m2 0h4m-8 1h2m1 0h1m2 0h2m-9 1h1m2 0h2m4 0h1m-9 1h2m1 0h2m3 0h1M64 72h1m3 0h2m0 1h2M85 84h1m-2 1h1m21 17h1m2 0h1m-4 1h1m1 0h1m-3 1h1m1 0h1m-2 1h2m-7 1h3m3 0h1m-4 1h1m-3 1h4m-5 1h1m13 6h1m2 0h1m-5 1h1m1 0h1m-2 1h1m1 0h2m-3 1h1m-3 1h1m1 0h1m6 4h2m1 0h1m-5 1h1m3 0h1m-5 1h1m3 0h1m-5 2h3"/>
<path stroke="#fd4c31" d="M2 1h1M1 2h1M4 3h1M3 4h1M5 4h1M4 5h1m10 7h1m-4 3h1m7 3h3m7 1h1M18 20h1m-1 1h1m-1 1h1m5 0h1m2 0h1m1 0h1m-8 2h1m2 0h2m3 0h1m-7 1h1m5 0h1m-7 1h1m5 0h1m-9 1h1m5 0h3m-4 1h1m1 0h1m-8 1h1m4 0h2M19 30h1m4 0h4M56 55h1m-2 1h1m1 0h4m-5 1h1m-1 1h1m2 0h1m-4 1h1m1 0h1m1 0h1m-5 1h1m2 0h1m6 5h1m5 0h1m-8 1h1m1 0h1m2 0h1m1 0h2m-8 1h1m1 0h1m2 0h2m-6 1h1m-2 2h1m0 1h1m-3 1h3m-2 1h1M84 83h1m-2 1h1m19 18h1m-2 1h1m1 0h2m3 0h1m-7 1h1m1 0h1m1 0h1m1 0h1m-7 1h2m1 0h1m2 0h1m-5 1h1m1 0h1m1 0h1m-6 1h1m1 0h1m1 0h2m-3 1h1m1 0h1m-7 1h6m8 6h1m-3 2h1m3 1h1m-2 1h1m1 0h1m-2 1h1m6 3h1m-2 1h2m-3 1h1m-2 1h2"/>
<path stroke="#fc422a" d="M12 11h1m-2 1h1m1 0h1m-2 1h1m6 5h1m-2 1h1m1 0h1m1 0h1m-4 1h1m1 0h2m-3 1h1m1 0h1m-4 1h3m8 0h1m-5 3h1m-2 1h1m1 0h1m-2 1h1m3 2h1m-9 1h1m6 0h1m1 0h1m-2 1h1M70 69h1m-2 1h1m1 0h2m-3 1h1m1 0h1m-3 1h2m1 0h1m-2 1h1m34 30h1m-5 4h1m22 18h1m-2 1h1m1 0h1m-2 1h1"/>
<path stroke="#fa2d1e" d="M0 0h1M1 1h1M2 2h1M3 3h1M4 4h1M5 5h1M6 6h1M7 7h1M8 8h1M9 9h1m0 1h1m0 1h1m0 1h1m0 1h1m0 1h1m0 1h1m0 1h1m0 1h1m0 1h1m0 1h1m0 1h1m0 1h1m0 1h1m0 1h1m0 1h1m0 1h1m0 1h1m0 1h1m0 1h1m0 1h1m0 1h1m0 1h1m0 1h1m0 1h1m0 1h1m0 1h1m0 1h1m0 1h1m0 1h1m0 1h1m0 1h1m0 1h1m0 1h1m0 1h1m0 1h1m0 1h1m0 1h1m0 1h1m0 1h1m0 1h1m0 1h1m0 1h1m0 1h1m0 1h1m0 1h1m0 1h1m0 1h1m0 1h1m0 1h1m0 1h1m0 1h1m0 1h1m0 1h1m0 1h1m0 1h1m0 1h1m0 1h1m0 1h1m0 1h1m0 1h1m0 1h1m0 1h1m0 1h1m0 1h1m0 1h1m0 1h1m0 1h1m0 1h1m0 1h1m0 1h1m0 1h1m0 1h1m0 1h1m0 1h1m0 1h1m0 1h1m0 1h1m0 1h1m0 1h1m0 1h1m0 1h1m0 1h1m0 1h1m0 1h1m0 1h1m0 1h1m0 1h1m0 1h1m0 1h1m0 1h1m0 1h1m0 1h1m0 1h1m0 1h1m0 1h1m0 1h1m0 1h1m0 1h1m0 1h1m0 1h1m0 1h1m0 1h1m0 1h1m0 1h1m0 1h1m0 1h1m0 1h1m0 1h1m0 1h1m0 1h1m0 1h1m0 1h1m0 1h1m0 1h1m0 1h1m0 1h1m0 1h1m0 1h1m0 1h1m0 1h1"/>
</g></g>
<g fill="none" stroke="#000" stroke-width="2.4" stroke-linejoin="miter">
<path d="M1339.2 74.3V36.9H1609.5V44.3"/>
<path d="M1472.1 59.8V44.3H1747.2V55.1"/>
<path d="M1395.3 84.0V59.8H1549.3V68.0"/>
<path d="M1517.5 80.9V68.0H1580.9V76.2"/>
<path d="M1565.0 84.0V76.2H1596.6V84.0"/>
<path d="M1499.5 84.0V80.9H1535.8V84.0"/>
<path d="M1323.5 84.0V74.3H1355.1V80.4"/>
<path d="M1348.5 84.0V80.4H1361.4V84.0"/>
<path d="M1659.8 64.9V55.1H1833.8V61.0"/>
<path d="M1635.9 84.0V64.9H1685.0V68.0"/>
<path d="M1659.1 84.0V68.0H1709.8V73.4"/>
<path d="M1679.8 82.0V73.4H1739.5V80.9"/>
<path d="M1763.6 76.6V61.0H1902.9V65.6"/>
<path d="M1754.3 84.0V76.6H1778.1V84.0"/>
<path d="M1831.5 70.3V65.6H1973.1V69.2"/>
<path d="M1801.8 76.2V70.3H1861.9V73.4"/>
<path d="M1790.5 84.0V76.2H1813.9V80.9"/>
<path d="M1844.4 80.9V73.4H1879.0V79.7"/>
<path d="M1933.3 84.0V69.2H2012.9V70.3"/>
<path d="M1986.0 84.0V70.3H2039.8V82.0"/>
<path d="M1808.0 84.0V80.9H1820.0V84.0"/>
<path d="M1838.0 84.0V80.9H1851.0V84.0"/>
<path d="M1873.0 84.0V79.7H1886.0V84.0"/>
<path d="M1734.0 84.0V80.9H1745.0V84.0"/>
<path d="M1311.0 84.0V80.5H1336.0V84.0"/>
<path d="M1304.0 84.0H1364.9"/>
<path d="M1368.4 84.0H1486.6"/>
<path d="M1490.1 84.0H1555.7"/>
<path d="M1559.2 84.0H1620.0"/>
<path d="M1623.5 84.0H1654.0"/>
<path d="M1662.0 84.0H1729.7"/>
<path d="M1733.2 84.0H1746.1"/>
<path d="M1750.7 84.0H1781.2"/>
<path d="M1784.7 84.0H1826.8"/>
<path d="M1831.5 84.0H1868.9"/>
<path d="M1873.6 84.0H1891.2"/>
<path d="M1895.9 84.0H1967.2"/>
<path d="M1970.8 84.0H2014.1"/>
<path d="M2018.7 84.0H2055.0"/>
</g>
<text transform="translate(2071.2 314.4) scale(1 1.03)" font-size="45.4">Correlation</text>
<defs><linearGradient id="gc" x1="0" y1="1" x2="0" y2="0">
<stop offset="0.0" stop-color="#1e73b9"/>
<stop offset="0.07" stop-color="#3c8cc3"/>
<stop offset="0.14" stop-color="#69acd2"/>
<stop offset="0.24" stop-color="#a5d2e6"/>
<stop offset="0.3" stop-color="#c3e4f0"/>
<stop offset="0.34" stop-color="#d7eef3"/>
<stop offset="0.4" stop-color="#e4f3e4"/>
<stop offset="0.45" stop-color="#f2facd"/>
<stop offset="0.5" stop-color="#fdfdbe"/>
<stop offset="0.6" stop-color="#fee89b"/>
<stop offset="0.7" stop-color="#fec87d"/>
<stop offset="0.8" stop-color="#fd965f"/>
<stop offset="0.9" stop-color="#ff5f3c"/>
<stop offset="1.0" stop-color="#fa2d1e"/>
</linearGradient></defs>
<rect x="2141.6" y="333.8" width="31.1" height="468.9" fill="url(#gc)"/>
<text transform="translate(2196.6 364.7) scale(1 1.03)" font-size="45.2">High</text>
<text transform="translate(2196.6 802.4) scale(1 1.03)" font-size="45.2">Low</text>
<text transform="translate(32.4 993.4) scale(1 1.03)" font-size="53">(C)</text>
<g shape-rendering="crispEdges">
<rect x="86.2" y="1021.9" width="58.57" height="38.7" fill="#ee0000"/>
<rect x="144.77" y="1021.9" width="58.57" height="38.7" fill="#bf1ff5"/>
<rect x="203.34" y="1021.9" width="64.43" height="38.7" fill="#004c8f"/>
<rect x="267.76" y="1021.9" width="105.42" height="38.7" fill="#48ee8c"/>
<rect x="373.19" y="1021.9" width="41" height="38.7" fill="#008b8b"/>
<rect x="414.19" y="1021.9" width="58.57" height="38.7" fill="#9fe2e6"/>
<rect x="472.76" y="1021.9" width="70.28" height="38.7" fill="#ff69b4"/>
<rect x="543.04" y="1021.9" width="58.57" height="38.7" fill="#cd2f62"/>
<rect x="601.61" y="1021.9" width="46.86" height="38.7" fill="#008b00"/>
<rect x="648.46" y="1021.9" width="76.14" height="38.7" fill="#ff7f50"/>
<rect x="724.6" y="1021.9" width="123" height="38.7" fill="#ffc300"/>
</g>
<text transform="translate(860.3 1060.6) scale(1 1.03)" font-size="45">Tissue</text>
<g shape-rendering="crispEdges">
<rect x="86.2" y="1070.3" width="761.4" height="379.4" fill="#c8c8d3"/>
<g transform="translate(86.2 1071.5647) scale(5.8569 2.5293)" fill="none" stroke-width="1">
<path stroke="#c1c1d2" d="M21 4h10M49 4h7M66 4h43M49 8h17M88 8h18m2 0h1M88 18h8m-8 1h8m-8 1h8M66 21h12M66 22h22m8 0h13M66 23h12M20 39h11M21 40h10M20 41h11m0 16h18m7 0h10m30 0h13M31 59h18m7 0h10m30 0h13M66 84h12M66 85h12M66 86h12M31 100h18m-18 1h18m7 8h22m10 0h21M0 142h31m5 0h2m1 0h1m1 0h1m2 0h1m1 0h1m31 0h10M0 143h31m3 0h2m1 0h1m2 0h1m5 0h2m30 0h10"/>
<path stroke="#c5c5d3" d="M88 3h21M0 4h20M31 4h18m7 0h10M0 5h10M20 5h36M66 5h43M0 6h31M49 6h17M88 6h21M0 7h20m2 0h9M49 7h17M88 7h21M0 8h49M66 8h22M0 10h10m68 0h10M0 18h10m10 0h58m18 0h13M0 19h78m18 0h13M0 20h10m10 0h58m18 0h13M0 21h10m46 0h10m12 0h31M0 22h10m21 0h35m22 0h8M0 23h10m46 0h10m12 0h31M10 24h10m11 0h18m7 0h22M10 25h10M10 26h10m46 0h12M66 30h11m1 0h10m8 0h13M66 31h22m8 0h13M66 32h22m8 0h13M0 33h10m56 0h12M0 34h10m46 0h22M0 35h10m56 0h12m0 1h10M78 37h10M78 38h10M0 39h20m29 0h17m12 0h31M0 40h19m30 0h17m12 0h31M0 41h20m29 0h17m12 0h31M0 42h109M0 43h31m18 0h60M10 44h21m18 0h29M0 48h10m10 0h29m17 0h12m18 0h13M0 49h10m10 0h29m17 0h12M0 50h10m10 0h19m2 0h8m17 0h12M0 54h10m56 0h12M0 55h10m10 0h58m10 0h21M0 56h10m10 0h58m10 0h21M10 57h21m18 0h7m10 0h30M31 58h18m7 0h10m12 0h31M10 59h21m18 0h7m10 0h30M0 66h10m10 0h29m7 0h22m10 0h15m1 0h5M0 67h49m7 0h53M0 68h10m10 0h29m7 0h22m10 0h21M78 69h10M78 70h10m8 0h13M78 71h10M0 81h6m2 0h2m10 0h11m18 0h7m10 0h3m1 0h8m18 0h13M0 82h10m10 0h11m18 0h7m10 0h12m18 0h13M49 83h7m10 0h12M0 84h66m12 0h31M0 85h66m12 0h31M0 86h57m1 0h8m12 0h31M0 91h10m86 0h13M78 93h10M78 94h10M0 95h10m10 0h29m7 0h32m8 0h13M49 96h7m-7 1h7M31 99h18m-39 1h10m68 0h8m-86 1h10m68 0h8m-86 1h10m29 0h17m12 0h31m-99 2h10m29 0h7m22 0h31m-99 1h21m18 0h7m-36 1h11m-21 1h21m18 0h7M0 108h10m21 0h18m7 0h53M0 109h35m2 0h19m22 0h10M0 110h10m21 0h18m7 0h53m-60 1h7m22 0h18m-47 1h7m22 0h18m-47 1h7m22 0h18M0 114h88m8 0h12M0 115h88m8 0h13M0 116h88m8 0h13m-99 1h39m47 0h13m-13 1h13m-13 1h13m-89 1h11m18 0h7m32 0h8m-76 1h11m18 0h7m32 0h8m-76 1h11m18 0h7m32 0h8m-76 1h11m35 0h12m10 0h8m-76 1h11m35 0h12m-58 1h11m35 0h12m10 1h8m-8 1h8m-8 1h8m-40 1h10m-10 1h10m-10 1h10M0 132h96M0 133h20m11 0h47M0 134h20m11 0h47M0 138h10m10 0h36m10 0h12m-58 1h11m35 0h12M0 140h10m10 0h12m3 0h1m1 0h1m3 0h1m1 0h1m1 0h1m2 0h8m10 0h12m-68 1h22m2 0h3m1 0h2m1 0h2m1 0h2m1 0h1m1 1h29m10 0h21m-60 1h29m10 0h21m-53 1h10m-10 2h10m-46 1h11m-11 1h11m47 0h10m-68 1h11"/>
<path stroke="#ccccd3" d="M66 1h12M20 9h36M66 9h12M88 9h21M31 10h18M20 11h36m10 0h12m10 0h8M31 12h18m29 0h18M31 13h18m29 0h18M31 14h18m29 0h18M0 15h20m11 0h15m1 0h2m29 0h10M10 16h10M0 17h20m11 0h18m29 0h10M20 25h11m18 0h7M10 27h10m11 0h18m17 0h30M66 28h22M10 29h10m11 0h18m17 0h30M31 36h18m7 0h22m10 0h4m1 0h3M31 37h18m7 0h22m10 0h8M31 38h18m7 0h22m10 0h8M0 45h10m10 0h11m18 0h7m22 0h31M0 46h10m10 0h11m18 0h7m22 0h31M0 47h10m39 0h7m10 0h22m8 0h13M0 51h20m11 0h47m10 0h8M49 52h29M0 53h20m11 0h47m10 0h8M10 60h10m11 3h18m7 0h22m18 0h13M0 64h27m2 0h2m18 0h7m22 0h18M56 65h22m18 0h13M10 69h10m11 0h18M10 70h10M10 71h10m11 0h18M10 72h39m47 0h13M10 73h39m47 0h13M10 74h39m47 0h13M0 75h20m11 0h25m10 0h43M0 76h20m11 0h25m10 0h9m1 0h33M0 77h20m11 0h25m10 0h43M20 78h11M20 79h11M20 80h11m0 3h1m1 0h1m1 0h14m29 0h10M0 87h20m11 0h10m1 0h2m1 0h1m1 0h1m1 0h7M0 88h13m1 0h6m11 0h6m1 0h1m2 0h2m2 0h1m1 0h1m1 0h7M0 89h20m11 0h6m1 0h1m4 0h1m1 0h1m3 0h5m-5 1h7m10 0h22M78 92h10M10 93h6m1 0h3m29 0h7m32 0h8M10 94h10m29 0h7m32 0h8M56 96h10m12 0h10M56 98h10m12 0h18M0 99h10m10 0h11m18 0h39m8 0h13M0 103h10M0 106h10m46 14h10m30 0h13m-53 1h10m30 0h13m-13 1h13m-53 1h10m-56 1h10m11 0h18m7 0h10m-56 1h10m11 0h18m7 0h10m-10 1h10m-10 1h22m-22 1h10m-17 1h7m-25 1h25m-25 1h25m-46 4h10m11 0h18m39 0h8m-86 1h10m11 0h18m39 0h8m-86 1h10m11 0h18m39 0h8m-40 2h10M0 144h10m39 0h7m40 0h13M0 145h20m11 0h2m2 0h2m2 0h3m7 0h7m10 0h12m18 0h13M0 146h10m39 0h7m40 0h13"/>
<path stroke="#cfcfd3" d="M20 15h11m18 0h29m10 0h21M0 16h10m10 0h89M20 17h11m18 0h29m10 0h21M0 27h10m10 0h11m18 0h17m30 0h13M0 28h37m1 0h28m22 0h21M0 29h10m10 0h11m18 0h17m30 0h13M10 45h10m11 0h4m1 0h13m7 0h22M10 46h10m11 0h18m7 0h22M10 47h10m11 0h18m7 0h10M20 51h11m47 0h10m8 0h13M0 52h19m2 0h28m29 0h31M20 53h11m47 0h10m8 0h13M31 64h18m7 0h22m18 0h13m18 3h1m-1 1h1m-18 2h1m-1 1h1M0 72h10m39 0h47M0 73h10m39 0h47M0 74h10m39 0h47M20 75h11m25 0h10M20 76h11m25 0h10M20 77h11m25 0h10M20 87h11m25 0h53M20 88h11m25 0h53M20 89h11m25 0h54m3 0h1m-1 1h1m-5 1h1m1 0h2m5 0h1m-10 1h1m1 0h3m-4 33h1m2 0h1m-5 1h1m4 0h1m9 5h2m-4 12h1m2 0h1m-17 1h1m2 0h1m-1 1h2m10 0h1m-16 1h1m2 0h1m11 0h1m-16 1h1m3 0h2m10 0h1m-17 1h1m4 0h2m1 0h1m5 0h1m1 0h1m2 0h1m-20 1h1m4 0h1m10 0h1"/>
<path stroke="#d3d3d3" d="M111 72h1m13 0h1m-5 11h1m-11 7h2m5 0h1m-2 1h1m-1 1h1m3 2h1m-12 13h1m10 13h1m-7 5h1m5 0h1m-5 1h1m9 2h1m-18 1h1m14 1h1m-16 1h1m16 0h1m-18 2h1m10 1h1m-1 4h1m-1 2h1m-9 4h1m-5 1h1m1 0h1m5 1h1m10 0h1m-14 1h1m5 0h1m6 0h1m-3 1h1m1 1h1"/>
<path stroke="#d4cfcf" d="M109 0h1m3 0h1m4 0h1m-3 1h2m3 0h1m-5 2h1m-7 1h1m12 0h1m2 1h1m1 1h1m-5 1h1m-17 3h1m12 7h1m-12 1h1m0 1h1m6 1h1m1 0h1m3 2h1m-5 3h1m-12 1h1m3 0h1m4 1h1m1 0h1m-1 1h1m2 0h1m-5 1h2m-1 3h1m-1 1h1m-9 1h1m7 0h1m6 0h1m-8 4h1m-11 2h1m1 3h1m-3 2h1m2 2h1m-5 1h1m10 0h1m0 3h1m6 0h1m-20 1h1m1 1h1m1 1h1m-3 1h1m1 0h1m-5 1h1m15 0h1m-17 1h1m13 0h1m-6 1h1m-7 2h1m-1 1h1m4 2h1m4 1h1m-14 1h1m15 1h1m-1 3h1m-14 3h1m3 0h1m3 0h1m-9 1h1m3 2h1m4 0h1M34 78h1m79 1h1m9 0h1m-10 5h1m5 0h1m-6 2h2m3 0h1m-13 1h1m11 1h1m-11 1h1m7 0h1m5 0h1m-9 1h1m1 0h1m7 0h1m-13 1h1m9 0h1m3 0h1m-9 1h1m-1 1h1m-11 2h1m6 0h1m2 0h1m-1 1h1m-1 1h1m5 0h1m-7 2h1m-11 1h1m5 0h1m3 0h1m-8 1h1m7 0h1m-13 4h1m10 0h1m1 0h1m-14 1h1m10 1h1m2 0h1m-4 1h1m-1 1h1m-1 2h1m-9 1h1m7 0h1m-1 1h1m1 0h1m3 2h1m-7 2h1m-4 1h1m2 0h1m1 2h1m-3 1h1m-7 1h1m5 0h1m6 1h1m-8 1h1m1 0h1m-11 2h1m1 0h1m11 0h1m-13 1h1m11 0h1m-7 1h1m-1 1h1m3 0h1m-5 1h1m-5 1h1m-8 1h1m6 0h1m1 0h1m1 0h1m-4 1h1m-8 1h1m9 1h1m-7 1h1m5 0h1m-7 1h1m5 0h1m5 1h1m-2 2h1m-84 1h1m79 0h1m-3 1h1m-13 1h1m6 0h1m4 0h1m5 0h1m-17 1h1m9 0h1m-5 1h1m3 0h1m6 0h1m-18 1h1m1 0h1m13 0h1m1 0h1m-18 1h1m4 0h1m5 0h1m-12 1h1m9 0h1m4 0h1m-1 1h1"/>
<path stroke="#d4cccc" d="M121 19h1m-1 2h1M21 22h1m99 0h1m-1 1h1m-1 3h1m-1 4h1m-1 1h1m-1 5h1m-1 1h1m0 33h1m3 1h1m-16 3h1m1 0h1m-2 4h1m8 0h1m-12 4h1m10 3h1m-12 1h1m18 0h1m-9 1h1M39 89h1m81 0h1m-1 1h1m3 0h1m-12 1h1m6 0h1m5 0h1m-18 1h1m7 0h2m2 0h1m4 0h1m1 0h1m-20 5h1m2 0h1m7 4h1m-1 1h1m-1 1h1m-13 3h1m11 0h1m-1 4h1m-1 4h1m-1 1h1m-11 3h1m9 1h1m-10 3h1m8 1h1m-13 2h1m2 0h1m10 0h1m-3 1h1m-1 1h1m-1 4h1m-1 2h1m-13 3h1m2 1h1m0 2h1m7 0h1m5 0h1m-6 2h1m2 0h1m-16 2h3m4 0h1m1 0h1m6 0h1m-10 1h1m2 0h1m1 0h2m4 0h1m-19 1h1m11 0h2m-8 1h1m4 0h1m5 1h1m-7 1h1m-10 1h1m4 0h1m3 0h1"/>
<path stroke="#d5c8c8" d="M121 24h1M40 50h1m71 18h1m2 0h1m6 1h1m2 1h1m-4 1h1m-6 2h1m-1 1h1m7 0h1m-16 1h1m6 2h1m-7 1h1m17 0h1m-17 1h1m-3 1h1m2 2h1m3 0h1m8 0h1m-1 1h1m-11 1h1m-6 2h1m-4 2h1M40 89h1m76 0h2m4 0h1m-15 1h1m19 0h1m-8 1h1m-8 1h1m9 0h2m-16 1h1m1 3h1m-2 1h1m8 1h1m2 1h1m-16 3h1m-1 3h1m-1 2h1m1 0h1m-3 7h1m2 0h1m-1 1h1m8 1h1m-12 2h1m3 7h1m2 0h1m7 0h1m-12 3h2m1 0h1m-1 1h1m-5 1h1m3 0h1m6 0h1m-18 3h1m3 0h1m-2 1h1m7 0h1m-7 1h1m1 2h1m10 3h1m-5 1h1m-75 1h1m70 1h1m-87 1h1m86 0h1m7 0h1m-91 1h1m78 0h1m1 0h2m6 0h2m1 0h1m-7 1h1m-2 1h1m-13 1h1m8 0h1"/>
<path stroke="#d5c5c5" d="M117 5h1m-1 1h1M46 15h1m72 1h1M38 33h1M28 64h1m81 2h1m16 0h1m-18 2h1m15 0h1m-17 1h1m3 0h1m1 0h1m-6 1h3m2 0h1m-1 1h1m7 0h2m-17 2h1m1 0h1m16 2h1m-19 1h1m6 0h1m-5 2h1m-5 1h1m2 0h1m0 1h1M7 81h1m109 1h1m5 0h1m1 0h1m-2 1h1m-8 2h1m-9 1h1m15 0h1M43 88h1m69 0h1m3 0h2m5 1h1m2 0h1m-13 1h1m4 0h1m-11 1h1m8 0h1m6 0h1m-7 1h1m3 0h1m3 0h1m-17 4h1m0 2h1m-2 1h2m-4 3h1m2 0h1m2 0h1m-7 1h1m0 2h1m-1 1h1m-3 3h1m3 1h1m-5 2h1m3 2h1m-4 5h1m-2 2h1m3 0h1m-2 2h1m6 2h1m-9 1h1m11 0h3m0 1h1m-18 1h1m14 1h1m1 0h1m-17 1h1m5 0h1m9 1h1m1 0h1m-18 1h1m6 0h1m6 1h1m-17 1h1m15 0h1m-17 1h1m5 0h1m-2 1h1m5 0h1m-12 1h1m1 0h1m6 0h1m5 0h1m-12 1h1m1 0h1m-7 1h1m14 0h1m-16 1h1m3 0h1m9 0h1m-91 2h1m88 0h1m2 0h1m-78 1h1m64 0h1m15 0h1m-20 1h1m4 0h1m-72 1h1m80 0h1m-87 1h1m70 0h1m8 0h2m1 0h1m-13 1h1m8 0h1m6 0h1m-16 2h1m3 0h1m7 0h1m2 0h1"/>
<path stroke="#d6c1c1" d="M80 0h1m36 4h1m-1 3h1m-1 1h1m9 4h1m-3 9h1M20 22h1M92 36h1m31 4h1m-3 8h1M39 50h1m87 2h1m-2 1h1m0 5h1m-3 1h1m-13 6h1m-4 2h1m15 0h1m-2 1h1m-13 1h1m10 0h1m-16 1h1m4 0h1m12 0h1M21 71h1m89 0h1m1 0h1m13 0h1m-19 1h1m2 0h1m-4 3h1m3 0h1M75 76h1m33 2h1m18 0h1m-14 1h1m12 0h2m-9 1h1m-12 1h1m0 1h3m2 0h1m12 3h1m-11 1h1m3 0h1m-11 1h1M13 88h1m109 0h3m1 0h1m-18 1h1m3 0h1m13 0h1m-13 1h1m5 0h1m3 0h1m-7 1h1m-5 1h1m6 0h1m1 1h1m-15 1h1m1 0h1m-1 1h1m8 2h1m-9 2h1m-2 1h1m-1 1h1m-3 1h1m15 0h1m-15 1h1m-1 6h1m-5 1h1m3 3h1m-5 9h1m3 0h1m-4 1h1m7 2h1m1 0h1m-3 1h1m3 0h1m-9 1h1m3 0h1m5 0h1m1 1h1m-15 3h3m-2 1h1m1 0h1m4 0h1m-15 1h1m8 0h1m4 0h1m-8 1h1m13 0h1m-14 1h1m-3 1h1m11 0h1m2 0h1m-5 2h1m-9 1h2m-1 1h1m10 0h1m-82 1h1m62 0h1m3 0h1m5 0h1m-11 1h1m7 0h1m10 1h1m-11 1h1m7 0h1m-7 1h1m4 1h2m-11 1h1m-1 1h1m3 0h1m-11 1h1"/>
<path stroke="#d6bebe" d="M123 1h1m-1 1h1M109 12h1m12 2h1m-13 2h1m8 1h1M109 27h1m17 0h1M37 33h1m91 4h1m-18 3h1m11 1h1m2 4h1m-1 1h1m-2 5h1m-1 1h1M10 54h1m114 1h1m-3 1h1m3 1h1m-1 2h1m-15 4h1M27 64h1m16 1h1m77 0h1m2 0h1m-11 1h1m-4 1h1m-4 1h1m3 0h1m5 0h2m6 1h1m1 0h1m-4 1h1m-15 1h1m4 0h1m-6 2h1m11 0h1m-9 1h1m6 0h1m0 1h1m-12 1h1m-4 2h1m4 0h2m8 0h1m-15 1h1m5 0h1m-9 1h1m2 0h1m16 0h1M6 81h1m117 0h1m-10 1h1m4 0h1m3 0h1m-15 1h1m6 0h1m-6 1h1m16 0h1m-18 1h1m1 1h1m3 0h1m5 0h1m2 0h1m-18 1h1m7 0h1m6 0h1M39 88h1m70 0h1M41 89h1m2 0h1m65 1h1m12 0h1m4 1h1M16 93h1m92 0h1m2 5h1m11 3h1m-13 1h1m2 0h1m-4 4h1m1 0h1m12 1h1m-15 1h1m-78 1h1m73 0h1m17 0h1m-19 1h1m17 0h1m-17 2h1m-4 1h1m1 1h1m-1 1h1m1 0h1m-2 1h1m-1 1h1m-1 1h1m1 0h1m8 0h1m-12 1h1m-4 1h1m2 0h1m-1 1h1m11 1h1m-11 1h1m-6 1h1m1 1h1m4 0h1m7 0h1m2 0h3m-20 1h1m11 1h1m2 0h1m-8 1h1m5 0h1m-16 1h1m2 0h1m3 0h1m5 0h1m-7 2h1m2 0h1m2 1h1m2 0h3m-16 1h1m14 0h1m-16 1h1m3 2h1m2 0h1m2 0h1m3 0h1m1 0h1m-4 1h2m1 1h1m-18 1h1m-76 1h1m74 0h1m12 0h1m2 1h1m-94 1h1m77 0h2m5 0h1m-6 1h1m5 0h1m3 0h1m0 1h1m-11 2h1m2 1h1m10 1h1m-11 1h1m2 0h1"/>
<path stroke="#d7baba" d="M115 2h1m9 0h1m-1 2h1m2 0h1m-5 1h1m-1 1h1m-16 8h1m15 0h1m1 0h1m-9 1h1m-10 6h1m8 0h1m4 0h1m-15 6h1m7 0h1m-9 3h1m16 3h1m-11 2h1m6 2h1M20 40h1m105 1h1m-4 1h1m-1 1h1m-15 3h1m-1 1h1m9 0h1m4 5h1m3 0h1m-4 2h1m1 0h1m-5 1h1m-12 1h1m12 1h1m0 2h1m-11 6h1m11 0h1m-14 2h1m5 0h1m1 1h1m-15 1h1m1 0h1m3 0h1m1 0h1m6 1h1M20 71h1m100 0h1m7 0h1m-12 1h1m4 0h1m3 0h1m-10 1h1m2 0h1m1 0h1m-13 2h1m13 0h1m-17 1h1m13 0h2m3 0h1m-19 1h1m1 0h2M50 78h1m66 0h1m5 0h1m3 0h1M31 79h1m89 0h1M35 80h1m74 0h1m4 0h2m1 1h1m6 0h1m1 0h1M33 82h1m95 0h1m-16 1h1m1 0h1m1 0h1m6 0h1m-17 1h2m2 0h1m11 0h1m-15 2h1m1 0h1m8 0h1m-6 1h1m6 0h1m-14 1h1m4 0h1M37 89h1m9 0h2m6 0h1m56 0h1m3 0h1m-1 2h1m6 0h2m-13 2h1m-4 1h1m15 0h1m-17 1h2m6 0h1m7 0h1m-17 2h1m1 0h1m-2 1h2m11 0h1m-7 1h1m-88 1h1m78 0h1m4 0h1m9 2h1m1 0h1m2 0h1m-21 1h1m2 0h1m14 0h1m-16 2h1m1 0h1m-2 1h1m15 0h1m-16 1h1m-6 1h2m3 0h1m2 0h1m10 0h1m-3 1h1m-13 1h1m-6 1h1m3 0h1m1 2h1m12 1h1m-20 1h2m0 2h1m1 0h1m-77 1h1m75 0h1m10 3h1m-16 2h1m3 0h1m-4 1h1m2 0h1m8 1h1m3 0h1M26 126h1m99 0h1m-15 1h2m-1 1h1m6 0h1m4 0h1m-13 1h1m5 0h1m2 1h1m-11 2h1m3 0h1m6 0h1m-11 1h1m5 0h1m6 0h1m-12 1h2m3 0h1m1 0h1m0 1h1m2 0h1m1 0h1m-19 1h1m14 0h1M5 137h1m114 0h1m6 0h3m-21 1h1m1 0h2m6 0h1m5 0h2m-17 1h1m6 0h1m1 0h1m6 0h1m1 0h1m-12 1h1m10 0h1m-92 1h1m78 0h1m-69 1h1m78 0h1m-89 1h1m83 0h1m-8 1h1m12 0h1m-15 1h1m-76 1h1m77 2h1"/>
<path stroke="#d8b7b7" d="M116 3h1m7 0h1m3 0h1M119 5h1m6 0h1M115 6h1m8 2h1M113 9h1M68 10h1m49 0h1m-7 2h1m-4 1h1m7 1h1m-9 2h1m16 0h1m-2 1h2m-12 4h1m7 0h1m2 0h1m-17 1h1m13 1h1m3 1h1m-2 2h1m-11 1h1M77 30h1m46 0h1M89 31h1m36 0h1m-1 1h1m-9 5h1m6 0h1m-2 2h1m-16 1h1m-1 1h1m15 0h1m-11 1h1m3 4h1m7 1h1m-19 1h1m14 0h1m3 3h1m-10 1h1m7 1h1m-5 1h1m3 1h1m-15 1h1m-5 9h1m7 0h2m-1 1h1m2 0h1m1 0h1m1 0h1m2 0h1m-16 1h1m6 0h1m4 0h1m3 0h1m-13 1h1m3 0h1m6 0h2m-10 2h1m7 0h1m-20 1h1m4 1h3m-2 1h2m5 0h1m5 0h1m-20 1h1m4 0h1m6 0h1m5 0h1m-10 1h1m8 0h1m-17 1h1m4 0h1m-8 1h1m1 0h1m11 0h1m3 0h2m-15 1h1m7 0h1m-13 1h1m16 0h1m-3 1h1m1 0h1m-15 1h1m3 0h1m3 1h2m5 0h1m-18 1h1m1 0h1m4 1h1m5 0h1m-16 1h1m14 0h2m0 1h1m1 0h1m-18 1h1m17 1h1m-15 1h1m6 0h1m3 0h1m2 0h1M30 90h1m97 0h1m-19 3h1m2 0h1m3 0h1m4 0h1m-13 1h1m1 0h1m9 0h1m4 0h1m-16 1h1m6 1h1m-1 1h1m9 0h1m-21 2h1m1 0h1m13 0h1m-1 1h1m-12 2h1m2 0h1m-91 2h1m95 0h1m3 0h1m-3 1h1m-1 1h1m-13 1h1m15 0h1m-95 2h1m76 0h1m-1 1h1m4 0h1m9 0h1m-2 1h1m-16 1h1m3 0h1m-5 1h1m-2 1h1m3 0h1m-5 2h1m-1 1h1m3 0h1m-6 1h1m5 0h1m13 0h1m-16 1h1m-2 1h1m2 0h1m5 1h1m-9 1h1m4 0h1m3 1h1m-9 1h1m-4 2h1m3 0h1m-7 1h2m4 0h1m3 0h1m2 0h1m-13 1h1m4 0h1m2 0h1m8 1h1m-20 1h1m1 0h2m6 0h1m8 0h1m-20 1h1m10 0h1m2 0h1m-10 1h1m2 1h1m4 0h1m-6 1h1m1 0h1m3 0h1m2 0h1m-9 1h1m-6 1h1m4 0h1m4 0h1m5 0h1m-20 1h1m2 0h1m2 0h1m2 0h1m3 0h1m-8 1h2m6 0h1m-2 1h1m5 1h1m-18 1h1m-3 1h1m7 0h1m-4 1h1m-71 1h1m68 2h1m5 1h1m8 0h1"/>
<path stroke="#d8b3b3" d="M121 0h1m3 1h1m1 0h1M110 2h1m8 1h1m-1 1h1m-4 1h1m3 1h1m6 1h1M107 8h1m7 0h1m11 0h1M111 9h1m5 0h1m3 0h1m6 0h1m-10 3h1m2 0h1m2 0h1m-1 1h1m-16 1h1m6 1h1m8 0h1m-18 2h2m13 0h1m2 0h1m0 2h1m-12 1h1m-6 1h1m4 0h1m9 0h1m-9 1h1m3 1h1m1 0h1m1 1h1m-15 3h1m13 1h1m-3 1h1m-9 5h1m7 0h1m0 1h1m-10 1h1m9 0h1m-12 1h2m6 1h1m4 0h1m-4 1h1m-1 1h1m-15 1h1m9 0h1m4 0h1m-11 1h1m10 0h1m-1 1h1m-16 1h1m-5 1h1m2 0h1m2 0h1m6 0h1m-8 1h1m6 0h1m2 0h2m-5 1h1m-1 2h1m-5 3h1m0 1h1m-8 1h1m3 0h1m-4 1h1m3 0h1m10 0h1m-14 1h1m1 0h1m-1 3h1m6 1h1m2 0h1m-1 2h1m0 1h1m-16 1h1m5 2h2m8 0h1m-16 1h1m3 0h1m4 0h1m-10 1h1m1 0h1m5 0h1m1 0h1m-13 1h1m5 0h1m-2 1h2m4 0h1m5 0h1m-15 1h1m7 0h1m-4 1h1m8 0h1m-16 1h1m4 0h2m6 0h1m1 0h1m-12 1h1m5 0h1m4 0h1m-15 1h2m-5 1h1m1 0h1m11 0h1m-11 1h1m7 0h2M49 78h1m68 0h1m5 0h1m1 0h1m-11 1h1m6 0h1m1 0h1M32 80h1m81 1h1m8 0h1m-9 2h1m-2 1h1m1 0h1m2 0h1m2 0h1m5 0h1m-19 1h1m2 0h1m4 0h1m3 0h1m-1 2h2m3 0h1M37 88h1m2 0h1m74 0h1m10 0h1M42 89h1m77 0h1m-7 1h1m9 0h1m-5 4h1m-6 1h1m6 0h1m4 0h1m-18 1h2m6 0h1m-2 1h2m4 0h2m-3 1h1m-13 1h1m16 0h1m-16 1h1m14 0h1m-19 1h2m6 0h1m7 0h1m-4 1h2m1 0h1m-15 1h1m5 0h1m-8 1h1m2 0h1m15 1h1m-15 1h1m9 1h1m-15 1h2m13 0h1m-16 2h1m-1 1h2m1 1h1m12 0h1m-13 2h2m12 0h1m-14 1h1m-8 1h1m1 0h1m1 0h1m11 1h1m-4 1h1m2 0h2m-16 1h1m1 0h1m8 0h1m3 0h1m-3 1h1m-15 1h2m2 0h1m3 0h1m-1 1h1m4 0h1m1 0h1m1 0h1m-11 1h1m9 0h1m-11 1h1m2 2h1m7 0h1m-19 2h1m11 0h1m0 1h1m-10 1h1m-4 1h1m11 2h1m-11 2h1m2 0h2m6 0h2m1 0h1m-6 2h1m-1 1h1m-11 1h1m9 0h1m-13 1h1m1 0h1m9 0h1m-13 1h2m5 0h2m7 0h1m-3 1h1m1 0h1m2 0h1m-98 1h1m81 1h1m-68 2h1m76 2h1m-9 1h1m1 0h1"/>
<path stroke="#d9b0b0" d="M123 0h1m5 0h1m-1 1h1M109 2h1m19 0h1m-3 1h1M115 4h1m6 0h1m-1 1h1M109 6h1M21 7h1M124 7h1m-9 1h1m9 0h1m-8 1h1m-10 1h1m11 0h1m-6 2h1m4 1h1m4 0h1m-16 1h1m5 0h2m4 0h1m1 0h1m-18 1h1m15 0h1m-11 1h1m1 0h1m6 0h1m-10 2h1m-6 1h1m4 0h5m2 0h1m-14 1h1m5 0h1m2 0h1m8 0h2m-5 2h1m-10 2h1m1 0h1m6 0h1m0 1h1m2 0h1m-12 1h1m7 0h1m2 0h1m-18 1h2m3 0h1m8 0h1m-13 2h1m3 0h2m5 0h1m-9 1h2m8 0h2m-12 1h1m7 0h1m-7 5h1m5 0h2m3 0h1m-3 1h1m-11 1h2m-10 1h1m12 0h1m4 0h1M19 40h1m93 1h1m-1 1h1m7 0h1m-7 1h1m11 0h1m-11 2h1m-1 1h1m5 0h1m-9 1h1m1 0h1m7 0h1m-10 1h1m2 0h1m5 0h1m-2 1h1m-10 1h1m8 0h1m-9 1h1m2 0h1m3 0h2M20 52h1m92 0h2m1 0h1m11 1h1m-20 2h1m5 0h2m2 0h1m4 0h1m0 1h1m-17 1h1m7 0h1m2 0h1m5 0h1m-18 1h1m7 0h1m7 0h1m-17 1h1m18 0h1m-11 1h1m-1 1h1m6 0h1m-17 1h1m14 1h1m-9 1h1m11 0h1m-10 1h1m3 0h1m-12 1h1m4 0h1m-9 1h1m6 0h1m5 0h1m5 0h1m-18 1h1m6 0h1m-4 2h1m3 0h1m1 0h1m-3 1h1m8 0h1m-19 1h1m11 0h1m5 0h1m-3 1h1m-7 1h1m-9 1h1m8 0h1m1 0h1m-9 1h1m3 0h1m2 0h1m2 0h1m-4 1h1m-4 1h2M32 79h1m86 0h1m2 0h1M33 80h1m85 0h1m3 0h1m4 0h1m-13 1h1M16 82h1m92 0h1m10 1h1m2 0h1m3 1h1m-14 1h1m12 0h1M41 87h1m70 0h1m-1 1h1m9 0h1M46 89h1m7 0h1M29 90h1m90 3h1m6 0h1m-11 1h2m7 0h1m-13 1h1m11 0h1m-18 1h1m18 1h1m0 1h1m-20 2h1m13 0h1m2 1h1m-9 1h1m-6 1h1m1 0h1m2 0h1m3 0h1m5 0h1m-21 1h1m1 0h2m1 0h1m1 0h1m10 1h2m-12 2h1m4 0h1m5 0h1m-14 1h1m11 0h1m-12 1h2m7 1h1m-16 2h1m1 1h1m1 0h1m10 0h2m-8 1h1m4 0h1m2 0h1m-14 1h1m2 2h2m-83 1h1m80 0h1m10 0h1m-20 1h1m5 0h2m6 0h1m5 0h1m-20 1h1m7 0h1m7 0h2m-13 1h2m2 0h1m7 0h1m-17 1h1m4 0h2m4 0h1m3 0h1m-2 1h1m-14 1h1m12 0h1m-7 2h1m-1 1h1m8 0h1m-17 1h1m-2 1h1m2 0h1m5 0h1m-1 1h1m2 0h1m-6 1h1m5 1h1m4 0h1m-6 1h1m3 1h2m-20 1h1m8 0h2m-11 3h1m7 1h1m10 0h1m-15 1h1m-2 1h1m9 0h1m3 0h1m-18 1h1m16 0h1m-85 1h1m69 2h1m5 4h1"/>
<path stroke="#d9acac" d="M111 0h1m14 0h1M109 1h1m1 0h1m-1 1h1m4 0h1m10 0h1M111 3h1m3 0h1m2 0h1m3 0h1m2 0h1M116 4h1m-8 1h1m1 0h1m3 0h1m9 0h1m2 0h1M114 6h1m0 1h1m6 0h1m5 0h1M109 8h1m12 0h1m2 0h1M116 9h1m1 0h1m3 0h1m2 0h1m1 0h1m-12 1h1m8 0h1m-15 1h1m5 0h1m4 0h1m-13 1h1m15 0h1m-3 1h1m-2 1h1m-14 1h1m9 1h1m-5 1h2m6 2h1m1 0h2m-4 1h1m-12 1h1m8 0h1m5 0h1m-14 1h1m10 0h1m-17 1h1m16 0h1m-14 1h1m5 0h1m1 0h1m-9 1h1m12 0h1m-4 2h1M37 28h1m78 0h1m-8 1h2m1 0h1m14 0h1m-10 1h1m-9 1h1m16 0h1m-5 1h2m-8 1h1m9 1h1m-3 1h1m-17 1h1m3 0h1m12 0h1m-5 1h1m5 0h1m-4 1h1m-14 1h1m6 0h1m-2 1h1m3 0h1m2 0h1m1 0h1m-18 1h1m4 0h1m5 0h1m-3 1h1m-9 1h1m5 1h1m10 0h1m-10 1h1m3 0h1m-12 2h1m3 0h1m9 0h1m-15 1h2m15 0h1m-14 1h1m-1 1h1m5 0h1m-13 1h1m2 0h1m3 0h1m9 0h1m-17 1h1m9 0h1m-9 1h2m1 0h1m1 1h1m1 0h1m1 0h1m-5 1h1m1 0h1m-5 1h1m1 0h1m-7 1h1m2 0h1m5 0h3m-12 1h1m13 0h1m1 0h1m-17 1h1m7 0h1m2 0h1m-15 1h1m7 0h1m1 0h1m4 1h1m-8 1h2m-9 1h1m6 0h1m7 0h1m-16 1h1m15 1h2m-25 1h1m5 0h1m6 0h1m2 1h1m4 0h1m-6 2h3m1 0h1m4 0h1m-11 2h1m1 0h1m-9 3h1m15 0h1m-11 2h1m2 0h1m-7 1h1m2 0h1m7 0h1m-13 3h1m2 0h1m2 0h1m5 0h1m-16 1h1m10 0h1m3 0h1M34 82h1m77 1h1m9 0h1m5 0h2m-19 1h1m14 0h1m-11 1h1m2 0h1m6 0h1m-11 2h1m2 0h1m9 0h1M46 88h1m67 0h1m4 0h1M91 92h1m26 1h1m5 0h1m-11 1h1m5 1h1m3 0h1m-8 1h1m4 0h1m6 0h1m-16 1h1m5 0h1m-12 1h1m7 0h1m10 0h1m-13 1h1m5 1h1m-5 2h1m1 0h1m5 1h1m-5 3h1m4 0h2m-14 1h1m0 1h1m7 0h1m-11 1h1m7 0h1m1 0h1m-10 1h2m-2 1h1m11 0h1m-2 1h1m2 0h1m-20 1h1m6 0h1m2 0h1m6 0h1m-5 1h1m-9 1h1m4 1h1m3 0h1m3 0h1m-20 1h1m13 0h1m2 0h1m-3 1h1m2 0h1m-11 1h1m7 0h1m-15 1h1m3 0h1m6 0h1m2 0h1m-9 1h1m5 0h1m2 0h1m1 1h1m-18 1h1m2 1h1m8 4h1m-6 1h1m-1 1h1m-4 1h1m13 0h1m-14 2h1m7 1h1m-11 4h1m-68 2h1m66 0h1m-83 1h1m82 0h1m13 0h1m-14 1h1m-79 1h1m3 0h2m-2 1h1m4 0h1m-2 1h1m77 2h1m-1 2h1"/>
<path stroke="#daa9a9" d="M116 0h2m-8 1h1m15 0h1m-1 1h1M20 4h1M60 5h1m62 0h1M110 6h1m5 0h1m2 0h1m1 0h2m2 0h1M20 7h1m93 0h1m-9 1h1m14 0h1M110 9h1m4 0h1m4 0h1m-10 1h3m7 0h1m2 0h1m2 0h1m-19 1h1m3 0h1m2 0h1m1 0h1m1 0h2m2 1h1m4 0h1m-18 1h1m4 0h1m1 0h1m6 0h1m-11 1h1m-3 2h1m1 0h1m11 0h1m-14 1h1m-6 1h1m2 0h1m4 0h1m-10 1h1m3 0h1m11 0h1m-13 1h1m2 0h1m-8 1h1m1 0h1m17 1h1m-4 1h1m-8 1h1m4 1h1m-1 1h1m-11 1h1m7 0h1m5 0h1m-20 1h2m1 0h1m1 0h1m3 0h1m-8 1h1m7 0h1m-8 1h2m5 0h1m5 0h1m-15 1h1m1 0h1m1 0h1m1 0h2m3 0h2m1 0h1m-17 1h1m4 0h1m-6 1h1m16 0h1m-15 1h1m-1 1h1m2 0h1m2 0h1m8 0h2m-13 1h1m11 0h1m-14 1h1m7 0h1m2 0h1m-18 1h1m5 0h1m10 0h1m1 0h1m-16 1h2m6 0h1m-8 1h1m3 1h1m2 2h1m7 0h1m-15 1h1m7 0h1M35 45h1m89 0h1m-10 1h1m4 0h1m6 0h1m-5 1h1m-14 1h1m2 0h2m10 0h1m-12 1h1m-7 1h1m9 0h1m9 0h1m-12 1h1M19 52h1m92 0h1m4 0h1m3 1h1m-9 1h1m1 0h1m1 0h1m1 0h1m4 0h1m4 0h1m-20 1h1m-2 1h1m10 0h1m1 0h1m1 0h1m3 0h1m-13 1h1m1 0h1m5 1h1m-1 1h1m-10 1h1m5 0h1m-5 1h1m1 1h1m-4 1h1m2 0h1m2 0h2m-15 1h1m1 1h1m17 0h1m-16 1h1m9 0h1m-8 1h1m1 7h1m2 0h1m-4 1h1m9 0h1m-10 1h1m6 0h1m-9 1h2M33 78h1m-1 1h1m84 1h1m5 0h1m-16 1h1m2 0h1m-4 2h1m1 2h1m3 0h1m12 0h1M57 86h1m56 1h2m4 1h1m-6 5h1m3 0h1m6 0h1m-4 2h1m0 1h1m-9 1h1m2 1h1m-5 1h1m2 0h2m2 0h1m3 0h1m-12 1h1m-5 1h2m15 1h1m-5 1h2m-1 1h2m-14 1h1m1 0h1m1 0h1m4 0h1m1 0h1m-1 1h1m-3 2h1m0 1h1m3 0h1m-9 1h1m6 0h1m-17 1h1m6 0h1m1 0h1m3 0h2m-8 1h1m1 0h2m1 0h1m2 0h1m-4 1h1m-15 1h1m8 0h1m8 0h1m-9 1h2m4 0h1m3 0h1m-15 1h1m12 0h1m-13 1h2m1 2h2m7 0h1m-11 1h1m10 0h1m-4 1h1m-6 2h1m-1 1h1m8 2h1m-1 1h1m-80 1h1m63 5h1m14 0h1m-1 2h1m-88 5h1m75 0h1m-81 2h1m75 0h1m-70 1h1m-2 1h1m2 1h1m81 4h1"/>
<path stroke="#dba5a5" d="M125 0h1m1 0h1M117 2h1m-9 1h1m10 0h2m1 0h1m2 0h1m-1 1h2M110 5h1m3 0h1m3 0h1m-8 1h1m14 0h1m1 0h1M112 7h1m5 0h1m7 0h1m2 0h1M110 8h1m1 0h1m1 0h1m5 0h1M109 9h1m4 0h1m9 0h1m-6 1h1m6 0h1m-8 1h1m7 0h2m-14 1h1m2 0h1m4 0h1m4 0h1m-14 2h1m12 0h1m-14 1h1m8 0h1m2 0h1m-6 1h1m-9 1h1m8 0h1m4 0h1m-17 1h1m3 0h1m11 0h1m-19 2h1m11 0h1m3 0h1m-11 1h1m12 0h1m-13 1h1m9 0h1m-13 1h1m1 0h1m-7 1h1m4 0h1m2 1h1m-5 1h1m-1 1h1m10 0h1m-16 1h1m3 0h1m1 0h1m10 0h1m-15 1h1m-6 1h1m5 0h1m7 0h1m-13 2h1m3 0h1m7 1h1m-14 2h1m12 0h1m-9 1h1m-7 1h1m2 0h1m6 0h2m-5 1h1m8 1h1m-13 1h1m5 0h1m1 0h1m6 0h1m-15 1h1m5 0h1m-3 1h1m8 0h1m1 0h1m-21 1h1m7 0h1m6 1h1m2 0h1m-15 1h2m13 0h1m-18 1h1m9 1h1m1 1h1m-15 1h1m9 0h1m7 0h1m-19 3h1m5 0h1m7 0h1m0 1h1m-16 1h2m11 1h1m6 0h1m-16 1h1m4 0h1m1 0h1m0 2h1m-7 1h1m4 0h2m6 0h1m-20 1h1m14 0h1m-17 1h1m17 0h1m-15 1h1m7 0h1m3 0h1m-17 1h1m14 1h2m-11 1h1m5 0h1m-11 1h1m10 0h1m-12 1h1m14 7h1m-13 1h1m-1 2h1m7 3h1m-3 1h1m7 0h1m-3 1h1m-8 1h1m0 1h1m-1 2h1m-1 1h1m5 0h1m-13 6h1m4 1h1m3 0h1m1 3h1m-10 1h1m11 1h1m-3 1h1m1 0h1m-10 1h1m2 2h1m5 0h1m-14 1h1m1 0h1m0 3h2m3 1h1m-13 1h1m7 0h1m5 0h1m-8 1h1m10 0h1m-14 1h1m6 1h1m-8 1h1m2 0h1m4 0h1m-7 1h1m1 0h1m-1 1h1m8 0h1m-14 1h1m12 0h1m-10 1h1m3 0h1m2 0h1m-12 1h1m2 0h2m-1 1h1m3 0h1m3 2h2m-10 1h1m-3 1h1m-8 1h1m4 0h1m2 0h1m9 4h1m-2 5h1m-15 1h1m3 4h1m-5 1h1m-76 1h1m80 1h1m-79 1h1m72 0h1m7 0h1m-86 2h1m1 0h1m3 2h1"/>
<path stroke="#dba2a2" d="M115 0h1m-1 1h1m2 0h1m1 0h1m-7 1h1m3 0h2m2 0h1M113 3h1m-5 1h1m3 1h1m6 0h2m-9 1h1m4 0h1M109 7h2m5 0h1m-6 1h1m6 0h1m9 0h2M112 9h1m2 1h1m4 0h1m7 0h1m-17 1h1m1 0h1m9 0h2m-13 1h1m7 0h1m-6 1h1m6 0h1m-11 1h1m6 0h2m7 0h1m-17 1h1m6 0h1m7 0h1m-18 1h1m8 1h1m-4 1h1m4 0h1m3 0h1m-13 1h1m-3 1h1m12 0h1m-12 1h1m3 0h1m1 0h1m1 1h1m5 0h1m-17 1h1m6 0h1m-11 1h1m3 0h1m3 1h1m1 1h1m-1 2h1m6 0h1m-5 1h1m3 0h1m1 0h1m-15 1h1m7 0h1m5 0h1m-17 1h1m1 0h1m4 0h1m-7 1h1m2 0h3m3 0h1m-9 1h1m9 0h1m3 0h1m-15 1h1m3 0h1m7 0h1m-18 1h1m1 0h1m12 0h1m-15 2h1m3 1h1m7 0h1m-13 1h1m4 0h1m2 0h1m9 0h1m-14 1h1m-5 1h1m5 0h1m1 0h1m8 0h1m-18 1h1m2 0h1m9 0h2m-8 1h1m7 0h1m-2 1h1m-2 1h1m-2 2h1m-7 1h1m2 0h1m7 0h1m-12 1h1m3 0h1m1 0h1m4 0h2m-18 1h1m13 0h1m1 0h1m-20 1h1m2 0h1m2 0h1m5 0h1m7 1h1m-13 1h1m4 0h2m5 0h1m-4 1h1m-16 1h1m-1 1h1m17 1h1m-15 2h1m3 0h1m-9 1h2m1 0h1m1 0h1m-7 1h2m7 0h1m3 0h1m-12 1h1m11 0h1m-8 2h2m3 0h1m-11 1h1m7 0h1m5 7h1m2 5h1m-12 2h1m7 0h1m-12 2h1m5 0h1m4 2h1m-3 11h1m4 0h1m-15 2h2m3 0h1m7 0h1m-14 1h1m-2 1h2m11 0h1m-12 2h1m12 0h1m-2 1h1m-9 2h1m-1 1h1m3 0h1m-7 1h2m-4 1h1m6 0h1m-6 2h3m4 0h1m3 0h1m-15 1h1m13 0h1m-10 1h1m1 0h2m-10 1h1m5 0h1m4 0h1m-10 1h1m12 1h1m-7 2h1m1 0h2m-12 1h1m2 0h1m4 0h1m-5 1h1m8 2h1m0 1h1m-10 1h1m8 1h1m-14 1h1m2 0h1m2 0h1m3 0h1m2 0h1m-4 1h2m0 4h1m-1 4h1m0 6h1m-97 2h1m4 6h1"/>
<path stroke="#dc9e9e" d="M122 0h1m-1 1h1m1 0h1M113 2h1m-4 1h1m1 0h1m-3 1h1m1 0h1m7 0h2m1 0h1m5 0h1M112 5h1m16 0h1m-7 1h1M113 7h1m12 2h1m-17 2h1m4 0h1m0 1h1m1 1h1m-5 2h1m-2 1h1m9 0h1m3 0h1m-15 1h1m-5 1h1m4 0h1m4 0h1m4 0h2m1 0h1m-14 2h1m8 0h1m-15 2h1m2 0h2m-5 1h1m2 1h1m5 0h1m10 0h1m-15 1h2m5 0h1m-1 1h1m-3 1h1m1 1h2m1 0h1m-11 1h2m-6 1h1m17 0h1m-21 1h1m0 1h1m9 0h1m6 0h1m-16 1h1m3 0h1m-7 1h1m4 0h2m6 0h1m-8 1h1m-7 1h1m1 0h1m1 0h1m5 0h1m2 0h1m-10 1h1m-2 1h1m6 0h1m2 0h1m3 0h1m-17 1h1m8 1h1m-11 2h1m11 0h1m-13 1h1m3 0h1m-5 1h1m3 0h1m6 0h1m-4 1h1m7 0h1m-17 1h1m2 0h1m4 0h1m1 0h1m-10 1h1m1 0h1m14 0h1m-19 2h1m14 0h2m-16 1h1m2 0h1m10 0h1m1 0h1m-14 1h1m10 1h1m-17 1h1m1 0h1m8 0h1m0 1h1m6 0h1m-8 1h1m4 0h1m-14 2h1m5 0h1m-5 1h1m4 0h1m2 0h1m-6 1h1m3 1h1m3 0h1m-13 1h3m4 0h1m-12 1h2m2 0h3m6 0h1m5 0h1m-19 1h1m14 1h1m-7 11h1m-1 4h1m-2 2h1M32 83h1m87 2h1m-6 9h1m13 1h1m-16 1h1m12 0h1m-2 1h1m-9 1h1m1 0h1m4 0h1m-3 1h1m5 0h1m-7 1h1m-9 1h1m10 0h1m2 0h1m-12 3h2m2 0h1m6 0h1m-11 2h1m6 0h1m-7 1h1m-3 4h1m3 0h1m-5 2h1m6 1h1m-9 2h1m8 0h1m2 1h1m-6 6h1m4 1h1m-1 5h1m-1 1h1M43 142h1m-10 2h1m8 2h1"/>
<path stroke="#dc9b9b" d="M114 1h1m4 0h1m8 0h1m-9 1h1m3 0h1m4 1h1M112 6h1m-2 1h1m7 0h1m3 0h1M113 8h1m9 0h1m-1 1h1m-7 1h1m-7 2h1m8 0h1m-11 1h1m2 0h1m1 0h1m-5 1h1m11 1h1m-6 1h1m2 0h1m7 0h1m-19 1h2m-2 3h1m4 2h1m3 1h1m7 0h2m-7 1h1m2 0h1m-16 1h1m6 0h1m1 0h1m8 0h1m-21 1h1m3 0h1m15 0h1m-7 1h1m5 0h1m-10 3h1m-10 3h1m6 0h1m1 0h1m-12 1h1m9 0h1m9 1h1m-19 2h1m5 2h1m2 0h1m8 0h1m-13 1h1m5 1h1m-15 1h1m9 1h1m2 0h1m2 0h1m-17 1h1m8 0h2m9 0h1m-1 1h1m-16 1h1m9 0h1m-15 1h1m0 2h1m1 0h1m6 0h1m-11 1h1m2 0h1m3 0h1m2 2h1m-11 1h1m0 1h1m17 2h1m-19 1h1m4 1h1m-7 1h2m1 0h1m6 1h1m8 0h1m-2 1h2m-16 2h1m5 0h2m4 0h1m2 0h1m-9 1h1m5 0h1m-18 9h1m-1 1h1m18 7h1M46 87h1m-3 1h1m84 5h1m-12 7h1m4 1h1m-6 2h1m7 2h1m-9 1h1m-3 1h1m6 0h1m-6 2h1m-1 3h1m-2 3h1m4 2h1m5 0h1m-9 3h1m-3 4h1m5 0h1m3 0h1m-14 5h1m-1 1h1m4 8h1m-1 1h1m-81 1h1m79 0h1m-88 1h1m6 0h1m-9 1h1m-1 4h1"/>
<path stroke="#dd9797" d="M124 0h1M113 1h1m14 1h1M114 4h1m3 0h1m2 3h1m-3 1h1m8 5h2m-16 1h1m14 1h1m-12 2h1m10 2h1m-10 1h1m-10 2h1m6 0h1m-8 1h1m4 0h1m1 0h1m-9 1h1m-2 1h2m0 1h1m4 0h1m1 0h1m1 0h1m8 2h1m-7 1h1m-4 2h1m-9 1h1m6 0h1m5 0h1m2 0h1m-19 1h1m11 0h1m6 0h1m-1 1h1m-11 2h1m-8 2h1m6 0h1m-4 2h1m-5 2h1m-1 1h1m-2 1h1m14 0h1m-17 1h1m9 0h2m7 1h1m-12 1h1m1 0h1m8 0h1m-12 1h1m-7 1h1m7 1h2m0 2h1m-9 5h1m-2 1h1m7 0h1m-8 1h1m8 1h1m4 0h1m-17 1h1m13 0h1m-7 1h1m5 0h1m1 0h1m-17 1h1m2 0h1m-4 1h1m7 0h1m8 0h1m-16 1h1m14 11h1M32 81h1m86 19h1m-2 1h1m-3 4h1m3 1h1m5 1h1m-5 17h1M35 142h1m0 1h1m8 2h1"/>
<path stroke="#de9494" d="M119 0h1m9 9h1m-7 1h1m-1 1h1m-13 4h1m4 0h1m5 0h1m-11 1h1m16 1h1m-10 1h2m7 0h1m-19 1h1m11 0h1m5 1h1m-16 2h1m5 0h1m-7 1h1m7 0h1m-3 5h1m8 1h1m-2 2h2m-11 2h1m-9 1h1m12 0h1m-3 1h1m-12 1h1m-1 2h1m4 1h1m6 0h1m5 1h1m-1 1h1m-14 1h1m-1 1h1m3 1h1m2 6h1m-4 1h1m-11 7h1m7 0h1m1 3h1m1 0h1m-1 1h1m-12 2h1M48 87h1m79 7h1m-13 1h1m11 0h1m-4 1h1m2 8h1m-9 5h1m7 2h1m-1 1h1m-1 1h1m-10 3h1M40 142h1m-10 1h1m9 0h1m-7 3h1m1 0h1"/>
<path stroke="#de9090" d="M120 0h1m7 0h1M112 2h1m7 11h1m-9 2h1m8 2h1m-10 8h2m9 0h1m-12 1h1m10 0h1m-4 9h1m-11 3h1m9 5h1m1 1h1m-7 1h1m1 5h1m-5 8h1m0 6h1M48 88h1m79 5h1m-9 12h1M34 140h1m3 0h1m9 5h1"/>
<path stroke="#df8d8d" d="M112 1h1m-2 12h1m11 5h1m-4 1h1m5 7h1m2 6h1m-10 2h1m1 0h1m-4 1h1m3 5h1m-4 2h1m4 11h1M34 83h1m91 13h1m-1 2h1m-7 1h1m1 16h1m-1 1h1m2 0h1M31 144h1m6 1h1m-6 1h1"/>
<path stroke="#df8989" d="M129 11h1m-16 1h1m-1 1h1m11 12h1m-14 8h1m-2 11h1m3 0h1m8 7h1m-15 7h1m17 0h1m-16 6h1M32 140h1m11 0h1m-10 4h1"/>
<path stroke="#e08686" d="M112 0h1m8 15h1m3 9h1M114 49h1m0 4h1m5 24h1M31 80h1m12 7h1m78 9h1m-3 8h1M31 142h1m11 3h1"/>
<path stroke="#e08282" d="M114 0h1m-5 40h1m13 25h1m-1 7h1M31 81h1m91 12h1m-4 8h1m-7 19h1M46 140h1m-6 4h1m-8 1h1"/>
<path stroke="#e17f7f" d="M114 3h1m8 19h1m1 11h1m-5 2h1m-9 2h1m6 63h1m-6 3h1m8 9h1m-1 32h1m-83 1h1"/>
<path stroke="#e27b7b" d="M125 16h1m-7 104h1m-3 7h1m4 4h1M48 146h1"/>
<path stroke="#e27878" d="M110 0h1m9 7h1m-3 8h1m-7 31h1m14 17h1m1 48h1M48 141h1m-13 5h1"/>
<path stroke="#e37474" d="M121 2h1m-9 33h1m13 13h1m-17 3h1m6 2h1m9 4h1m-16 9h1m11 3h1m-14 38h1m2 16h1m10 7h1m-8 10h1m-81 4h1m1 2h1"/>
<path stroke="#e37171" d="M114 10h1m-2 18h1m12 47h1m-8 7h1m-5 4h1m-2 6h1m7 22h1m2 25h1m-93 4h1m2 1h1"/>
<path stroke="#e46d6d" d="M116 41h1m9 1h1M69 78h1m54 32h1M33 145h1m84 1h1"/>
<path stroke="#e46a6a" d="M113 4h1m15 6h1M115 33h1m-2 2h1m9 63h1m-3 37h1"/>
<path stroke="#e56666" d="M115 74h1m3 21h1m-3 11h1M45 142h1m74 0h1"/>
<path stroke="#e66262" d="M69 80h1"/>
<path stroke="#e65f5f" d="M69 81h1M36 149h1"/>
<path stroke="#ec3c3c" d="M124 43h1m-15 79h1"/>
<path stroke="#ed3535" d="M114 71h1"/>
<path stroke="#ee3131" d="M35 149h1"/>
<path stroke="#ee2e2e" d="M116 101h1"/>
<path stroke="#ef2a2a" d="M123 85h1m4 3h1m-13 6h1m10 36h1m-19 3h1m1 3h1m5 1h1m-7 11h1m1 1h1"/>
<path stroke="#f02727" d="M127 6h1m-2 5h1"/>
<path stroke="#f12020" d="M113 23h1m5 41h1m-7 27h1"/>
<path stroke="#f11c1c" d="M121 13h1m3 60h1"/>
<path stroke="#f21919" d="M118 49h1"/>
<path stroke="#f21515" d="M109 127h1"/>
<path stroke="#f40e0e" d="M123 84h1m4 3h1m-13 6h1m10 36h1m-19 3h1m1 3h1m5 1h1m-7 11h1m1 1h1"/>
<path stroke="#f40b0b" d="M119 72h1"/>
<path stroke="#f50404" d="M122 36h1m4 20h1"/>
</g></g>
<text transform="translate(874.4 1158.4) scale(1 1.03)" font-size="43">High</text>
<defs><linearGradient id="gb" x1="0" y1="1" x2="0" y2="0">
<stop offset="0.0" stop-color="#0000cd"/>
<stop offset="0.5" stop-color="#d3d3d3"/>
<stop offset="1.0" stop-color="#f60000"/>
</linearGradient></defs>
<rect x="894.3" y="1168.7" width="28" height="191.2" fill="url(#gb)"/>
<text transform="translate(874.4 1405.5) scale(1 1.03)" font-size="43">Low</text>
<g shape-rendering="crispEdges">
<rect x="86.2" y="1510.2" width="58.57" height="38.6" fill="#ee0000"/>
<rect x="144.77" y="1510.2" width="58.57" height="38.6" fill="#bf1ff5"/>
<rect x="203.34" y="1510.2" width="64.43" height="38.6" fill="#004c8f"/>
<rect x="267.76" y="1510.2" width="105.42" height="38.6" fill="#48ee8c"/>
<rect x="373.19" y="1510.2" width="41" height="38.6" fill="#008b8b"/>
<rect x="414.19" y="1510.2" width="58.57" height="38.6" fill="#9fe2e6"/>
<rect x="472.76" y="1510.2" width="70.28" height="38.6" fill="#ff69b4"/>
<rect x="543.04" y="1510.2" width="58.57" height="38.6" fill="#cd2f62"/>
<rect x="601.61" y="1510.2" width="46.86" height="38.6" fill="#008b00"/>
<rect x="648.46" y="1510.2" width="76.14" height="38.6" fill="#ff7f50"/>
<rect x="724.6" y="1510.2" width="123" height="38.6" fill="#ffc300"/>
</g>
<text transform="translate(861.5 1544.9) scale(1 1.03)" font-size="45">Tissue</text>
<g shape-rendering="crispEdges">
<rect x="86.2" y="1556.4" width="761.4" height="1362.3" fill="#cbcbd3"/>
<g transform="translate(86.2 1580.7268) scale(5.8569 48.6536)" fill="none" stroke-width="1">
<path stroke="#bbbbd2" d="M128 1h1m-8 14h1"/>
<path stroke="#bebed2" d="M16 9h1M32 9h1M44 9h1m7 0h1m2 0h1m1 0h1m2 0h1M71 9h1m2 0h1m6 0h1m2 0h1M95 9h2m9 0h1M22 14h2m2 0h5"/>
<path stroke="#c1c1d2" d="M57 1h2m4 0h1M86 1h1m34 1h1M6 4h1m9 0h1M29 4h1m71 0h1M39 5h1m67 0h1M0 9h3M5 9h3m2 0h2m1 0h3m2 0h1m1 0h1m1 0h2m2 0h1m2 0h3m1 0h3m1 0h2m4 0h1m1 0h1m1 0h5m1 0h2m1 0h1m1 0h2m1 0h7m1 0h1m2 0h2m1 0h4m1 0h1m1 0h2m1 0h3m1 0h1m1 0h1m1 0h2m2 0h3m1 0h5m1 0h2M17 12h1m1 0h1m16 0h1m9 0h1M12 13h1m46 0h1m45 0h1M5 14h1m18 0h2m15 0h1M31 21h1m35 2h1m31 0h1M49 25h2m45 0h1M7 26h1m45 0h1m53 0h1"/>
<path stroke="#c3c3d3" d="M2 1h3M6 1h1M8 1h1m1 0h2m2 0h1m1 0h1m1 0h1m1 0h1m1 0h1m1 0h5m2 0h5m1 0h2m1 0h9m2 0h3m1 0h1m4 0h3m1 0h1m1 0h1m2 0h2m1 0h2m1 0h1m1 0h1m1 0h1m1 0h2m1 0h2m3 0h2m1 0h4m1 0h1m3 0h5M3 4h3M7 4h2m1 0h2m1 0h3m1 0h2m1 0h2m1 0h1m1 0h3m3 0h1m1 0h2m1 0h1m7 0h1m2 0h1m2 0h2m2 0h2m1 0h11m2 0h8m3 0h1m6 0h4m4 0h5m1 0h6M2 5h4M8 5h2m2 0h3m1 0h1m1 0h1m1 0h8m1 0h1m3 0h2m1 0h3m1 0h1m1 0h2m1 0h8m3 0h2m6 0h2m1 0h1M79 5h3m1 0h2m1 0h2m3 0h1m2 0h1m1 0h1m1 0h2m1 0h3m2 0h1M7 6h2M19 6h1m7 0h1M41 6h1m7 0h1M36 9h1M79 9h1M3 12h4m1 0h2m1 0h6m3 0h1m1 0h1m1 0h7m1 0h4m1 0h4m1 0h1m2 0h1m2 0h1m1 0h2m1 0h7m1 0h5m1 0h2m1 0h2m2 0h1m2 0h1m1 0h3m1 0h7m1 0h5m1 0h4m1 0h3m1 0h3M10 13h2m2 0h3m1 0h4m1 0h2m1 0h1m1 0h3m15 0h1m3 0h6m1 0h1m2 0h2m1 0h2m5 0h3m1 0h5m2 0h1m1 0h6m2 0h7m1 0h6m1 0h2M0 14h5m1 0h1m1 0h1m5 0h1m1 0h4m11 0h4m1 0h3m1 0h1m3 0h5m4 0h2m1 0h3m1 0h1m1 0h4m1 0h2m1 0h2m1 0h5m1 0h1m1 0h1m1 0h3m2 0h7m1 0h2m1 0h1m1 0h4m1 0h3M0 21h1m2 0h1m1 0h4m1 0h3m2 0h1m1 0h1m1 0h1m3 0h1m1 0h6m1 0h7m1 0h1m1 0h1m2 0h2m1 0h1m1 0h1m2 0h9m1 0h1m1 0h3m1 0h6m1 0h2m1 0h1m4 0h4m3 0h2m15 0h1M5 22h1m2 0h1m2 0h1m3 0h1m8 0h1m15 0h1m14 0h1m10 0h1m7 0h1m5 0h1m1 0h1m3 0h2m10 0h1m6 0h1m2 0h1M0 23h2m2 0h1m1 0h2m2 0h7m1 0h1m1 0h7m1 0h1m1 0h17m3 0h1m1 0h2m3 0h2m1 0h1m1 0h1m1 0h3m5 0h1m2 0h2m2 0h1m5 0h1m7 0h1m2 0h3m1 0h7M40 24h1m5 0h1m38 0h1M0 25h8m1 0h3m3 0h1m4 0h7m1 0h4m1 0h4m3 0h1m3 0h1m6 0h2m1 0h1m1 0h4m1 0h4m1 0h4m3 0h3m1 0h1m1 0h1m1 0h1m1 0h2m3 0h4m3 0h1M0 26h6m3 0h1m4 0h5m1 0h4m1 0h5m5 0h2m12 0h4m2 0h2m1 0h1m2 0h3m3 0h7m2 0h9m1 0h9m6 0h1m1 0h4m1 0h1"/>
<path stroke="#c6c6d3" d="M1 1h1M5 1h1M7 1h1M9 1h1m5 0h1m3 0h1m9 0h2m8 0h1m9 0h1m4 0h1m1 0h1m2 0h1m7 0h1m6 0h1m1 0h1m1 0h1m1 0h1m2 0h1m3 0h1M98 1h3m5 0h1M2 4h1m9 0h1m6 0h1m2 0h1m1 0h1m3 0h1m1 0h1M43 4h1m1 0h1m2 0h1m4 0h1m2 0h1M69 4h1M92 4h1m2 0h1m12 0h1M0 5h1M6 5h2m2 0h2m3 0h1m1 0h1M28 5h1m1 0h3m2 0h1m5 0h1m2 0h1m8 0h2m6 0h2m5 0h1m9 0h1m3 0h1m2 0h1m6 0h1m4 0h1m2 0h1m3 0h2m2 0h1M0 6h2M3 6h4M9 6h2m6 0h2m1 0h7m1 0h3m1 0h5m1 0h1m3 0h7m3 0h1m2 0h6m1 0h2m1 0h2m1 0h3m1 0h11m1 0h7m5 0h7m1 0h2m1 0h2M0 12h3m4 0h1m2 0h1m7 0h1m2 0h1m1 0h1m7 0h1m11 0h2m2 0h1m12 0h1m5 0h1m2 0h1m2 0h2m1 0h2m1 0h1m3 0h1m7 0h1m5 0h1m4 0h1m3 0h1M13 13h1m3 0h1m4 0h1m2 0h1m1 0h1m6 0h2m11 0h1m1 0h1m6 0h1m1 0h1m3 0h1m2 0h5m3 0h1m5 0h2m1 0h1m6 0h1m8 0h1m9 0h1M7 14h1m1 0h1m5 0h1m4 0h2m13 0h1m3 0h1m2 0h2m17 0h1m4 0h1m2 0h1m2 0h1m22 0h1m2 0h1m6 0h1M0 17h109M1 21h2m1 0h1m4 0h1m3 0h1m2 0h1m1 0h1m1 0h3m1 0h1m14 0h1m1 0h1m1 0h2m2 0h1m27 0h1m2 0h1m2 0h3m5 0h1m3 0h3M0 22h5m1 0h2m1 0h2m1 0h2m2 0h8m1 0h2m1 0h4m1 0h3m3 0h1m1 0h6m1 0h4m1 0h2m1 0h10m1 0h1m1 0h5m1 0h5m1 0h1m1 0h3m2 0h6m1 0h3m1 0h6m1 0h2M9 23h1m9 0h1m7 0h1m1 0h1m17 0h2m5 0h1m1 0h1m2 0h1m1 0h1m1 0h1m4 0h4m1 0h1m16 0h1m16 0h2M0 24h3m1 0h13m1 0h4m1 0h1m2 0h6m1 0h7m1 0h3m1 0h1m1 0h4m1 0h5m1 0h1m2 0h3m1 0h3m1 0h3m1 0h6m1 0h5m1 0h1m1 0h2m2 0h1m4 0h1m3 0h1m1 0h2m1 0h3M8 25h1m18 0h1m4 0h1m9 0h2m1 0h1m7 0h1m6 0h1m4 0h1m4 0h3m3 0h1m5 0h1m14 0h1M6 26h1m1 0h1m1 0h1m8 0h1m4 0h1m5 0h1m3 0h1m19 0h1m2 0h1m1 0h2m4 0h1m8 0h2m9 0h1m9 0h1m1 0h1m4 0h1"/>
<path stroke="#c8c8d3" d="M38 4h1M2 6h1M16 6h1M31 6h1m5 0h1m1 0h2m9 0h2m1 0h2m6 0h1m5 0h1m3 0h1M83 6h1m7 0h5m7 0h1m2 0h1M21 7h1m36 3h1M2 13h1m97 1h1M56 20h1M27 22h1m8 0h1m15 0h1M3 24h1m13 0h1m4 0h1m1 0h2m6 0h1m11 0h1m6 0h1m5 0h1m1 0h2m3 0h1m3 0h1m3 0h1m6 0h1m7 0h1m2 0h2m2 0h2m3 0h1m2 0h1m2 0h1M45 26h1"/>
<path stroke="#ceced3" d="M125 0h1M12 1h1m95 0h1m1 1h1M87 4h1M60 5h1m50 3h1M12 9h1M27 9h1M92 9h1m25 2h1M0 13h1m8 0h1m26 0h1m3 0h1m2 0h1m46 0h1M10 14h2m43 0h1m22 0h1m8 0h1m26 1h1M5 18h1m21 0h1m6 0h1m11 0h1m50 0h1m1 0h2m1 0h1m3 0h1m1 0h1m9 0h2M64 21h1m3 0h1M38 22h1m55 0h1M5 23h1m74 0h1m14 0h1m2 1h1m18 0h1M14 25h1m1 0h1m1 0h2m26 0h1m31 0h1m19 0h1M13 26h1m17 0h1m1 0h1m5 0h2m7 0h1m15 0h1"/>
<path stroke="#d0d0d3" d="M120 0h5M0 1h1M13 1h1m3 0h1m3 0h1m1 0h1M36 1h1M50 1h1M65 1h1m5 0h1M91 1h1m4 0h1m10 0h1m12 0h1m0 2h1m5 0h1M0 4h2M9 4h1M39 4h1m2 0h1m3 0h1m2 0h1m2 0h1M78 4h2m2 0h4m7 0h2M1 5h1M19 5h1M58 5h2m3 0h1m6 0h2m5 0h1M88 5h3m2 0h1M11 6h1m2 0h2M64 6h1M3 9h2M17 9h1m1 0h1m1 0h1m6 0h1M40 9h1m5 0h1M70 9h1m29 0h1m13 1h1m2 0h1m-8 1h1m6 0h1M8 13h1m22 0h1m1 0h1m3 0h1m3 0h2m1 0h1m3 0h1M12 14h1m46 0h1m20 0h1m5 0h1m25 1h2m-4 1h2m13 2h1m-5 2h1M49 21h1m1 0h2m27 0h1m9 0h1M14 22h1m17 0h1m4 0h1m9 0h1M2 23h2m4 0h1m8 0h1m37 0h1m18 0h1m2 0h1m3 0h2m1 0h1m3 0h2m1 0h1m2 0h1M13 25h1m23 0h3m1 0h1m5 0h2m31 0h1m11 0h1m6 0h2M11 26h2m19 0h1m9 0h1m1 0h1m1 0h2m18 0h1m33 0h1m11 1h1m8 0h1"/>
<path stroke="#d3d3d3" d="M117 0h3m-9 2h1M37 4h1m2 0h1M68 4h1M86 4h1M69 5h1m47 2h1m3 0h1M110 8h1m6 0h2m6 0h1M41 9h2m-2 3h1M32 13h1m77 2h1m1 1h1m-4 2h2m2 0h1M62 21h1m5 1h1M49 23h1M12 25h1m80 0h2M41 26h1m54 0h1m2 0h1m14 0h1m-1 1h1"/>
<path stroke="#d3d0d0" d="M115 0h1m-7 1h1m15 6h1M114 8h1m6 1h1m-1 1h2m-9 1h1m6 2h1m-11 2h1m1 1h2m5 2h1m5 0h1m-6 3h1m-12 6h2"/>
<path stroke="#d4cece" d="M116 0h1M12 6h1m112 4h1m2 0h1m-14 8h1m-3 9h1"/>
<path stroke="#d4cbcb" d="M80 4h1M66 5h1m6 0h2m38 3h1M8 9h1M68 9h1m42 2h1M49 12h1m2 0h1m-4 2h2M14 21h1m83 0h1m1 0h1m1 0h2m1 0h3m-5 4h1M38 26h1"/>
<path stroke="#d5c8c8" d="M68 1h1M88 1h1M32 4h1M55 5h1M72 5h1m2 0h2M95 5h1M13 6h1M118 6h1M9 9h1M90 9h1M45 13h1m5 1h2m29 0h1m38 3h1m0 1h1M96 21h2m1 0h1m1 0h1m2 0h1M51 23h1m33 2h1m1 0h1m13 0h2m1 0h1M37 26h1m60 0h1"/>
<path stroke="#d5c6c6" d="M117 1h1m4 3h1m2 0h1M115 6h1m2 1h1m-4 1h1m3 0h1m4 0h1m3 0h1m-8 3h1m-13 5h1m15 0h1m-12 4h1M86 25h1m42 0h1m-21 1h1"/>
<path stroke="#d6c3c3" d="M127 0h1m1 1h1M109 3h1m0 4h1m11 1h1m3 1h1m-9 1h1m-6 1h1m7 5h1m5 0h1m-12 2h1m6 0h1m3 0h2m-16 1h1m9 0h1m-13 1h1m10 0h1m1 0h1m-7 4h1m-6 2h1"/>
<path stroke="#d6c1c1" d="M126 0h1M113 1h1m-2 1h1m-3 1h1m10 2h1M112 6h2m2 0h1m4 0h1M111 7h1m9 1h1m0 3h1m-8 4h1m2 1h1m-7 1h1m4 1h1m3 0h1m2 0h1m-13 1h1m13 0h1m-15 1h2m-5 4h1m1 0h1m3 0h1m-11 1h4m18 0h1m-17 1h1m-3 1h1m14 0h1"/>
<path stroke="#d6bebe" d="M114 1h1m11 3h1m-5 3h1m-13 3h1m4 0h1m8 0h1m-13 1h1m3 8h1m11 0h1m-13 1h1m4 3h1m-12 3h1m1 0h1"/>
<path stroke="#d7bbbb" d="M115 11h1m3 0h1m-10 9h1m-2 3h1"/>
<path stroke="#d7b9b9" d="M114 6h1"/>
<path stroke="#d8b6b6" d="M129 0h1M118 25h1"/>
<path stroke="#d8b3b3" d="M114 2h1m-4 1h1m2 0h1m7 0h1M109 4h1m0 2h1m15 4h1m1 1h1m-18 2h1m-3 2h1m6 2h1m8 0h2m1 6h1m-12 2h1m5 0h1"/>
<path stroke="#d9b1b1" d="M128 0h1M110 1h1m15 0h1M113 2h1m3 0h1m6 0h1m3 2h1m-3 1h1m1 1h1M113 7h1m-2 1h1m3 1h2m5 0h1m1 0h1m1 0h1m-17 1h3m5 0h1m5 1h1m3 2h1m-10 1h1m5 0h1m-3 2h1m-16 3h1m11 0h1m-7 2h1m-7 1h1m18 0h1M86 23h2m23 0h1m7 0h2M96 24h1m24 0h1m1 0h1m2 0h1M55 25h1m73 1h1m-14 1h1m2 0h1m3 0h1"/>
<path stroke="#d9aeae" d="M111 0h2m-4 2h1m12 0h1M113 3h1m11 0h1M35 4h1m93 1h1m-8 1h2M112 7h1m1 0h1m11 0h1m1 0h2m-1 1h1M24 9h1M88 9h1m23 0h1m9 0h1m1 0h1m3 0h1m-13 1h1m3 0h1m1 3h1m2 0h1m-5 1h2m4 0h3m-5 1h1m-16 4h1m9 0h1m-6 1h1m4 0h1m5 0h1M88 21h1m20 0h1m2 0h1m16 1h1m-20 1h1m13 0h1m-11 1h1m5 0h1m3 0h1m-10 1h2m2 0h1m2 0h1m1 1h2m2 1h1"/>
<path stroke="#daabab" d="M109 0h1m17 1h1m-2 1h1M112 3h1m16 1h1m-3 1h2M109 6h1m5 1h1m8 0h1M111 9h1m17 0h1m-1 1h1m-6 1h1m-16 2h1m4 0h1m9 0h1m1 0h2m-10 2h2m-5 4h1m6 0h1m-4 1h1m5 0h1m-16 1h2m11 2h1m2 0h2m-16 1h1m7 1h1m3 0h1m3 1h1m-7 1h1"/>
<path stroke="#daa9a9" d="M110 0h1m13 3h1m0 2h1M111 6h1m-2 7h1m11 3h1m-9 2h1m-6 2h1m0 2h1m14 2h1m-1 1h2m1 0h1m-11 2h1m1 0h1m5 0h2"/>
<path stroke="#daa6a6" d="M121 4h1m-3 2h1"/>
<path stroke="#dba4a4" d="M116 15h1"/>
<path stroke="#dba1a1" d="M119 2h1m-3 1h1m-4 9h1m1 4h2m5 4h1"/>
<path stroke="#dc9e9e" d="M116 3h1m6 1h1m-4 2h1m6 0h1m-3 13h1m-13 2h1m-2 1h1m7 0h1M92 23h1m19 0h1m1 0h1"/>
<path stroke="#dc9c9c" d="M114 0h1m-4 1h1m11 0h1m-5 2h1m-9 1h2m14 0h1M111 5h1m6 0h1m5 1h1m-9 1h1m2 0h1m3 1h1M25 9h1m87 0h2m4 0h1m-4 2h1m6 0h1m-13 1h1m7 0h1m9 0h1m-2 1h1m-17 1h1m1 0h1m8 0h1m-4 2h1m5 0h1m1 0h2m-7 1h1m5 0h1m-3 2h1m0 1h1m-4 1h1m-10 1h1m4 0h1m5 0h1M78 23h1m37 0h1M93 24h1m6 0h1m9 0h1m16 0h1m1 0h1m-7 2h1"/>
<path stroke="#dd9999" d="M112 1h1m3 0h1m-2 1h1m2 0h1m-4 1h1m2 0h1m-9 1h1m3 0h2m2 0h2M109 5h2m3 0h4m6 0h1m1 1h1m-7 1h1M110 9h1m4 0h1m7 1h1m-15 1h1m-1 1h2m1 0h1m4 0h1m2 0h3m2 0h1m2 0h1m-16 1h1m1 0h1m2 0h1m-4 1h4m3 1h2m-5 1h1m-11 1h1m3 0h1m1 0h1m1 0h1m4 0h1m1 0h1m-13 1h1m1 1h1m14 0h1m-1 1h1m-16 1h1m1 0h4m2 0h1m1 0h1m2 0h3m-19 1h1m3 0h1m9 0h2m-12 1h1m6 0h1m6 0h1m-11 1h1m8 0h1m-8 1h1m0 1h1"/>
<path stroke="#dd9696" d="M115 1h1m2 0h1m5 0h1m-9 1h1m3 1h1m-4 1h1m6 0h1m-6 1h1m2 0h2M109 9h1m8 0h1m7 2h1m-12 1h2m1 0h1m5 0h1m-13 1h1m3 0h2m1 0h1m-11 1h2m8 0h1m4 0h1m-8 1h1m6 0h1m1 0h1m-13 2h1m3 0h1m9 0h1m-5 2h1m-8 1h1m5 1h1m-11 1h1m5 0h1m2 0h2m-11 1h1m2 1h1m2 2h2m-6 1h1"/>
<path stroke="#de9494" d="M112 5h1m7 3h1m2 4h1m-13 2h1m13 0h1m-11 2h1m-6 1h2m7 0h1m7 0h1m-14 5h1m2 4h1"/>
<path stroke="#de9191" d="M116 8h1m3 1h1m-5 17h1"/>
<path stroke="#df8989" d="M128 15h1"/>
<path stroke="#e08787" d="M116 4h1m3 11h1m-2 4h1m-2 4h1"/>
<path stroke="#e08484" d="M125 1h1m1 1h1m-5 1h1m2 0h1m-4 10h1m-4 4h1m-10 2h1m6 0h1m5 3h1m-11 3h1"/>
<path stroke="#e18181" d="M113 4h1m-1 1h1m-5 2h1m13 0h1m2 1h1m-7 3h1m8 0h1m-3 1h1m-1 3h1m-8 6h1m-4 1h1m-6 3h2m4 1h1"/>
<path stroke="#e17f7f" d="M128 2h1m0 4h1M109 8h1m3 4h1m12 0h1m-9 8h1m7 1h1m-17 4h2m9 1h1m4 0h1m2 1h1"/>
<path stroke="#e17c7c" d="M123 2h1m-4 3h1m4 1h1m-6 7h1m-8 1h1m4 8h1m-2 1h1m4 1h1m-14 1h1"/>
<path stroke="#e27979" d="M125 23h1"/>
<path stroke="#e46f6f" d="M127 7h1"/>
<path stroke="#e46a6a" d="M127 26h1"/>
<path stroke="#e56767" d="M120 2h1m7 1h1M115 26h1"/>
<path stroke="#e56464" d="M119 1h1m2 0h1m6 2h1M120 4h1m-8 20h1"/>
<path stroke="#e66262" d="M121 1h1m7 1h1m-1 13h1m-13 4h1"/>
<path stroke="#ea4a4a" d="M127 11h1"/>
<path stroke="#ea4747" d="M127 10h1"/>
<path stroke="#eb4545" d="M117 6h1m9 14h1"/>
<path stroke="#eb4242" d="M123 16h1"/>
<path stroke="#ec3f3f" d="M125 27h1"/>
<path stroke="#f12020" d="M109 10h1m7 17h1"/>
<path stroke="#f11d1d" d="M127 8h1"/>
<path stroke="#f60303" d="M111 18h1"/>
<path stroke="#f60000" d="M113 0h1"/>
</g></g>
<text transform="translate(858.8 1595.4) scale(1 1.03)" font-size="45.4" font-style="italic">AMY1A</text>
<text transform="translate(858.8 1644.1) scale(1 1.03)" font-size="45.4" font-style="italic">ASCL3</text>
<text transform="translate(858.8 1692.9) scale(1 1.03)" font-size="45.4" font-style="italic">BPIFA2</text>
<text transform="translate(858.8 1741.6) scale(1 1.03)" font-size="45.4" font-style="italic">CA6</text>
<text transform="translate(858.8 1790.3) scale(1 1.03)" font-size="45.4" font-style="italic">CHRM1</text>
<text transform="translate(858.8 1839.1) scale(1 1.03)" font-size="45.4" font-style="italic">CHRM3</text>
<text transform="translate(858.8 1887.8) scale(1 1.03)" font-size="45.4" font-style="italic">CRISP3</text>
<text transform="translate(858.8 1936.5) scale(1 1.03)" font-size="45.4" font-style="italic">CST1</text>
<text transform="translate(858.8 1985.2) scale(1 1.03)" font-size="45.4" font-style="italic">CST2</text>
<text transform="translate(858.8 2034.0) scale(1 1.03)" font-size="45.4" font-style="italic">CST3</text>
<text transform="translate(858.8 2082.7) scale(1 1.03)" font-size="45.4" font-style="italic">CST4</text>
<text transform="translate(858.8 2131.4) scale(1 1.03)" font-size="45.4" font-style="italic">CST5</text>
<text transform="translate(858.8 2180.2) scale(1 1.03)" font-size="45.4" font-style="italic">ELF5</text>
<text transform="translate(858.8 2228.9) scale(1 1.03)" font-size="45.4" font-style="italic">ETV1</text>
<text transform="translate(858.8 2277.6) scale(1 1.03)" font-size="45.4" font-style="italic">FOXC1</text>
<text transform="translate(858.8 2326.3) scale(1 1.03)" font-size="45.4" font-style="italic">HTN1</text>
<text transform="translate(858.8 2375.1) scale(1 1.03)" font-size="45.4" font-style="italic">HTN3</text>
<text transform="translate(858.8 2423.8) scale(1 1.03)" font-size="45.4" font-style="italic">LPO</text>
<text transform="translate(858.8 2472.5) scale(1 1.03)" font-size="45.4" font-style="italic">MUC19</text>
<text transform="translate(858.8 2521.3) scale(1 1.03)" font-size="45.4" font-style="italic">MUC7</text>
<text transform="translate(858.8 2570.0) scale(1 1.03)" font-size="45.4" font-style="italic">PIP</text>
<text transform="translate(858.8 2618.7) scale(1 1.03)" font-size="45.4" font-style="italic">S100A1</text>
<text transform="translate(858.8 2667.5) scale(1 1.03)" font-size="45.4" font-style="italic">SIX1</text>
<text transform="translate(858.8 2716.2) scale(1 1.03)" font-size="45.4" font-style="italic">SLC12A2</text>
<text transform="translate(858.8 2764.9) scale(1 1.03)" font-size="45.4" font-style="italic">SLC5A5</text>
<text transform="translate(858.8 2813.7) scale(1 1.03)" font-size="45.4" font-style="italic">TFCP2L1</text>
<text transform="translate(858.8 2862.4) scale(1 1.03)" font-size="45.4" font-style="italic">WFDC2</text>
<text transform="translate(858.8 2911.1) scale(1 1.03)" font-size="45.4" font-style="italic">ZG16B</text>
<text transform="translate(1096.0 993.4) scale(1 1.03)" font-size="53">(D)</text>
<g shape-rendering="crispEdges">
<rect x="1167.9" y="1021.9" width="58.55" height="38.5" fill="#ee0000"/>
<rect x="1226.45" y="1021.9" width="58.55" height="38.5" fill="#bf1ff5"/>
<rect x="1284.99" y="1021.9" width="64.4" height="38.5" fill="#004c8f"/>
<rect x="1349.39" y="1021.9" width="105.38" height="38.5" fill="#48ee8c"/>
<rect x="1454.78" y="1021.9" width="40.98" height="38.5" fill="#008b8b"/>
<rect x="1495.76" y="1021.9" width="58.55" height="38.5" fill="#9fe2e6"/>
<rect x="1554.3" y="1021.9" width="70.26" height="38.5" fill="#ff69b4"/>
<rect x="1624.56" y="1021.9" width="58.55" height="38.5" fill="#cd2f62"/>
<rect x="1683.11" y="1021.9" width="46.84" height="38.5" fill="#008b00"/>
<rect x="1729.94" y="1021.9" width="76.11" height="38.5" fill="#ff7f50"/>
<rect x="1806.05" y="1021.9" width="122.95" height="38.5" fill="#ffc300"/>
</g>
<text transform="translate(1936.6 1062.0) scale(1 1.03)" font-size="45">Tissue</text>
<g shape-rendering="crispEdges">
<rect x="1167.9" y="1070.2" width="761.1" height="1127.2" fill="#c3c3d3"/>
<g transform="translate(1167.9 1092.744) scale(5.8546 45.088)" fill="none" stroke-width="1">
<path stroke="#b3b3d2" d="M22 3h1m79 0h1"/>
<path stroke="#b6b6d2" d="M3 3h1M6 3h1M23 3h1m1 0h1M38 3h1m1 0h1m7 0h1M59 3h1M72 3h2M94 3h2m4 0h1m2 0h1m1 0h2m1 0h1M20 14h1m7 0h1m2 0h1m2 0h1m34 0h1m22 0h1M17 19h1m10 0h1m43 0h1m3 0h1m8 0h1"/>
<path stroke="#b9b9d2" d="M4 3h2M24 3h1M37 3h1m1 0h1m1 0h2m3 0h2M60 3h1M92 3h1m8 0h1m2 0h1m2 0h1M21 14h2m3 0h2m1 0h2m26 0h1m35 0h3M18 19h5m2 0h3m1 0h2m42 0h3m8 0h1"/>
<path stroke="#bbbbd2" d="M5 8h1M23 8h1m4 0h1m3 6h1m45 0h1m49 9h1"/>
<path stroke="#bebed2" d="M1 3h1M8 3h1m7 0h1m2 0h1M31 3h1M51 3h1M64 3h2M76 3h1M89 3h1m1 0h1m4 0h1m1 0h1M3 8h1M6 8h3M20 8h3m1 0h1m4 0h2M66 8h1m2 0h2M94 8h1M0 10h1m1 0h1m3 0h1m1 0h1m5 0h2m1 0h1m5 0h2m4 0h1m3 0h1m1 0h1m3 0h2m5 0h1m7 0h1m4 0h2m2 0h2m26 0h1m1 0h1m5 0h1m3 0h1m1 0h1M8 14h1m5 0h1m18 0h1m4 0h1m15 0h1m9 0h1m12 0h1m1 0h1m3 0h1m19 0h1m2 0h1m21 3h1M0 18h1m11 0h1m3 0h1m7 0h1m11 0h1m27 0h1m7 0h2m17 0h1m1 0h2m2 0h1m3 0h1m6 0h1M49 19h1m3 0h1m2 0h1m1 0h1m3 0h1m2 0h1m12 0h1m7 0h1m5 0h1m1 0h1m1 0h1m4 0h1M11 22h1m4 0h2m3 0h1m1 0h1m2 0h1m2 0h1m25 0h1m4 0h1m1 0h2m6 0h1m1 0h1m6 0h1m5 0h1m6 0h2m27 0h1"/>
<path stroke="#c1c1d2" d="M23 0h1M79 0h1m4 0h1m43 0h1M12 1h1M93 1h1M2 2h1M2 3h1M7 3h1M9 3h1m4 0h2m1 0h1m9 0h4m3 0h3m6 0h1m1 0h1m7 0h3m6 0h1m4 0h1m1 0h3m2 0h1m3 0h1m5 0h4m5 0h1m3 0h1m1 0h1M13 5h1M30 5h1M53 5h1M12 7h1M61 7h1M74 7h1M4 8h1M25 8h3M1 10h1m1 0h1m1 0h1m1 0h1m1 0h5m2 0h1m1 0h3m4 0h3m2 0h3m1 0h1m1 0h3m2 0h5m1 0h1m2 0h2m1 0h1m2 0h3m2 0h2m2 0h1m1 0h1m1 0h1m7 0h3m4 0h3m3 0h1m4 0h2m1 0h1m2 0h2m1 0h1m1 0h3M30 11h1m1 0h1m34 0h1m24 0h1M12 12h1m43 0h1m36 0h1m9 0h1M39 13h1m10 0h1m28 0h1M2 14h2m3 0h1m1 0h1m1 0h1m4 0h1m2 0h1m3 0h3m9 0h3m1 0h10m1 0h1m1 0h1m3 0h1m1 0h1m1 0h4m1 0h2m1 0h1m11 0h2m3 0h1m5 0h1m4 0h2m1 0h4m1 0h2m1 0h2M5 15h1m63 0h1m1 0h1M1 18h4m1 0h2m1 0h3m1 0h3m1 0h7m1 0h7m5 0h1m1 0h10m4 0h4m2 0h5m1 0h3m1 0h1m4 0h2m1 0h1m1 0h1m2 0h1m1 0h2m4 0h1m1 0h1m3 0h1m1 0h3m2 0h5M5 19h2m1 0h1m2 0h3m2 0h1m7 0h1m9 0h2m15 0h1m2 0h2m1 0h1m1 0h3m1 0h2m1 0h3m8 0h1m2 0h1m1 0h2m3 0h2m4 0h1m1 0h1m1 0h4m1 0h1m1 0h1m1 0h3M12 20h1m59 0h1M2 22h9m2 0h3m2 0h3m1 0h1m1 0h2m1 0h2m1 0h1m3 0h3m6 0h1m1 0h1m3 0h6m1 0h4m1 0h1m2 0h4m1 0h1m1 0h1m1 0h6m1 0h5m1 0h4m1 0h1m2 0h1m3 0h1m12 2h1"/>
<path stroke="#c6c6d3" d="M4 0h1M6 0h1m8 0h2M32 0h1m3 0h1m1 0h1m6 0h1m2 0h1m2 0h1m2 0h1m6 0h1m1 0h1m2 0h1M80 0h1m1 0h1m2 0h1m7 0h1m8 0h1m11 0h1M5 1h1M21 1h1m5 0h1m7 0h1m2 0h1m2 0h1m8 0h1m2 0h3m2 0h1m5 0h1m1 0h3m9 0h1m5 0h1m1 0h2m4 0h1m3 0h1M4 2h1M6 2h1M18 2h1m8 0h1m2 0h2m5 0h2m2 0h1m5 0h1m6 0h1m5 0h4m1 0h1m2 0h1m1 0h1m2 0h2m3 0h1m2 0h1m5 0h1m1 0h1m1 0h1m5 0h1m4 0h1m1 0h2m1 0h1M1 4h5M7 4h5m2 0h7m1 0h2m2 0h4m1 0h4m2 0h13m1 0h3m1 0h1m1 0h1m2 0h4m1 0h1m1 0h6m1 0h13m1 0h1m1 0h1m1 0h2m1 0h6m1 0h2m1 0h4M0 5h2M4 5h1M9 5h4m1 0h1m3 0h1m4 0h2m8 0h1m1 0h4m6 0h1m1 0h1m2 0h1m1 0h1m1 0h1m2 0h1m2 0h1m7 0h1m3 0h1m3 0h1M90 5h1m3 0h1m2 0h1m2 0h1M0 6h1M2 6h1M6 6h7m1 0h1m6 0h1m4 0h2m3 0h3m1 0h1m4 0h1m1 0h1m2 0h4m2 0h1m1 0h1m2 0h1m1 0h2m4 0h1m1 0h1m4 0h5m1 0h1m1 0h1m1 0h1m1 0h1m1 0h1m1 0h1m9 0h1m2 0h1m2 0h1m1 0h1m1 0h2M2 7h1M5 7h1M7 7h1m2 0h1M30 7h1m4 0h1m2 0h1m1 0h1M54 7h1m5 0h1m2 0h1m7 0h1M82 7h1m1 0h1m1 0h1m5 0h1m1 0h1M31 8h1m3 0h1M47 8h1m6 0h1M68 8h1m3 0h1m6 0h1M93 8h1M0 9h17m2 0h4m2 0h2m1 0h5m1 0h5m1 0h2m1 0h7m1 0h2m1 0h1m1 0h1m2 0h1m1 0h3m1 0h1m6 0h5m1 0h4m1 0h3m3 0h1m1 0h8m1 0h9M1 11h1m2 0h1m1 0h2m6 0h1m5 0h1m12 0h1m1 0h1m3 0h1m5 0h1m4 0h1m2 0h2m4 0h1m5 0h1m5 0h1m2 0h1m6 0h1m2 0h2m5 0h1m7 0h1M1 12h1m4 0h1m2 0h1m3 0h1m1 0h1m7 0h2m4 0h3m5 0h1m1 0h1m3 0h1m2 0h3m2 0h1m7 0h2m4 0h1m5 0h1m6 0h1m2 0h1m6 0h1m12 0h1m4 0h1M0 13h1m1 0h2m3 0h1m17 0h1m4 0h3m1 0h1m7 0h2m7 0h2m5 0h1m1 0h1m3 0h1m1 0h1m7 0h1m9 0h1m5 0h2m3 0h1m10 0h1M6 15h1m3 0h1m4 0h1m2 0h1m1 0h1m5 0h1m1 0h1m2 0h1m2 0h3m3 0h1m2 0h1m6 0h1m2 0h1m19 0h1m3 0h1m11 0h1m5 0h2m1 0h3M0 16h2m1 0h1m1 0h1m1 0h2m5 0h1m1 0h5m1 0h1m1 0h1m1 0h4m1 0h1m1 0h2m2 0h7m1 0h1m3 0h3m1 0h3m1 0h1m1 0h1m8 0h2m1 0h1m2 0h1m2 0h4m3 0h4m3 0h3m2 0h1m1 0h3m1 0h4m1 0h2M0 17h9m3 0h3m1 0h2m1 0h2m1 0h6m1 0h5m1 0h1m2 0h1m1 0h1m1 0h3m1 0h1m1 0h1m1 0h2m2 0h2m1 0h8m1 0h2m1 0h1m1 0h7m2 0h5m1 0h1m1 0h1m1 0h2m2 0h1m2 0h4m1 0h1m2 0h1m1 0h2M7 20h1m14 0h2m13 0h1m1 0h2m4 0h1m3 0h1m8 0h1m4 0h1m5 0h1m5 0h1m1 0h1m2 0h1m4 0h1m4 0h1m3 0h1M0 21h1m1 0h1m3 0h1m1 0h2m2 0h1m3 0h2m2 0h1m2 0h2m6 0h1m7 0h1m17 0h1m2 0h1m1 0h1m3 0h1m17 0h1m2 0h1m4 0h1m2 0h1m6 0h1m3 0h1M17 23h1m11 0h1m11 0h1m1 0h1m9 0h2m3 0h1m2 0h2m5 0h1m9 0h1m13 0h2m2 0h2m2 0h1M0 24h1m1 0h3m1 0h10m1 0h4m4 0h1m1 0h5m5 0h1m2 0h8m5 0h1m3 0h2m4 0h1m2 0h1m2 0h1m1 0h1m3 0h1m1 0h2m3 0h5m2 0h1m1 0h2m4 0h4m1 0h2m1 0h4"/>
<path stroke="#c8c8d3" d="M72 0h1M6 4h1M24 4h1M50 4h1M89 4h1m4 0h1m6 0h1M1 6h1M3 6h3m7 0h1m1 0h6m7 0h3m3 0h1m1 0h2m1 0h1m1 0h1m1 0h2m5 0h1m3 0h2m4 0h4m1 0h1m2 0h3m5 0h1m1 0h1m1 0h1m1 0h1m1 0h1m1 0h1m1 0h8m2 0h2m1 0h2m1 0h1m1 0h1M60 9h1M86 9h1m3 0h1m8 0h1M82 10h1M2 16h1m1 0h1m1 0h1m2 0h1m15 0h1m18 0h1m15 0h1m5 0h2m5 0h1m7 0h2m12 0h1m5 0h1m4 0h1M10 17h1m45 0h1m8 0h1m2 0h1M49 24h1m14 0h1m7 0h1m3 0h1"/>
<path stroke="#cbcbd3" d="M73 0h1m1 0h1m1 0h2M74 1h1m6 2h1M80 5h1M38 6h1M81 8h1m2 0h1m1 0h1M97 8h1M73 12h2M13 13h1m1 0h1m56 1h1m13 0h1M49 18h1m1 0h1m-9 1h1M17 20h1m21 2h1m63 0h1M72 23h1m1 0h1m27 0h1"/>
<path stroke="#ceced3" d="M10 0h1m2 0h1M74 0h1M98 0h1m11 0h1M75 1h3M11 2h2M88 2h1m5 0h1M80 3h1m1 0h1M79 5h1m2 0h2m3 0h1M52 6h1m4 0h1M42 8h1m8 0h1M80 8h1m7 0h1m9 0h2m2 0h4m1 0h2M67 9h1m55 0h1M22 10h1m50 0h3m16 0h1m1 0h1M21 12h1m13 0h1M11 13h1m47 1h1m11 0h1m1 0h1m2 0h1m5 0h1m5 0h2M38 15h1M11 16h1m50 0h1m61 0h1M52 17h1m-3 1h1m19 0h1M39 19h2m1 0h1m1 0h2M24 20h2m1 0h1m1 0h2m68 0h1M38 22h1m1 0h1m55 0h1m2 0h1M10 23h3m27 0h1m25 0h1m9 0h1m8 0h1M48 24h1"/>
<path stroke="#d0d0d3" d="M0 0h1M11 0h1M27 0h1m6 0h2M52 0h1M71 0h1m4 0h1M96 0h2m13 0h1M72 1h1M10 2h1m2 0h1m1 0h1M49 2h1m2 0h1M64 2h1M0 3h1M18 3h1m2 0h1M52 3h1M75 3h1m3 0h1m31 0h1M12 4h1M56 4h1m1 0h1M91 4h1M81 5h1m4 0h1M49 6h1M96 6h1m28 0h1M72 7h2m6 0h1M41 8h1m4 0h1m2 0h1m2 0h1m4 0h2M76 8h2m4 0h2m1 0h1m1 0h1m12 0h2M17 9h1M77 9h1M21 10h1m33 0h1m10 0h1m3 0h2m8 0h1m2 0h1m3 0h3m10 0h1M27 11h1m21 0h1m2 0h1m35 0h1M19 12h1m14 0h1m1 0h1m18 0h1m14 0h1m4 0h2m12 0h1M12 13h1m3 0h1m68 0h1m30 0h1M0 14h2m2 0h3m10 0h2m32 0h1m3 0h1m14 0h1m3 0h2m22 0h1M39 15h1m9 0h1m17 0h1m4 0h1m7 0h2M10 16h1m1 0h2m1 0h1m5 0h1m1 0h1m22 0h3m12 0h1m1 0h1m6 0h1m17 0h3m3 0h1m2 0h1m28 0h1M95 17h1M52 18h1m15 0h1m12 0h1M0 19h3m4 0h1m1 0h1m5 0h1m25 0h1m4 0h2m4 0h1m16 0h3m17 0h3M0 20h3m12 0h2m1 0h1m7 0h1m1 0h1m2 0h1m1 0h2m29 0h1m1 0h1m9 0h1m19 0h1m1 0h1m1 0h3m12 0h1M73 21h1m3 0h1m2 0h1M12 22h1m24 0h1m6 0h1m23 0h1m26 0h1m1 0h1m2 0h2m2 0h1M33 23h2m1 0h2m1 0h1m6 0h1m26 0h1m1 0h1m8 0h1m1 0h1m14 0h1m2 0h4M23 24h1m10 0h3m13 0h2m2 0h1m7 0h1m2 0h1m21 0h1m33 0h1"/>
<path stroke="#d3d3d3" d="M12 0h1M70 0h1m41 0h1M73 1h1M17 2h1M11 3h1m8 0h1M121 6h1M50 8h1m5 0h1m49 0h1M68 9h1m3 1h1m8 0h1M63 12h1m61 0h2M14 13h1m103 0h1m2 0h1M87 14h1m3 1h1m29 0h1M52 16h1m11 0h2m59 0h1M23 19h1m24 0h1m30 0h1m1 0h1M10 20h1m60 0h1m12 0h1m12 0h1m27 0h2M55 21h1m16 0h1m29 1h1M38 23h1m8 0h1m41 0h1m13 0h1M55 24h1"/>
<path stroke="#d3d0d0" d="M109 0h1m3 0h1m-4 3h1m15 3h1m-12 6h1"/>
<path stroke="#d4cece" d="M17 8h1m60 7h1m38 5h1"/>
<path stroke="#d4cbcb" d="M21 0h1m9 0h1m88 1h1M33 3h1M90 3h1M25 6h1M55 7h1M87 7h1M10 8h5M92 8h1M28 10h1m29 2h1m18 0h1M49 14h1M33 18h1m1 0h1m50 0h1m1 0h1M3 19h2m27 0h2m2 0h2M21 20h1m24 0h3m54 0h6M76 21h1M31 22h2m31 1h2m3 0h1M33 24h1m36 0h1m9 0h1"/>
<path stroke="#d5c8c8" d="M1 0h1M56 0h1m8 0h1M92 0h1m18 1h1m13 0h1M13 3h1M32 3h1M66 3h1M22 6h3m93 0h1M67 7h1m2 0h1m5 0h2M15 8h2m32 2h1m18 0h1m7 0h1M66 12h1m49 0h1M52 15h1m3 1h1M34 18h1m52 0h1m1 0h1M31 19h1m18 0h1m70 0h1M8 20h1M1 22h1m31 0h1m56 2h1m2 0h1"/>
<path stroke="#d5c6c6" d="M97 10h1m23 6h1m4 3h1m-6 2h1m3 1h1m-3 2h1"/>
<path stroke="#d6c3c3" d="M109 3h1m2 0h1m2 3h1m8 0h1m3 0h1m-8 6h1m-12 2h1m14 0h1m-9 2h1m2 0h1m6 0h1m-3 2h1m-15 1h1"/>
<path stroke="#d6c1c1" d="M121 2h1M56 3h1m56 0h1m7 1h1m3 0h1m3 2h1M96 8h1M23 11h3m92 1h1m8 0h1m1 0h1M18 13h1m108 0h1m-16 1h1M58 16h1m63 0h1m-9 3h1m7 0h1m2 0h1m-2 1h1m-15 4h1"/>
<path stroke="#d6bebe" d="M57 3h2m55 0h1m4 3h1M19 8h1m92 1h1m4 3h1m3 5h1"/>
<path stroke="#d7bbbb" d="M121 1h1m5 5h1M115 19h1"/>
<path stroke="#d8b6b6" d="M128 8h1"/>
<path stroke="#d8b3b3" d="M116 7h1m5 1h1m3 0h1m-9 12h1m3 0h1m-5 3h1"/>
<path stroke="#d9b1b1" d="M93 2h1m31 0h1M50 3h1m76 0h1m-2 1h1M117 6h1M49 7h1m1 0h1m74 2h1M52 10h1m72 0h1m3 0h1M22 11h1m101 0h2m-2 1h1m-14 1h1m13 0h1M10 14h1m1 0h2m39 0h1m36 0h1m19 1h3m5 1h1m4 0h1m4 0h1M32 18h1m47 0h1m29 1h1M52 21h1m61 0h1m10 0h1m-21 1h2m2 0h3m6 0h1m6 1h1M56 24h1m68 0h1"/>
<path stroke="#d9aeae" d="M112 1h1M90 2h1M63 3h1m64 0h1M110 4h1m6 0h1m6 0h1m1 1h1M116 6h1m6 0h1M52 7h1m75 0h1m-5 1h1m2 0h1M117 9h2M21 11h1m99 0h1M17 13h1m94 0h1M15 14h1m51 0h1m52 0h3m3 0h1m-18 1h1m3 0h2M32 16h1m2 0h2m82 0h1m9 0h1M78 18h1m4 0h1m45 0h1M38 19h1m73 0h1m4 0h1m-9 1h1m6 0h1M41 22h2m3 0h1m60 0h2M71 23h1m50 0h1m3 1h1"/>
<path stroke="#daabab" d="M121 0h1m-8 1h1m-6 4h1m19 0h1M120 6h1m-6 1h1m-4 1h1m4 0h1m3 0h1m5 1h1m-12 2h2m2 1h1m1 0h1m-7 4h1m6 1h1m0 2h1m4 0h1m-11 1h3m1 0h1m2 2h1m-10 1h1m8 0h1"/>
<path stroke="#daa9a9" d="M122 6h1m-6 1h1m7 0h1m-3 1h1m4 1h1m-1 3h1m-19 1h1m1 9h1m14 2h1"/>
<path stroke="#daa6a6" d="M121 9h1m-3 3h1m-9 2h1m17 3h1m-12 2h1"/>
<path stroke="#dba4a4" d="M123 12h1"/>
<path stroke="#dba1a1" d="M114 7h1m7 3h1m-6 4h1m-3 2h1"/>
<path stroke="#dc9e9e" d="M124 0h1M10 3h1M119 3h1m-9 1h1m10 0h1M111 5h1m5 0h1m4 2h1m6 1h1m-12 3h1m8 0h1m-14 3h1m1 0h1m5 1h1M95 18h1m-1 2h1m18 2h1m4 0h1m2 0h1M95 23h1m18 1h1m13 0h1"/>
<path stroke="#dc9c9c" d="M110 1h1m-1 1h2M12 3h1M88 3h1m26 0h1m-2 1h1m6 1h1m-8 1h1m-4 1h1m-3 1h1m15 0h1M114 9h1m1 0h1m2 0h1m2 0h1m1 0h1m-15 1h1m6 0h1m-3 1h1m6 0h1m3 0h1M94 12h1m14 1h1m3 0h1M57 18h1m65 0h1M14 19h1m34 2h1m68 0h1m1 0h1m7 0h1m-15 2h1m4 0h1m4 0h1m2 0h1m-13 1h1"/>
<path stroke="#dd9999" d="M127 1h1m-4 1h1m-7 1h1m3 0h1M109 4h1m3 0h1m4 0h1m-5 1h1m10 0h1m-8 2h2m1 0h1m1 0h1m3 0h1M118 8h1m-4 1h1m13 0h1m-19 1h1m-3 1h2m8 0h1m8 0h1m-14 2h1m12 0h1m-20 1h1m6 4h1m5 0h1m-10 1h1m-3 1h2m4 1h1M48 22h1m64 0h1m10 0h1M88 23h1m21 0h1m2 0h1m1 0h1m6 1h1"/>
<path stroke="#dd9696" d="M119 0h1m2 1h2M112 2h1m9 0h1m-7 1h1m4 0h1m7 0h1M112 4h1m3 0h1m-5 1h1m2 0h1m2 0h1m3 0h1m-3 2h1m3 0h1m1 0h1m2 0h1M115 8h1m3 0h1m5 1h1m-5 1h1m-11 1h1m2 0h1m4 2h1m-7 1h1m4 0h1m4 0h1m-1 1h3m-8 2h1m-2 1h1m3 0h1m2 0h1m-14 3h1m1 0h1m2 0h1m-2 1h3m5 0h1m-8 1h1m3 1h1"/>
<path stroke="#de9494" d="M115 0h1m1 1h1m10 0h1M114 2h1m5 1h1m-6 1h1m-5 4h1m2 0h1m1 0h1m9 2h1m-7 1h1m-2 3h1m4 0h1m2 0h1m1 0h1m-18 7h1m13 0h1m-15 2h1"/>
<path stroke="#de9191" d="M109 19h1m17 2h1m-17 2h1"/>
<path stroke="#de8e8e" d="M118 1h1"/>
<path stroke="#df8989" d="M123 2h1m0 19h1"/>
<path stroke="#e08787" d="M116 0h1m2 1h1M110 5h1m8 0h1m-7 5h1m1 7h1M47 22h1"/>
<path stroke="#e08484" d="M117 0h1m5 0h1M109 2h1m6 0h1m1 0h1m6 1h2m-8 1h1M109 9h1m6 1h1m7 0h1m-13 1h1m2 4h1m-6 1h1m-1 1h1m15 0h1m-16 1h1m14 0h1m-7 1h1m-11 2h1m7 3h2"/>
<path stroke="#e18181" d="M125 0h1M115 1h2m7 0h1M113 2h1m3 0h1m1 0h2m6 0h2M117 3h1m5 0h1m5 1h1M120 5h1m2 0h1M110 9h1m-2 1h1m8 0h1m-5 3h1m0 1h1m0 1h2m1 0h1m8 0h1m-18 1h1m-3 1h1m1 0h1m2 0h1m1 0h1m5 0h1m2 0h1m-17 1h2m1 0h1m1 0h2m2 0h3m-2 1h1m8 1h2m-15 1h1m6 0h2m3 1h1"/>
<path stroke="#e17f7f" d="M109 1h1m3 0h1m1 1h1m0 3h1m-6 4h1m8 0h1m-9 1h1m1 0h2m4 0h1m6 0h1m-15 1h1m-2 6h1m11 0h1m-2 2h1m-5 2h1m8 1h1m-17 2h1m3 0h2"/>
<path stroke="#e17c7c" d="M118 0h1m5 3h1m-1 2h1m-5 3h1m-2 2h1m6 3h1m-1 2h2m-15 3h1m-1 2h2"/>
<path stroke="#e27979" d="M126 2h1m-9 13h1"/>
<path stroke="#e46c6c" d="M68 3h1m51 1h1M70 9h2M90 22h1"/>
<path stroke="#e46a6a" d="M120 0h1m1 0h1M112 7h1m15 3h1m-17 2h1m9 1h1"/>
<path stroke="#e56767" d="M127 5h1M110 6h1m1 0h1m-3 1h1m2 0h1m9 3h1m-14 2h1m9 5h1m6 1h1m-12 1h1m12 4h1m-17 1h1"/>
<path stroke="#e56464" d="M127 0h1m1 2h1m-3 2h1M113 5h1m-3 1h1m-1 6h1m12 1h1m4 2h1m-2 3h1m-5 6h1"/>
<path stroke="#e66262" d="M128 4h1m-1 1h1m0 6h1m-16 5h1m12 1h1m1 4h1m-1 1h1"/>
<path stroke="#e65f5f" d="M120 13h1m-8 3h1m-5 7h1"/>
<path stroke="#e75a5a" d="M123 13h1"/>
<path stroke="#ea4a4a" d="M129 13h1m-13 4h1m-9 7h1"/>
<path stroke="#ea4747" d="M129 1h1"/>
<path stroke="#eb4545" d="M113 8h1m5 9h1m7 2h1m-8 3h1"/>
<path stroke="#eb4242" d="M126 1h1m-4 3h1M109 7h1m13 4h1m-10 1h1m-2 5h1m14 2h1"/>
<path stroke="#ec3f3f" d="M113 12h1m-4 8h1m-2 1h1m13 2h1m5 1h1"/>
<path stroke="#ec3a3a" d="M129 0h1"/>
<path stroke="#ef2828" d="M128 14h1"/>
<path stroke="#f02525" d="M113 6h1m-5 10h1m10 7h1"/>
<path stroke="#f12020" d="M110 8h1m6 5h1"/>
<path stroke="#f11d1d" d="M109 12h1m10 3h1"/>
<path stroke="#f21a1a" d="M126 0h1"/>
<path stroke="#f60303" d="M112 16h1"/>
<path stroke="#f60000" d="M109 6h1m3 3h1m13 11h1"/>
</g></g>
<text transform="translate(1935.2 1110.6) scale(1 1.03)" font-size="45.4" font-style="italic">SNORD3C</text>
<text transform="translate(1935.2 1155.7) scale(1 1.03)" font-size="45.4" font-style="italic">LOC644838</text>
<text transform="translate(1935.2 1200.8) scale(1 1.03)" font-size="45.4" font-style="italic">PART1</text>
<text transform="translate(1935.2 1245.9) scale(1 1.03)" font-size="45.4" font-style="italic">LOC101243545</text>
<text transform="translate(1935.2 1291.0) scale(1 1.03)" font-size="45.4" font-style="italic">DLGAP1−AS5</text>
<text transform="translate(1935.2 1336.1) scale(1 1.03)" font-size="45.4" font-style="italic">FOXCUT</text>
<text transform="translate(1935.2 1381.2) scale(1 1.03)" font-size="45.4" font-style="italic">LINC01482</text>
<text transform="translate(1935.2 1426.3) scale(1 1.03)" font-size="45.4" font-style="italic">LOC102723517</text>
<text transform="translate(1935.2 1471.4) scale(1 1.03)" font-size="45.4" font-style="italic">CBR3−AS1</text>
<text transform="translate(1935.2 1516.5) scale(1 1.03)" font-size="45.4" font-style="italic">CLDN10−AS1</text>
<text transform="translate(1935.2 1561.6) scale(1 1.03)" font-size="45.4" font-style="italic">SOX9−AS1</text>
<text transform="translate(1935.2 1606.7) scale(1 1.03)" font-size="45.4" font-style="italic">TUSC8</text>
<text transform="translate(1935.2 1651.8) scale(1 1.03)" font-size="45.4" font-style="italic">CHRM3−AS2</text>
<text transform="translate(1935.2 1696.9) scale(1 1.03)" font-size="45.4" font-style="italic">LINC00330</text>
<text transform="translate(1935.2 1742.0) scale(1 1.03)" font-size="45.4" font-style="italic">ARHGAP5−AS1</text>
<text transform="translate(1935.2 1787.1) scale(1 1.03)" font-size="45.4" font-style="italic">LOC101927318</text>
<text transform="translate(1935.2 1832.2) scale(1 1.03)" font-size="45.4" font-style="italic">LOC104054148</text>
<text transform="translate(1935.2 1877.3) scale(1 1.03)" font-size="45.4" font-style="italic">FAM225A</text>
<text transform="translate(1935.2 1922.4) scale(1 1.03)" font-size="45.4" font-style="italic">LOC284578</text>
<text transform="translate(1935.2 1967.5) scale(1 1.03)" font-size="45.4" font-style="italic">LINC00346</text>
<text transform="translate(1935.2 2012.6) scale(1 1.03)" font-size="45.4" font-style="italic">LOC101927190</text>
<text transform="translate(1935.2 2057.7) scale(1 1.03)" font-size="45.4" font-style="italic">LOC102723505</text>
<text transform="translate(1935.2 2102.8) scale(1 1.03)" font-size="45.4" font-style="italic">ARHGEF26−AS1</text>
<text transform="translate(1935.2 2147.9) scale(1 1.03)" font-size="45.4" font-style="italic">FUT8−AS1</text>
<text transform="translate(1935.2 2193.0) scale(1 1.03)" font-size="45.4" font-style="italic">LINC00920</text>
<text transform="translate(1096.0 2274.0) scale(1 1.03)" font-size="53">(E)</text>
<g shape-rendering="crispEdges">
<rect x="1167.9" y="2313.2" width="58.55" height="33.9" fill="#ee0000"/>
<rect x="1226.45" y="2313.2" width="58.55" height="33.9" fill="#bf1ff5"/>
<rect x="1284.99" y="2313.2" width="64.4" height="33.9" fill="#004c8f"/>
<rect x="1349.39" y="2313.2" width="105.38" height="33.9" fill="#48ee8c"/>
<rect x="1454.78" y="2313.2" width="40.98" height="33.9" fill="#008b8b"/>
<rect x="1495.76" y="2313.2" width="58.55" height="33.9" fill="#9fe2e6"/>
<rect x="1554.3" y="2313.2" width="70.26" height="33.9" fill="#ff69b4"/>
<rect x="1624.56" y="2313.2" width="58.55" height="33.9" fill="#cd2f62"/>
<rect x="1683.11" y="2313.2" width="46.84" height="33.9" fill="#008b00"/>
<rect x="1729.94" y="2313.2" width="76.11" height="33.9" fill="#ff7f50"/>
<rect x="1806.05" y="2313.2" width="122.95" height="33.9" fill="#ffc300"/>
</g>
<text transform="translate(1933.4 2347.1) scale(1 1.03)" font-size="46">Tissue</text>
<g shape-rendering="crispEdges">
<rect x="1167.9" y="2355.9" width="761.1" height="559.6" fill="#c3c3d3"/>
<g transform="translate(1167.9 2375.8857) scale(5.8546 39.9714)" fill="none" stroke-width="1">
<path stroke="#b3b3d2" d="M22 12h1m5 0h1"/>
<path stroke="#b6b6d2" d="M20 7h1m2 0h1m1 0h1m1 0h1m1 0h1M76 7h1M16 9h1m3 0h2m1 0h1m1 0h3m1 0h1m9 0h1m1 0h1m2 0h1M81 9h2m2 0h1m1 0h1M17 11h1m2 0h1m4 0h1m2 0h1m9 0h1m5 0h2m1 0h1m6 0h1m14 0h2m3 0h1m10 0h3M1 12h1m4 0h2m4 0h1m8 0h1m2 0h3m33 0h2m1 0h1"/>
<path stroke="#b9b9d2" d="M21 7h2m1 0h1m1 0h1m1 0h1M72 7h4M10 9h4m1 0h1m1 0h3m2 0h1m1 0h1m3 0h1m1 0h1m9 0h1m1 0h2m1 0h1M79 9h2m2 0h2M16 11h1m1 0h2m1 0h2m1 0h1m1 0h2m1 0h4m4 0h1m1 0h2m1 0h2m2 0h1m6 0h1m1 0h1m15 0h3m1 0h1m8 0h1m3 0h1M0 12h1m1 0h4m2 0h4m1 0h3m4 0h1m2 0h1m3 0h1m1 0h1m1 0h6m19 0h4m2 0h1m1 0h1"/>
<path stroke="#bbbbd2" d="M23 4h1m2 0h1m2 0h1M99 6h1m0 1h1M86 9h1M41 11h1M30 12h1"/>
<path stroke="#bebed2" d="M86 1h1M22 4h1m1 0h1m2 0h2m1 0h1M1 6h1M9 6h1m5 0h1M33 6h1m3 0h1m2 0h1m7 0h2M92 6h2m1 0h4m1 0h1m2 0h2M2 7h2m6 0h1m8 0h1M34 7h1M45 7h2m4 0h1m2 0h1m6 0h3m4 0h1m8 0h2m4 0h1M97 7h2m2 0h5m1 0h1M2 9h1M4 9h1M7 9h1M32 9h1m1 0h1M52 9h1M88 9h1M0 11h1m3 0h3m1 0h1m53 0h1m14 0h2m12 0h2m5 0h1M43 12h1m21 0h2m7 0h1m4 0h1m4 0h1m3 0h2"/>
<path stroke="#c1c1d2" d="M128 0h1M10 1h3m1 0h2m1 0h2m1 0h5m1 0h3m2 0h1m1 0h3m3 0h10m1 0h1m2 0h3m3 0h6m1 0h2m1 0h3m9 0h5m1 0h1m1 0h1m1 0h4m13 0h1M35 2h1M64 2h1M19 3h1M51 3h1M25 4h1m5 0h1M77 4h1M0 6h1M2 6h6m2 0h1m1 0h3m1 0h1m2 0h3m3 0h8m1 0h2m7 0h1m2 0h1m3 0h2m1 0h11m2 0h2m1 0h1m2 0h1M83 6h1m2 0h1m1 0h2m1 0h1m2 0h1m6 0h2M0 7h1M4 7h5m3 0h7M30 7h1M43 7h2m3 0h1m1 0h1m2 0h1m1 0h1m3 0h2m3 0h1m4 0h3m7 0h1m2 0h1m1 0h7m1 0h2m2 0h1m2 0h1m6 0h1m1 0h1M0 9h2M3 9h1M5 9h2M9 9h1M31 9h1m1 0h1m1 0h4m7 0h6m4 0h1m5 0h2m3 0h1m2 0h1m7 0h1M91 9h1m1 0h1m14 0h1M2 11h1m4 0h1m1 0h5m1 0h1m18 0h2m12 0h1m7 0h2m1 0h1m1 0h1m1 0h2m1 0h1m1 0h1m7 0h1m3 0h3m6 0h1m5 0h2m11 0h1M37 12h4m1 0h1m1 0h2m3 0h6m13 0h6m1 0h3m3 0h3m1 0h1m4 0h1m9 0h1M26 13h1m14 0h1m38 0h1"/>
<path stroke="#c6c6d3" d="M2 0h1M4 0h1M6 0h6m3 0h2m1 0h1m1 0h1m1 0h1m1 0h2m1 0h3m1 0h2m2 0h1m2 0h1m1 0h12m2 0h7m2 0h2m1 0h2m2 0h1m3 0h2m1 0h4m2 0h3m4 0h6m2 0h6M1 2h1M5 2h3m3 0h1m6 0h2m3 0h1m2 0h1M39 2h2m5 0h1M58 2h1m1 0h1m1 0h2m5 0h1m1 0h1m3 0h1m4 0h2m4 0h1m2 0h2m3 0h1m3 0h1m6 0h1M10 3h1m1 0h2m2 0h1m4 0h2m1 0h1m9 0h1M47 3h1m9 0h1m8 0h1m2 0h1m2 0h1m1 0h2m1 0h3m3 0h1m4 0h1m3 0h1m4 0h2M0 4h2M8 4h1m6 0h1m1 0h1m1 0h2M33 4h1m1 0h2m3 0h1m5 0h1m7 0h1M67 4h1m3 0h1m1 0h3M90 4h1m2 0h2m3 0h2m3 0h1m1 0h1m1 0h1M0 5h1M2 5h1M4 5h1M6 5h8m1 0h3m1 0h6m2 0h7m1 0h6m1 0h2m2 0h3m1 0h2m1 0h1m1 0h1m1 0h3m1 0h1m1 0h14m1 0h1m1 0h3m3 0h1m1 0h3m1 0h1m1 0h2m1 0h4m2 0h6M0 8h1M2 8h2M5 8h1M8 8h1m1 0h4m1 0h1m1 0h13m1 0h1m2 0h3m4 0h1m1 0h1m1 0h2m2 0h8m1 0h5m1 0h4m1 0h5m1 0h10m1 0h2m2 0h4m1 0h4m1 0h5m1 0h2M2 10h1m5 0h1m4 0h1m1 0h1m6 0h1m11 0h1m13 0h1m4 0h1m11 0h1m4 0h1m7 0h2m3 0h1m4 0h1m7 0h1m3 0h1M3 13h1m3 0h1m10 0h2m5 0h1m1 0h1m8 0h1m9 0h1m3 0h1m3 0h2m3 0h1m5 0h1m1 0h1m2 0h2m2 0h1m1 0h1m2 0h1m5 0h1m5 0h1m2 0h1m4 0h2m2 0h1"/>
<path stroke="#c8c8d3" d="M19 0h1m6 0h1m3 0h1m2 0h1m3 0h1M62 0h1m6 0h1m2 0h1m9 0h1m6 0h1M28 2h1M26 5h1M45 5h1M62 5h1M77 5h1M96 5h1m5 0h1M42 7h1M30 8h1m2 0h1M85 8h1m3 0h1m15 0h1M72 9h1m34 0h1M0 10h2m1 0h5m1 0h2m1 0h1m3 0h6m1 0h11m1 0h13m2 0h3m1 0h11m1 0h4m1 0h7m3 0h2m1 0h4m1 0h2m1 0h4m1 0h3m1 0h8m8 0h1"/>
<path stroke="#cbcbd3" d="M120 0h1M6 1h3M72 1h1m1 0h1M99 1h4m1 0h1m1 0h2M6 3h3M38 3h1m3 0h1M10 4h3M78 6h2M35 7h1m5 0h1M57 9h1M94 9h1m8 0h1m1 0h1M11 10h1m68 0h1m10 0h1m23 0h1m9 0h1M99 11h1m1 0h1m-8 1h1m4 0h1"/>
<path stroke="#ceced3" d="M52 0h1M65 0h1M0 1h5M9 1h1M75 1h1M95 1h4m4 0h1m1 0h1M0 3h2M3 3h1M5 3h1M31 3h1m4 0h1m2 0h2M13 4h1M74 6h2M31 7h1m4 0h1M65 7h1m1 0h1M81 7h1M32 8h1M68 8h1M94 8h1M8 9h1M59 9h2M71 9h1m1 0h2m1 0h1M99 9h2M14 10h1m34 0h1m69 0h1M1 11h1m50 0h1m50 0h1m1 0h1m1 0h1M17 12h1m1 0h1m21 0h1m36 0h1m14 0h1m1 0h2M22 13h1"/>
<path stroke="#d0d0d3" d="M12 0h2m3 0h1m3 0h1m1 0h1M36 0h1M71 0h1M97 0h1m10 0h1M5 1h1M49 1h1m1 0h2m3 0h1M68 1h1m7 0h2M90 1h1m30 0h1M41 2h1M2 3h1M4 3h1M9 3h1M32 3h2m1 0h1M48 3h1m6 1h1m3 0h1M78 4h3m3 0h1M49 5h1m2 0h1m61 0h1m13 0h1M8 6h1m2 0h1m5 0h2M36 6h1m1 0h1m2 0h2m2 0h1m1 0h1M65 6h1m7 0h1m2 0h2M90 6h1m15 0h2m7 0h1m1 0h1M1 7h1M9 7h1M32 7h1m4 0h4M56 7h3m7 0h1M91 7h1M14 8h1M37 8h1m9 0h1M14 9h1M58 9h1M75 9h1m1 0h1M92 9h1m5 0h1m2 0h1m2 0h1m1 0h1m22 1h1M14 11h1m8 0h1m26 0h2m13 0h1m17 0h1m16 0h1m1 0h1m1 0h1m1 0h1M16 12h1m1 0h1m27 0h3m31 0h1m11 0h1M23 13h2m43 0h1"/>
<path stroke="#d3d3d3" d="M107 0h1M73 1h1m6 0h1M37 3h1m3 0h1M90 3h1M18 5h1M129 5h1M80 6h2m23 0h1M11 7h1M61 9h1M95 9h1m1 0h1m4 0h1m18 1h2m3 0h1M33 11h1m2 0h1m12 0h1m17 0h1m29 1h2"/>
<path stroke="#d3d0d0" d="M109 0h1m3 5h1M96 9h1m27 1h1"/>
<path stroke="#d4cece" d="M24 6h1"/>
<path stroke="#d4cbcb" d="M68 0h1M58 1h1m62 2h1M49 4h1m1 0h2M82 4h1m4 0h1M82 6h1M53 9h3m8 0h2M90 9h1m6 2h1M86 12h2m14 0h3"/>
<path stroke="#d5c8c8" d="M88 0h1m40 0h1M44 3h1m5 1h1M86 4h1M22 6h2M87 6h1M47 7h1m1 0h1M66 9h1m-9 2h1m42 1h1"/>
<path stroke="#d5c6c6" d="M118 10h1"/>
<path stroke="#d6c3c3" d="M109 5h1m12 1h2m2 0h1m0 6h1"/>
<path stroke="#d6c1c1" d="M117 0h1m-2 5h1m2 0h1m4 0h1m-4 1h1m1 4h1m3 0h1m-7 1h1"/>
<path stroke="#d6bebe" d="M117 5h1m0 1h3m3 0h2"/>
<path stroke="#d8b6b6" d="M109 11h1"/>
<path stroke="#d8b3b3" d="M114 0h1m-4 3h1m-1 2h1m4 5h1"/>
<path stroke="#d9b1b1" d="M52 2h1M45 3h1m76 2h1M108 6h1m20 1h1m-8 2h1m2 0h1M93 11h2m29 0h1m-10 1h1"/>
<path stroke="#d9aeae" d="M113 0h1M88 1h1m25 0h1M49 2h1m60 3h1M84 6h1m26 0h1m4 0h1M33 7h1M52 7h1M80 7h1m42 0h1m1 0h1m2 1h2M89 9h1m31 0h1m-11 1h1m-7 2h4m20 0h1"/>
<path stroke="#daabab" d="M126 0h2M110 3h1m9 2h1m6 1h1m1 0h1m-6 1h1m3 0h1M109 8h1m2 1h1m1 1h1m5 0h1m-5 2h1m-5 1h1m8 0h1"/>
<path stroke="#daa9a9" d="M111 1h1m0 4h1m-1 1h1m1 0h1m2 6h1"/>
<path stroke="#daa6a6" d="M110 0h1"/>
<path stroke="#dba1a1" d="M118 1h1m6 1h1m-12 9h1"/>
<path stroke="#dc9e9e" d="M127 1h1m-4 2h1m-4 1h1M95 7h1m31 0h1m-8 5h1"/>
<path stroke="#dc9c9c" d="M116 0h1m1 0h1m5 0h1M112 1h1m1 1h1m7 0h1m-1 1h1m4 0h1m-8 1h1m1 0h1M52 6h1M68 6h1m1 0h2m43 1h1m6 0h1M113 8h2m11 0h1M109 9h1m1 0h1m2 0h1m1 0h1M90 11h1M55 12h1m62 0h1m3 0h2m2 0h1m1 0h1m-3 1h1"/>
<path stroke="#dd9999" d="M111 0h1m3 0h1m7 0h1M109 1h2m2 0h1m3 0h1m8 0h1m-4 1h2M109 3h1m19 0h1m-3 1h3m-3 1h1M109 7h1m1 0h1m2 0h1m5 0h1m5 0h1m-2 1h1m-7 1h1m3 0h1m3 0h3m-18 2h2m1 0h1m3 1h1m4 0h1m-11 1h1m7 0h2"/>
<path stroke="#dd9696" d="M119 1h1m5 0h1M111 2h1m9 0h1M112 3h3m10 0h1m0 1h1m-1 1h1M113 7h1m-4 1h3m0 1h1m1 0h1m4 0h1m-11 2h2m10 0h1m2 0h2m-18 2h1m14 0h2"/>
<path stroke="#de9494" d="M122 1h1m3 2h1M110 6h1m5 1h1m1 0h1m6 5h1m-16 1h2"/>
<path stroke="#de9191" d="M117 7h1"/>
<path stroke="#de8e8e" d="M110 9h1"/>
<path stroke="#df8989" d="M116 3h1m6 5h1"/>
<path stroke="#e08787" d="M115 1h1m-4 3h1m4 5h1m-2 2h1m-6 1h1"/>
<path stroke="#e08484" d="M124 1h1M110 2h1m1 0h1m3 0h1m10 0h2M109 4h1m7 0h1m7 1h1M112 7h1m6 0h1m7 1h1m-8 3h1m-9 1h2m3 1h1"/>
<path stroke="#e18181" d="M125 0h1m-3 1h1m-9 1h1m1 0h3m9 0h1M118 3h2M110 4h2m3 0h1m3 0h1m3 0h2m3 2h1M116 8h2m3 0h2m-5 1h1m-1 2h2m8 0h1m-16 2h1m4 0h1m10 0h1"/>
<path stroke="#e17f7f" d="M116 1h1m-8 1h1m10 0h1m-4 1h1m-4 1h1m1 0h1m1 0h1m6 0h1m-7 4h2m3 1h1m1 0h1m0 2h1m-19 1h1m11 0h1m-6 1h1m3 0h1"/>
<path stroke="#e17c7c" d="M112 0h1m2 3h1m-1 5h1m1 3h1m11 0h1m-20 1h1m8 1h1"/>
<path stroke="#e27979" d="M115 13h1m11 0h1"/>
<path stroke="#e46c6c" d="M128 1h1"/>
<path stroke="#e46a6a" d="M118 8h1m-5 4h1"/>
<path stroke="#e56767" d="M113 2h1m6 1h1"/>
<path stroke="#e56464" d="M119 0h1m9 1h1m-4 1h1m-4 1h1M113 4h1m-4 3h1m13 1h1"/>
<path stroke="#e66262" d="M120 1h1m-12 9h1m13 1h1"/>
<path stroke="#e65f5f" d="M128 3h1M115 5h1m-7 1h1m18 7h1"/>
<path stroke="#eb4545" d="M118 5h1"/>
<path stroke="#ec3f3f" d="M122 0h1m-2 7h1"/>
<path stroke="#f02222" d="M110 10h1"/>
<path stroke="#f11d1d" d="M112 10h1"/>
<path stroke="#f21a1a" d="M121 0h1"/>
<path stroke="#f60000" d="M121 5h1m-9 1h1m-1 4h1"/>
</g></g>
<text transform="translate(1934.2 2390.9) scale(1 1.03)" font-size="45.4" font-style="italic">ASCL3</text>
<text transform="translate(1934.2 2430.9) scale(1 1.03)" font-size="45.4" font-style="italic">CREB3L4</text>
<text transform="translate(1934.2 2470.9) scale(1 1.03)" font-size="45.4" font-style="italic">ELF5</text>
<text transform="translate(1934.2 2510.9) scale(1 1.03)" font-size="45.4" font-style="italic">ETV1</text>
<text transform="translate(1934.2 2550.9) scale(1 1.03)" font-size="45.4" font-style="italic">FOXC1</text>
<text transform="translate(1934.2 2590.9) scale(1 1.03)" font-size="45.4" font-style="italic">LTF</text>
<text transform="translate(1934.2 2630.9) scale(1 1.03)" font-size="45.4" font-style="italic">POU5F1B</text>
<text transform="translate(1934.2 2670.9) scale(1 1.03)" font-size="45.4" font-style="italic">RUNX2</text>
<text transform="translate(1934.2 2710.9) scale(1 1.03)" font-size="45.4" font-style="italic">SIX1</text>
<text transform="translate(1934.2 2750.9) scale(1 1.03)" font-size="45.4" font-style="italic">SIX4</text>
<text transform="translate(1934.2 2790.9) scale(1 1.03)" font-size="45.4" font-style="italic">SIX6</text>
<text transform="translate(1934.2 2830.9) scale(1 1.03)" font-size="45.4" font-style="italic">TET1</text>
<text transform="translate(1934.2 2870.9) scale(1 1.03)" font-size="45.4" font-style="italic">TFCP2L1</text>
<text transform="translate(1934.2 2910.9) scale(1 1.03)" font-size="45.4" font-style="italic">TLX1</text>
</svg></body></html>
